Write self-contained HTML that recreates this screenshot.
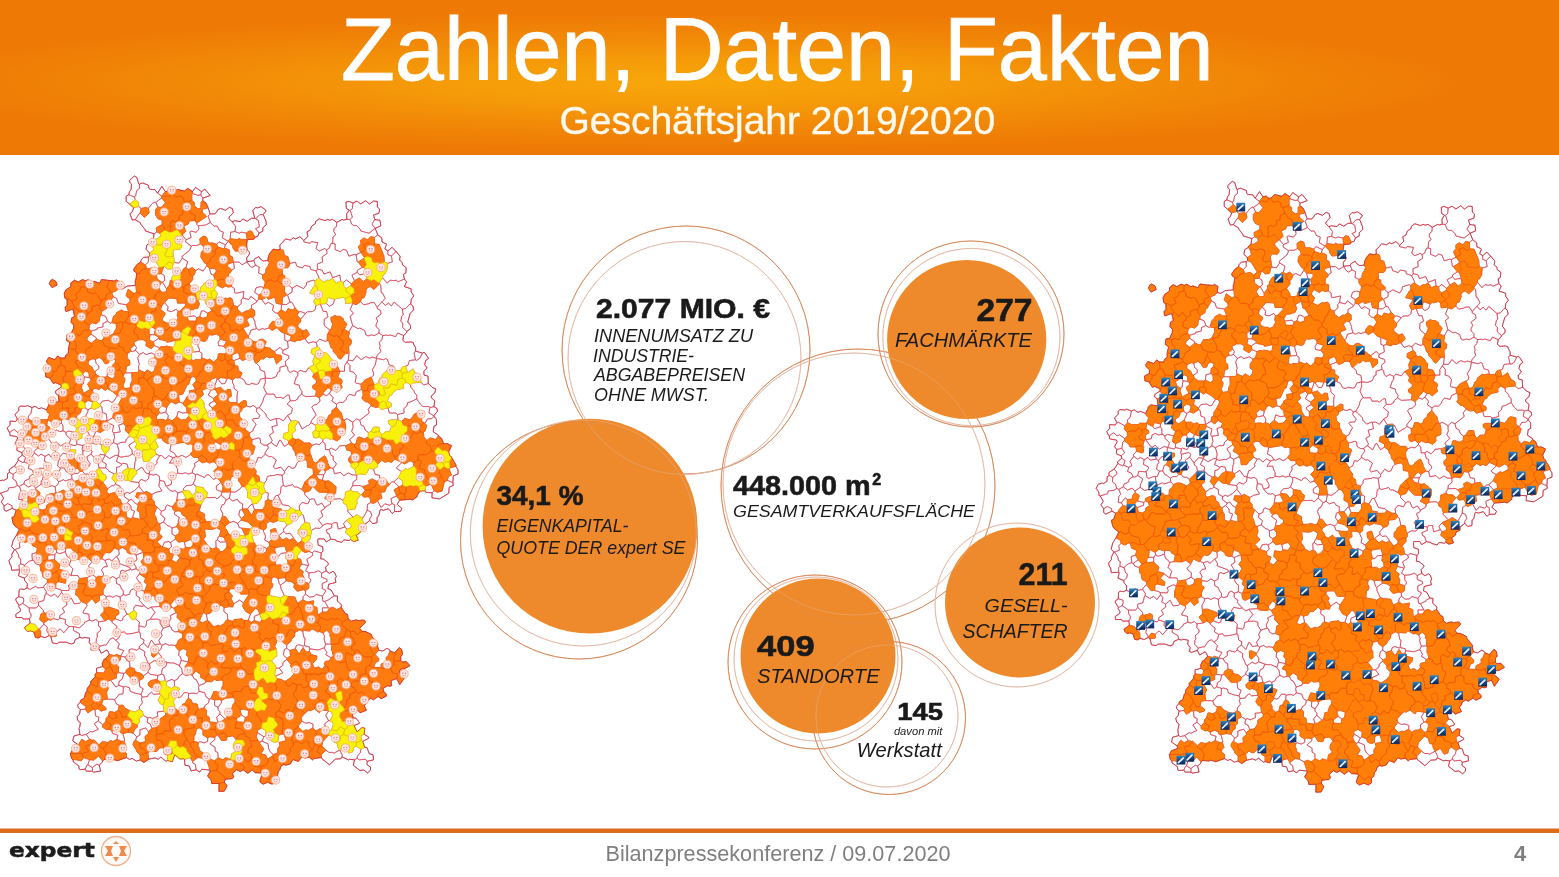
<!DOCTYPE html>
<html lang="de">
<head>
<meta charset="utf-8">
<title>Zahlen, Daten, Fakten – Geschäftsjahr 2019/2020</title>
<style>
html,body{margin:0;padding:0;background:#fff;}
body{width:1559px;height:877px;overflow:hidden;position:relative;font-family:"Liberation Sans",Arial,Helvetica,sans-serif;}
svg{position:absolute;left:0;top:0;display:block;}
text{font-family:"Liberation Sans",Arial,Helvetica,sans-serif;}
.b{font-weight:bold;fill:#1a1a1a;stroke:#1a1a1a;stroke-width:0.6;}
.i{font-style:italic;fill:#1a1a1a;}
.ring{fill:none;stroke:#d88a5c;stroke-width:1;}
.ring2{fill:none;stroke:#e4bba8;stroke-width:1;}
.of{fill:#ee8a2b;}
</style>
</head>
<body>
<svg width="1559" height="877" viewBox="0 0 1559 877">
<defs>
<radialGradient id="hg" gradientUnits="userSpaceOnUse" cx="0" cy="0" r="1" gradientTransform="translate(690 82) scale(770 68)">
<stop offset="0" stop-color="#f8a70a"/>
<stop offset="0.35" stop-color="#f59a09"/>
<stop offset="0.7" stop-color="#f18707"/>
<stop offset="1" stop-color="#ee7a05"/>
</radialGradient>
</defs>
<rect x="0" y="0" width="1559" height="877" fill="#ffffff"/>
<!-- header -->
<g id="header">
<rect x="0" y="0" width="1559" height="155" fill="#ee7a05"/>
<rect x="0" y="0" width="1559" height="155" fill="url(#hg)"/>
<text x="341" y="80" font-size="88.2" fill="#ffffff" stroke="#ffffff" stroke-width="0.9">Zahlen, Daten, Fakten</text>
<text x="559.4" y="133.5" font-size="39" fill="#fff8ec" stroke="#fff8ec" stroke-width="0.4">Geschäftsjahr 2019/2020</text>
</g>
<defs>
<path id="pl" d="M50.8,120.3 49.3,123.7 52.0,127.6 57.2,125.0 56.0,121.5 52.5,119.4ZM71.7,157.9 71.1,162.3 73.8,165.2 73.4,168.7 70.7,174.4 67.2,174.7 66.3,180.2 69.8,182.7 68.3,188.6 68.3,193.5 65.5,195.4 65.1,198.1 60.2,197.9 57.7,195.9 54.8,199.6 48.8,197.5 46.7,200.8 46.8,202.5 50.3,205.7 50.3,209.6 45.3,212.2 45.8,217.0 49.9,218.1 53.4,223.6 55.5,222.6 61.2,225.1 61.1,227.2 55.7,230.9 55.7,233.4 58.2,235.2 59.0,241.0 57.2,242.1 51.8,241.2 48.9,243.7 49.0,244.7 46.5,249.8 41.3,247.8 38.8,248.7 34.9,246.2 32.1,247.5 27.3,245.5 25.6,246.4 20.3,246.0 18.7,247.7 18.8,250.5 15.0,254.5 17.4,259.0 15.8,261.5 10.0,261.1 10.1,265.1 7.2,268.0 8.9,271.8 9.7,272.3 10.1,275.5 17.0,276.7 17.7,278.0 15.1,283.5 17.3,286.2 16.8,290.4 21.8,292.6 22.3,295.1 17.9,298.7 18.4,300.3 14.6,306.0 9.2,309.6 9.5,312.3 7.5,313.7 7.5,318.3 3.6,320.5 2.6,320.0 -1.5,321.2 -3.6,325.4 -1.0,329.0 -0.6,332.6 0.5,333.0 3.6,338.3 1.3,341.9 4.1,345.9 4.0,349.6 6.1,351.3 12.3,348.3 16.1,350.2 14.4,356.3 11.9,357.5 13.0,362.9 14.4,365.5 19.3,369.3 16.6,375.1 13.2,380.4 11.6,386.6 14.4,389.6 11.7,394.8 12.1,396.7 9.0,400.5 10.0,404.7 11.1,405.4 11.7,410.2 19.2,409.9 19.7,410.8 18.5,415.8 24.5,418.2 24.5,420.2 27.4,423.7 27.0,428.0 24.1,429.4 20.8,428.9 19.1,430.1 18.8,436.7 15.9,438.6 15.8,440.1 18.9,445.4 18.7,446.5 20.4,449.2 20.5,451.1 15.7,454.4 16.1,457.5 22.1,457.5 23.1,459.1 29.5,458.9 30.1,463.1 24.6,467.3 25.4,469.5 27.4,471.5 30.6,471.0 33.7,471.9 35.4,477.4 38.5,478.0 40.8,476.5 45.0,477.6 49.2,475.6 50.9,476.9 52.5,483.0 57.3,483.8 58.6,482.3 65.8,482.1 71.3,484.0 74.1,483.0 75.2,479.5 79.9,477.4 82.7,478.2 84.2,477.4 89.6,478.2 89.2,482.6 91.7,485.7 90.8,489.7 93.1,490.5 98.9,488.6 101.3,493.3 106.8,489.9 108.1,491.3 109.3,494.4 105.3,499.0 104.4,499.0 102.2,503.5 102.7,506.6 96.5,508.2 96.7,512.4 95.0,514.7 95.3,516.6 90.5,521.9 90.9,523.7 87.2,528.5 87.0,531.5 85.7,532.5 84.2,538.4 81.0,539.9 80.1,542.2 77.6,545.2 78.2,547.3 80.3,549.6 79.5,554.3 77.0,556.7 78.0,560.9 80.4,562.7 79.9,567.0 79.1,568.5 79.9,574.4 73.9,576.0 72.7,580.9 78.4,584.8 79.1,587.3 72.7,589.6 70.3,593.9 71.6,598.6 73.1,600.1 73.3,601.9 78.8,605.8 79.1,609.0 80.3,609.6 85.2,609.2 86.4,611.2 92.5,611.2 93.4,612.2 100.6,611.1 99.2,605.1 102.4,602.2 102.6,601.0 104.2,599.4 111.0,600.1 111.6,599.0 117.6,600.7 126.4,597.6 129.6,599.4 132.3,598.4 136.3,601.1 140.2,600.0 143.9,602.5 148.8,599.2 155.0,597.9 158.4,599.3 160.7,597.0 166.0,601.3 167.5,600.5 172.3,601.9 174.7,595.1 175.2,595.1 179.7,599.0 183.9,598.8 184.5,599.3 184.9,605.2 189.2,605.9 191.0,610.9 196.2,609.8 199.5,612.0 201.8,609.2 209.8,610.1 210.3,611.1 207.5,615.9 211.2,620.0 211.8,623.6 219.0,623.4 218.9,631.4 224.2,631.2 226.9,626.1 226.8,625.2 224.3,622.2 225.2,619.3 232.3,618.6 233.7,616.9 232.5,613.5 236.7,609.7 240.2,611.6 243.3,609.8 247.8,613.4 252.4,609.8 254.9,612.7 260.8,613.0 262.1,614.5 260.0,620.3 260.1,622.0 263.1,624.2 267.6,622.3 272.1,624.2 275.3,621.9 275.2,617.4 277.6,615.4 278.2,611.6 279.8,610.0 280.9,606.3 283.7,604.5 285.8,605.2 290.3,604.0 292.2,600.6 293.5,599.7 298.4,601.5 302.0,596.6 304.8,598.0 309.4,597.3 312.6,599.9 314.0,598.5 321.4,597.6 322.8,599.7 323.6,599.8 329.5,604.8 335.3,599.1 340.7,598.8 342.1,596.9 348.7,600.0 349.7,599.3 354.5,599.8 353.3,605.3 359.9,610.5 363.8,610.0 367.6,612.9 370.4,610.2 370.6,607.2 367.0,604.6 367.1,601.3 373.5,599.9 373.1,594.8 369.2,593.7 367.0,587.6 364.7,587.2 362.7,581.3 368.7,578.2 368.7,577.0 364.1,574.2 364.9,568.1 361.9,567.5 357.1,571.8 354.0,565.5 359.2,563.5 359.4,562.8 356.0,558.1 353.2,557.9 351.4,550.3 358.2,550.5 360.0,552.8 366.4,550.2 364.3,545.8 366.7,542.8 366.7,541.3 370.8,538.3 373.4,539.8 378.1,536.5 381.1,538.7 386.2,536.2 386.2,534.0 383.8,531.5 382.9,528.6 387.2,525.8 390.1,526.2 391.6,525.7 391.1,520.6 396.7,518.6 399.7,524.7 404.4,518.1 404.2,516.9 399.2,513.1 400.4,509.3 401.0,508.8 404.0,508.9 409.7,505.9 409.5,505.1 406.2,501.5 402.2,502.0 400.8,500.5 400.8,496.4 402.6,494.4 401.6,489.3 399.3,487.5 394.6,492.8 390.1,491.0 389.4,489.7 386.9,488.3 382.8,491.1 378.6,490.0 377.3,485.3 378.0,484.1 371.9,476.5 371.5,474.6 365.1,471.3 363.9,471.7 362.0,471.3 359.7,468.3 365.3,462.8 365.2,461.1 364.2,460.1 362.1,459.9 358.3,460.7 356.4,459.8 351.2,461.2 348.1,458.7 347.5,454.3 345.4,453.6 341.2,447.3 341.4,444.7 337.3,441.1 337.5,436.1 334.4,435.9 331.1,429.9 327.9,428.7 328.7,424.2 336.0,422.4 335.1,418.9 336.3,416.5 334.6,412.5 332.9,411.4 329.3,413.4 326.1,410.9 325.6,407.1 328.3,404.4 328.1,402.7 323.4,399.1 320.7,398.8 321.3,392.9 322.9,391.0 322.7,386.6 318.2,385.2 317.7,380.1 318.1,378.9 324.1,378.9 326.2,382.0 330.8,379.1 335.4,379.7 335.8,380.7 341.7,382.4 343.8,379.8 349.2,380.6 350.4,379.5 353.7,381.6 358.3,380.2 356.4,375.2 360.4,372.4 360.8,369.5 365.0,367.4 364.8,364.4 369.8,360.5 372.7,363.7 377.0,362.7 377.1,357.3 378.8,355.9 380.1,350.0 380.9,349.4 383.3,350.3 388.5,348.8 392.0,353.3 392.9,353.2 394.5,351.5 400.5,351.4 401.9,348.5 397.1,344.3 399.7,340.2 410.0,339.3 412.7,340.0 417.3,336.4 417.1,335.4 420.0,331.2 425.0,330.8 425.9,332.4 432.2,332.8 431.9,337.8 439.6,338.9 448.8,333.2 449.1,327.4 453.3,325.3 452.9,322.7 453.3,315.9 458.1,314.0 458.0,309.7 455.9,306.3 456.2,305.2 451.8,297.9 451.9,297.1 449.8,295.7 448.7,291.9 451.6,285.7 446.8,283.4 445.5,283.8 443.4,283.3 441.5,278.3 438.3,276.1 438.4,275.2 433.2,271.8 434.0,266.1 436.5,265.0 436.4,259.4 433.8,255.7 437.4,251.4 437.1,248.7 433.9,246.7 434.8,240.8 431.4,237.9 431.3,235.9 434.7,233.1 435.8,228.9 432.1,227.3 428.3,223.5 428.0,216.1 424.0,215.1 423.9,211.2 427.2,208.1 424.6,204.5 425.8,200.4 428.6,198.5 425.9,194.0 424.0,192.2 422.4,193.1 415.6,191.1 415.7,187.8 413.5,184.0 413.4,182.7 411.1,181.9 405.3,182.3 402.8,180.3 403.6,175.5 406.5,172.9 406.9,171.4 410.5,168.5 410.5,165.4 407.7,162.0 410.2,153.4 413.7,149.8 412.8,145.8 410.7,144.1 411.3,139.1 413.9,135.9 411.2,131.9 411.1,128.8 404.4,126.6 406.6,121.7 404.4,119.1 403.4,114.3 405.8,113.0 406.2,107.6 402.5,104.9 402.2,102.6 399.6,100.0 400.1,96.1 392.1,87.3 387.9,90.9 384.8,88.8 386.6,84.4 386.2,83.7 382.0,82.0 381.8,78.0 377.8,74.9 375.2,68.4 380.8,65.9 380.0,60.3 374.8,59.5 373.5,55.0 379.0,53.2 379.6,49.0 377.4,47.1 377.3,41.4 373.6,41.0 369.5,44.0 365.7,40.7 360.7,43.9 356.9,41.1 352.9,43.0 348.7,41.3 345.9,42.2 346.4,48.6 349.3,50.1 346.6,54.1 346.9,59.3 343.7,60.1 342.3,59.4 336.8,62.4 332.6,59.4 329.5,60.2 327.5,59.4 325.0,60.6 319.1,58.8 315.5,61.5 315.4,63.6 311.6,66.2 310.0,70.3 306.9,71.9 308.0,76.4 303.8,80.4 299.9,76.7 295.8,78.9 293.3,77.9 290.3,80.1 285.6,78.9 284.2,80.1 284.1,81.2 279.8,85.1 280.2,89.2 277.4,89.9 273.3,89.1 269.9,93.1 268.6,95.9 267.7,100.5 263.2,101.0 260.3,99.0 258.9,96.6 254.7,98.8 253.8,100.7 247.1,101.7 246.6,98.0 249.2,94.6 249.6,92.2 247.2,89.9 246.6,85.1 247.3,79.7 253.9,79.2 254.8,77.3 257.7,76.4 259.1,73.0 262.8,71.2 262.9,67.8 266.4,64.6 266.0,61.2 263.2,54.5 265.9,51.1 265.9,50.1 261.2,46.7 257.6,47.9 255.6,47.5 252.8,50.5 254.8,58.3 251.4,58.3 247.2,61.3 242.8,58.9 240.3,61.7 234.9,60.7 232.1,61.8 228.9,58.6 229.3,56.9 233.3,52.7 232.4,48.6 229.4,47.3 225.6,50.3 220.6,48.4 217.8,49.7 217.3,51.2 214.9,53.9 210.1,53.9 208.1,47.4 206.0,43.0 202.7,40.6 202.9,38.1 210.2,35.5 204.9,29.2 201.6,31.7 195.5,27.4 192.5,31.5 187.6,28.3 184.6,31.1 177.1,29.3 173.4,33.0 171.3,33.1 168.6,30.9 165.3,31.6 161.9,26.4 157.5,33.0 155.0,29.7 150.1,29.3 148.8,28.2 148.5,25.3 142.4,22.9 139.4,24.2 138.7,23.9 136.8,17.3 134.3,16.0 129.7,20.3 129.6,22.3 131.6,24.1 131.0,29.7 129.4,31.8 128.8,34.7 126.2,36.2 126.1,41.3 133.7,47.8 132.1,52.1 129.9,53.8 132.4,60.1 135.3,59.7 140.6,62.9 140.6,64.0 145.1,69.6 145.2,70.9 154.0,73.8 153.3,79.2 150.9,81.2 150.4,82.7 146.9,84.9 146.0,89.3 149.6,93.1 149.7,95.9 148.4,97.0 143.5,97.4 141.1,100.0 140.7,102.0 137.3,104.2 133.7,109.2 134.2,111.3 136.8,113.1 135.8,120.0 135.3,120.4 135.3,125.4 127.2,126.1 122.8,128.8 118.9,128.3 119.8,122.0 116.4,119.9 114.2,121.0 101.6,119.5 99.5,123.3 94.4,121.3 92.3,122.1 88.1,119.7 85.6,120.8 82.5,119.6 78.1,122.1 74.5,120.1 70.7,123.1 70.9,126.5 65.8,129.9 65.3,131.9 64.2,133.0 64.8,138.2 67.0,139.3 67.2,145.4 65.2,146.9 65.5,151.0 66.1,151.6 71.6,149.5 73.2,149.8 74.6,156.5Z"/>
<path id="pw" d="M136.8,17.3 134.3,16.0 129.7,20.3 129.6,22.3 131.6,24.1 131.0,29.7 129.4,31.8 128.8,34.7 134.4,37.1 135.6,35.9 136.7,30.6 139.6,28.3 139.4,24.2 138.7,23.9ZM139.6,28.3 136.7,30.6 135.6,35.9 134.4,37.1 135.2,39.6 138.2,42.1 138.8,46.5 141.1,48.5 145.9,47.4 148.3,48.3 152.5,43.3 155.0,42.0 155.8,42.3 161.7,38.0 161.7,36.1 157.2,33.0 155.0,29.7 150.1,29.3 148.8,28.2 148.5,25.3 142.4,22.9 139.4,24.2ZM165.3,31.6 161.7,36.1 157.5,33.0 161.9,26.4ZM192.6,33.6 197.9,35.3 200.6,35.0 201.6,31.7 195.5,27.4 192.5,31.5ZM204.9,29.2 210.2,35.5 202.9,38.1 200.6,35.0 201.6,31.7ZM135.2,39.6 134.4,37.1 128.8,34.7 126.2,36.2 126.1,41.3 130.0,44.1ZM141.1,48.5 138.8,46.5 133.7,47.8 132.1,52.1 129.9,53.8 132.4,60.1 135.3,59.7 139.0,53.9 140.2,53.2ZM194.4,42.6 194.2,45.5 197.9,48.8 200.8,48.5 201.1,42.0 202.7,40.6 202.9,38.1 200.6,35.0 197.9,35.3 192.6,33.6 191.8,34.7 191.8,40.5ZM206.7,56.4 196.8,63.1 196.9,64.3 198.3,65.8 205.4,65.1 210.4,62.5 208.1,56.2 210.1,53.9 208.0,47.8 202.1,49.3 202.2,52.1ZM149.1,52.9 144.5,57.4 140.2,53.2 139.0,53.9 135.3,59.7 140.6,62.9 140.6,64.0 145.1,69.6 145.2,70.9 154.0,73.8 156.8,71.8 156.3,67.7 162.2,64.6 162.1,59.9 158.1,58.9 155.6,55.0 155.6,49.4 157.9,47.0 155.8,42.3 155.0,42.0 152.5,43.3 148.3,48.3ZM161.0,47.6 157.9,47.0 155.8,42.3 161.7,38.0 165.3,42.4 164.0,44.7ZM352.4,48.6 352.9,43.0 348.7,41.3 345.9,42.2 346.4,48.6 349.3,50.1 346.6,54.1 346.9,59.3 350.0,59.5 352.4,57.1 350.2,50.3ZM352.4,48.6 350.2,50.3 352.4,57.1 350.0,59.5 351.7,64.2 354.1,65.6 356.5,65.4 360.1,69.1 360.7,71.0 369.0,73.2 375.2,68.4 372.3,64.7 372.3,63.6 374.8,59.5 373.5,55.0 379.0,53.2 379.6,49.0 377.4,47.1 377.3,41.4 373.6,41.0 369.5,44.0 365.7,40.7 360.7,43.9 356.9,41.1 352.9,43.0ZM220.6,48.4 217.8,49.7 214.9,53.9 210.1,53.9 208.1,56.2 210.4,62.5 214.0,66.2 217.2,66.0 219.5,70.6 223.4,72.2 222.3,77.8 228.3,81.1 230.2,78.6 230.6,72.2 234.9,71.5 235.8,66.8 232.2,61.8 228.9,58.6 229.3,56.9 233.3,52.7 232.4,48.6 229.4,47.3 225.6,50.3ZM261.2,46.7 257.6,47.9 255.6,47.5 252.8,50.5 254.8,58.3 255.6,58.8 259.7,54.7 263.2,54.5 265.9,51.1 265.9,50.1ZM266.0,61.2 263.2,54.5 259.7,54.7 256.0,58.8 258.3,60.3 259.4,66.9 255.6,68.6 259.1,73.0 262.8,71.2 262.9,67.8 266.4,64.6ZM196.8,63.1 194.8,60.6 189.4,60.9 188.2,64.2 183.7,65.9 185.7,71.4 182.2,75.0 186.1,79.7 191.1,77.6 189.8,71.8 190.8,71.0 196.2,72.3 198.9,69.0 198.3,65.8 196.9,64.3ZM247.2,61.3 242.8,58.9 240.3,61.7 234.9,60.7 232.2,61.8 235.8,66.8 234.9,71.5 239.1,73.3 241.2,72.1 246.2,73.1 249.3,70.9 251.9,71.4 254.8,77.3 257.7,76.4 259.1,73.0 255.6,68.6 259.4,66.9 258.3,60.3 254.8,58.3 251.4,58.3ZM315.5,61.5 315.4,63.6 311.6,66.2 310.0,70.3 306.9,71.9 308.0,76.4 303.8,80.4 303.8,81.9 310.1,83.3 311.4,81.7 317.8,82.6 316.0,88.5 319.1,91.0 324.7,88.6 326.5,89.9 329.1,88.3 331.1,83.3 332.7,83.2 333.0,77.0 335.7,74.8 333.7,71.3 334.0,68.6 336.4,66.7 336.8,62.4 332.6,59.4 329.5,60.2 327.5,59.4 325.0,60.6 319.1,58.8ZM346.9,59.3 343.7,60.1 342.3,59.4 336.8,62.4 336.4,66.7 334.0,68.6 333.7,71.3 335.7,74.8 333.0,77.0 332.7,83.2 335.2,83.9 335.1,89.5 340.2,91.7 343.1,89.4 346.5,90.2 348.9,96.2 354.1,94.5 356.1,94.9 360.6,92.4 358.3,86.9 361.0,83.7 360.5,80.5 364.2,77.9 367.8,80.0 370.8,76.5 374.4,77.5 377.8,74.9 375.2,68.4 369.0,73.2 360.7,71.0 360.1,69.1 356.5,65.4 354.1,65.6 351.7,64.2 350.0,59.5ZM375.2,68.2 380.8,65.9 380.0,60.3 374.8,59.5 372.3,63.6 372.3,64.7ZM198.9,69.0 196.2,72.3 190.8,71.0 189.8,71.8 191.1,77.6 186.1,79.7 185.6,81.9 191.3,86.1 192.1,85.5 196.8,85.5 200.3,83.8 199.8,78.7 203.2,76.2 206.5,77.1 208.3,83.1 212.6,82.9 216.8,84.3 219.0,81.8 225.4,84.8 228.3,81.5 222.3,77.8 223.4,72.2 219.5,70.6 217.2,66.0 214.0,66.2 210.4,62.5 205.4,65.1 198.3,65.8ZM160.7,76.3 160.2,73.5 156.8,71.8 154.0,73.8 153.3,79.2 156.1,79.4ZM189.8,90.1 191.3,86.1 185.6,81.9 186.1,79.7 182.2,75.0 181.5,75.0 177.1,78.7 177.6,81.1 181.7,85.0 181.6,87.2 179.7,89.7 175.4,89.1 172.8,91.3 174.4,102.5 178.9,103.1 182.3,98.2 181.9,96.5ZM230.2,78.6 237.2,79.7 238.9,78.3 241.0,79.4 247.2,79.5 246.2,73.1 241.2,72.1 239.1,73.3 234.9,71.5 230.6,72.2ZM225.4,84.8 224.4,87.9 229.5,90.0 229.6,95.5 232.3,96.7 233.4,102.1 239.0,102.0 242.1,104.8 247.0,101.9 250.2,106.5 252.2,107.5 255.5,105.3 253.8,100.7 247.1,101.7 246.6,98.0 249.2,94.6 249.6,92.2 247.2,89.9 240.8,91.6 240.0,90.8 235.4,91.3 232.6,87.5 232.9,86.2 228.3,81.5ZM303.8,80.4 299.9,76.7 295.8,78.9 293.3,77.9 290.3,80.1 285.6,78.9 279.8,85.1 280.2,89.2 283.5,90.4 284.3,95.6 287.9,96.6 289.7,103.5 295.5,102.1 296.8,106.2 302.4,108.0 304.4,105.4 310.0,106.5 310.6,109.3 316.0,111.0 317.5,109.1 317.3,104.0 322.6,102.0 322.1,96.9 327.1,93.5 326.5,89.9 324.7,88.6 319.1,91.0 316.0,88.5 317.8,82.6 311.4,81.7 310.1,83.3 303.8,81.9ZM381.8,78.0 377.8,74.9 374.4,77.5 374.7,84.1 379.1,84.3 383.9,95.8 384.4,102.0 387.4,103.4 392.4,101.9 391.4,96.0 387.8,94.6 387.9,90.9 384.8,88.8 386.6,84.4 382.0,82.0ZM360.9,92.5 356.1,94.9 357.2,101.7 358.3,101.9 364.2,98.2 364.5,97.4ZM357.4,110.3 357.2,112.3 359.8,114.8 365.8,113.7 366.0,113.2 364.2,107.6 362.2,107.3ZM149.6,93.1 153.8,89.7 152.0,84.3 150.4,82.7 146.9,84.9 146.0,89.3ZM148.4,101.9 145.4,105.0 147.4,109.0 152.4,107.7 155.8,110.5 159.5,107.3 153.4,97.4 149.7,95.9 148.4,97.0ZM203.3,86.2 200.3,83.8 196.8,85.5 192.1,85.5 191.3,86.1 189.8,90.1 181.9,96.5 182.3,98.2 187.7,101.7 185.9,107.7 188.6,109.4 192.4,107.4 195.7,110.6 198.6,108.8 203.1,111.1 206.8,105.7 206.9,103.9 204.5,102.9 200.8,96.9 201.4,92.0 204.1,89.6ZM217.6,86.8 223.3,88.8 224.4,87.9 225.4,84.8 219.0,81.8 216.8,84.3ZM233.4,102.2 227.7,104.2 227.1,105.8 231.7,110.1 234.5,108.3ZM209.5,108.5 211.0,114.1 213.6,115.1 216.1,111.8 216.2,110.1 214.7,108.6ZM331.1,83.3 329.1,88.3 326.5,89.9 327.1,93.5 322.1,96.9 322.6,102.0 317.3,104.0 317.5,109.1 322.2,110.1 323.9,114.1 330.1,111.9 332.8,117.7 339.9,115.0 340.6,121.1 343.2,122.5 346.4,119.9 351.4,123.9 354.4,120.5 351.9,115.2 357.2,112.3 357.4,110.3 362.2,107.3 358.3,101.9 357.2,101.7 356.1,94.9 354.1,94.5 348.9,96.2 346.5,90.2 343.1,89.4 340.2,91.7 335.1,89.5 335.2,83.9ZM396.1,91.3 391.4,96.0 387.8,94.6 387.9,90.9 392.1,87.3ZM145.4,105.0 148.4,101.9 148.4,97.0 143.5,97.4 141.1,100.0 140.7,102.0ZM258.9,96.6 254.7,98.8 253.8,100.7 255.5,105.3 259.3,107.0 258.6,113.0 262.6,114.9 265.7,113.0 266.0,108.5 267.4,107.3 269.4,102.8 267.7,100.5 263.2,101.0 260.3,99.0ZM392.4,101.9 387.4,103.4 386.8,110.2 384.8,114.1 382.9,115.0 382.5,117.7 387.2,123.2 390.2,120.1 393.5,120.7 396.6,120.2 397.9,121.8 404.4,119.1 403.4,114.3 405.8,113.0 406.2,107.6 402.5,104.9 402.2,102.6 399.6,100.0 400.1,96.1 396.1,91.3 391.4,96.0ZM187.7,101.7 182.3,98.2 178.9,103.1 174.4,102.5 173.3,103.2 172.0,108.7 167.7,109.3 164.4,106.4 163.5,106.9 161.3,113.7 164.2,115.4 164.8,120.4 162.6,122.2 166.5,128.8 169.8,124.5 170.1,120.7 171.7,120.0 172.1,116.8 175.6,112.1 180.8,114.1 183.9,108.3 185.9,107.7ZM233.4,102.1 234.5,108.3 231.7,110.1 230.6,112.6 228.6,113.4 228.2,119.4 232.0,120.4 231.5,126.6 234.3,128.3 234.6,132.7 236.4,133.2 243.9,131.5 243.0,138.1 248.8,139.5 250.9,136.3 257.0,141.2 258.7,139.0 258.8,135.1 254.6,132.3 256.1,127.8 260.1,126.6 263.5,127.4 264.2,127.0 265.3,122.0 262.5,118.4 262.6,114.9 258.6,113.0 259.3,107.0 255.5,105.3 252.2,107.5 250.2,106.5 247.0,101.9 242.1,104.8 239.0,102.0ZM288.8,106.7 287.5,107.8 281.9,107.7 282.5,114.7 284.8,115.7 284.6,118.7 289.4,122.9 288.7,125.0 292.1,128.2 296.9,125.4 303.7,128.6 306.4,124.9 306.5,122.4 313.4,120.1 315.0,120.9 318.6,118.2 318.9,117.3 316.0,111.0 310.6,109.3 310.0,106.5 304.4,105.4 302.4,108.0 296.8,106.2 295.5,102.1 289.7,103.5ZM206.8,105.7 203.1,111.1 198.6,108.8 195.7,110.6 194.3,114.7 192.5,116.0 192.8,119.4 189.2,123.9 192.5,129.0 192.9,131.7 195.7,132.4 200.0,131.5 200.9,127.2 203.8,124.4 204.0,123.3 214.9,119.6 213.6,115.1 211.0,114.1 209.5,108.5ZM317.5,109.1 316.0,111.6 318.9,117.3 318.6,118.2 323.9,122.3 327.2,120.2 329.6,120.3 332.5,118.4 336.1,123.3 340.6,121.1 339.9,115.0 332.8,117.7 330.1,111.9 323.9,114.1 322.2,110.1ZM350.9,125.9 351.4,123.9 346.4,119.9 343.2,122.5 343.8,126.4 346.2,128.4ZM326.5,143.6 329.4,146.4 333.1,144.1 334.7,139.5 328.9,137.6 327.3,138.5ZM156.4,114.1 161.3,113.7 164.2,115.4 164.8,120.4 161.8,122.3 157.0,118.9ZM367.0,118.8 365.8,113.7 359.8,114.8 357.2,112.3 351.9,115.2 354.4,120.5 359.3,117.9 363.3,121.5ZM379.3,124.1 373.9,129.4 370.3,126.6 367.7,127.4 365.7,130.3 366.2,131.8 364.2,137.6 361.3,138.5 360.7,141.7 363.5,144.8 369.4,143.6 369.8,142.9 374.1,142.4 377.3,147.2 385.2,138.4 382.6,133.2 381.3,132.9 380.7,124.9ZM292.1,132.1 287.5,134.9 290.0,142.0 292.0,142.3 295.0,147.9 298.8,151.9 300.8,151.6 305.5,153.5 307.2,151.8 312.3,151.6 315.1,149.6 315.9,145.6 313.7,141.3 317.0,136.0 316.7,134.9 309.8,133.2 313.5,126.7 315.1,125.6 315.0,120.9 313.4,120.1 306.5,122.4 306.4,124.9 303.7,128.6 296.9,125.4 292.1,128.2ZM380.7,124.9 381.3,132.9 382.6,133.2 385.2,138.4 382.1,141.8 385.3,145.5 388.4,143.0 391.4,145.9 394.0,142.1 402.3,149.2 405.8,148.5 409.5,144.4 410.7,144.1 411.3,139.1 413.9,135.9 411.2,131.9 411.1,128.8 404.4,126.6 406.6,121.7 404.4,119.1 397.9,121.8 396.6,120.2 393.5,120.7 390.2,120.1 387.2,123.2 382.5,117.7 379.0,123.1ZM136.5,132.2 135.9,126.0 135.3,125.4 127.2,126.1 122.8,128.8 118.9,128.3 116.4,130.7 111.8,132.6 113.2,136.7 116.6,138.3 118.3,143.4 126.2,144.8 130.2,141.6 129.6,138.3 127.6,137.4 126.1,135.3 128.2,129.2 134.0,133.6ZM158.5,127.1 160.4,131.1 162.7,132.4 166.7,131.7 166.5,128.8 162.6,122.2 161.8,122.3ZM176.9,138.8 169.0,138.1 164.6,142.1 168.1,146.9 167.4,150.6 171.4,151.6 176.3,149.2 178.0,151.3 179.9,151.2 185.8,145.1 185.0,143.0 177.6,143.2ZM214.5,129.8 217.6,133.5 215.5,138.4 220.8,141.2 225.0,138.1 227.3,138.5 230.8,137.7 232.2,139.3 233.7,145.3 237.4,146.8 241.3,143.6 241.1,139.9 243.0,138.1 243.9,131.5 236.4,133.2 234.6,132.7 234.3,128.3 231.5,126.6 228.2,127.1 225.8,125.9 222.2,128.0 217.1,125.0 214.9,127.9ZM282.5,137.6 282.0,144.3 286.5,144.5 290.0,142.0 287.5,134.9 292.1,132.1 292.1,128.2 288.7,125.0 284.5,125.8 284.6,131.8 286.9,134.8ZM263.0,132.4 263.5,127.4 260.1,126.6 256.1,127.8 254.6,132.3 258.8,135.1ZM261.9,139.6 265.2,144.3 268.3,142.3 273.6,145.3 272.5,150.4 275.5,152.9 277.5,153.2 281.1,149.8 281.7,144.5 276.3,143.3 274.8,137.1 268.4,139.3 266.7,137.1ZM116.6,138.3 113.2,136.7 109.7,142.1 109.7,143.2 107.2,144.9 106.6,148.5 101.6,151.3 101.5,154.9 105.7,156.4 107.6,161.3 110.5,163.2 111.9,162.7 113.4,156.6 116.4,153.9 116.4,152.7 121.3,149.9 124.6,151.6 128.5,151.3 126.2,144.8 118.3,143.4ZM204.1,136.7 198.0,140.4 199.6,144.0 197.7,148.3 194.7,148.7 193.4,149.7 189.2,149.9 186.5,154.2 187.0,156.8 194.8,155.9 196.7,157.9 199.8,156.5 201.4,151.2 203.6,150.8 207.7,153.1 212.2,150.9 207.8,144.4 205.7,143.6ZM257.0,141.2 250.9,136.3 248.8,139.5 243.0,138.1 241.1,139.9 241.3,143.6 237.4,146.8 237.8,149.8 241.9,153.4 246.2,150.8 248.2,150.9 251.3,148.4 251.6,145.1 256.7,142.1ZM252.9,157.3 250.0,156.9 246.5,159.9 249.2,165.0 249.0,165.7 243.7,167.6 243.4,168.8 247.4,175.4 248.2,175.6 249.6,174.5 250.8,170.2 256.5,168.6 254.8,163.0 255.2,162.4ZM258.7,139.0 256.7,142.1 251.6,145.1 251.3,148.4 254.6,150.5 254.8,155.5 252.9,157.3 255.2,162.4 254.8,163.0 256.5,168.6 258.9,170.0 262.4,168.5 264.5,169.3 269.0,168.0 269.4,165.2 272.8,161.2 277.7,162.8 280.7,157.7 277.5,153.2 275.5,152.9 272.5,150.4 273.6,145.3 268.3,142.3 265.2,144.3 261.9,139.6ZM333.1,144.1 329.4,146.4 326.5,143.6 320.4,144.1 323.3,151.5 326.5,151.4 328.0,156.9 324.3,159.1 324.1,164.1 324.9,166.2 329.7,169.9 331.0,169.4 332.9,163.9 331.4,162.0 330.8,157.7 334.9,155.4 336.8,156.3 340.1,156.4 343.3,158.6 343.4,160.2 346.9,163.9 344.2,169.5 348.9,171.9 352.6,165.4 350.1,156.3 353.1,153.9 353.1,152.8 350.2,149.7 352.7,143.6 351.9,142.8 345.9,143.6 345.1,138.6 343.1,137.1 338.2,138.4 337.1,137.9 334.7,139.5ZM161.5,146.2 160.6,149.7 164.9,152.8 165.0,154.5 162.3,158.4 162.5,160.6 166.2,162.9 170.8,163.3 171.7,164.1 175.2,163.2 178.2,158.0 177.2,155.4 178.0,151.3 176.3,149.2 171.4,151.6 167.4,150.6 168.1,146.9 164.6,142.8ZM295.0,147.9 292.0,142.3 290.0,142.0 286.5,144.5 281.7,144.5 281.1,149.8 285.9,152.5 288.0,148.7 292.6,150.0ZM297.2,155.3 300.6,159.2 305.5,153.5 300.8,151.6 298.8,151.9ZM287.5,181.4 290.1,180.4 291.3,176.0 285.4,173.3 284.7,173.8 284.8,180.3ZM312.3,151.6 307.2,151.8 305.5,153.5 300.6,159.2 300.6,162.0 297.8,164.5 297.8,167.1 303.0,171.0 306.5,169.6 309.5,174.8 305.2,179.0 308.3,183.3 312.9,181.7 316.1,182.5 319.7,179.2 325.3,181.4 327.2,180.5 327.4,174.5 329.7,169.9 324.9,166.2 324.1,164.1 324.3,159.1 328.0,156.9 326.5,151.4 323.3,151.5 320.2,144.0 315.9,145.6 315.1,149.6ZM350.2,149.7 353.1,152.8 353.1,153.9 350.1,156.3 352.6,165.4 358.0,168.7 359.9,168.0 364.6,170.5 366.0,174.9 368.0,176.0 371.5,174.9 374.5,175.6 379.0,173.0 379.1,169.6 376.4,166.9 375.9,165.0 377.8,161.0 376.0,158.0 381.1,154.1 380.6,150.4 377.2,148.6 377.3,147.2 374.1,142.4 369.8,142.9 369.4,143.6 363.5,144.8 360.7,141.7 356.1,144.7 352.7,143.6ZM377.2,148.6 380.6,150.4 381.1,154.1 376.0,158.0 377.8,161.0 375.9,165.0 376.4,166.9 379.1,169.6 379.0,173.0 382.8,175.5 386.7,175.1 387.9,175.7 389.9,174.9 395.6,176.6 397.7,173.0 403.6,175.5 406.5,172.9 406.9,171.4 402.6,167.4 402.8,163.0 400.7,161.2 401.8,156.1 403.2,155.0 402.3,149.2 399.5,146.5 394.0,142.1 391.4,145.9 388.4,143.0 385.3,145.5 381.9,141.8 377.3,147.2ZM412.8,145.8 410.7,144.1 409.5,144.4 405.8,148.5 402.3,149.2 403.2,155.0 401.8,156.1 400.7,161.2 402.8,163.0 402.6,167.4 406.9,171.4 410.5,168.5 410.5,165.4 407.7,162.0 410.2,153.4 413.7,149.8ZM207.7,153.1 203.6,150.8 201.4,151.2 199.8,156.5 202.9,158.3 207.2,157.0ZM101.5,154.9 100.0,156.0 99.2,161.2 95.9,163.9 92.6,162.7 89.5,164.8 88.9,169.2 91.2,171.1 96.9,169.4 97.2,168.1 102.9,166.9 103.1,163.3 107.6,161.3 105.7,156.4ZM194.8,155.9 196.7,157.9 195.7,161.1 188.5,161.1 187.0,156.8ZM113.4,173.8 116.5,167.9 116.1,163.6 111.9,162.7 110.5,163.2 107.6,161.3 103.1,163.3 102.9,166.9 97.2,168.1 96.9,169.4 91.2,171.1 91.1,174.2 96.1,177.6 96.4,179.0 100.0,180.6 102.2,180.6 105.0,175.6 110.6,175.4ZM150.0,174.7 154.2,174.7 155.4,169.1 151.9,166.9 149.0,169.1 149.2,173.4ZM159.0,179.3 158.4,178.6 153.5,181.9 154.2,185.6 159.5,187.7 161.2,186.5 165.2,186.7 166.1,186.0 172.8,187.4 174.7,185.5 175.4,181.4 174.6,180.6 166.9,182.3 166.5,180.9ZM256.5,168.6 250.8,170.2 249.6,174.5 248.2,175.6 248.6,177.9 254.0,181.8 258.0,181.7 258.6,180.0 262.2,179.1 266.2,181.6 264.5,185.8 265.3,187.4 270.4,188.2 270.9,189.5 274.5,191.6 280.1,187.3 282.9,190.4 288.3,187.9 287.5,181.4 284.8,180.3 284.7,173.8 280.9,171.8 277.0,167.6 272.1,170.4 269.0,168.0 264.5,169.3 262.4,168.5 258.9,170.0ZM348.3,177.1 351.5,180.1 351.0,184.4 348.6,186.0 349.1,193.3 348.2,200.2 353.0,200.7 356.7,195.6 361.2,199.7 365.7,196.6 369.5,198.2 372.1,197.1 376.3,198.0 377.1,195.3 381.0,191.5 379.5,187.8 380.2,186.6 379.4,182.4 381.9,179.5 382.8,175.5 379.0,173.0 374.5,175.6 371.5,174.9 368.0,176.0 366.0,174.9 364.6,170.5 359.9,168.0 358.0,168.7 352.6,165.4 348.9,171.9 349.4,173.0ZM96.1,177.6 96.4,179.0 91.3,183.3 86.8,180.0 87.4,177.3 91.1,174.2ZM154.2,174.7 150.0,174.7 149.2,180.2 153.5,181.9 158.4,178.6 158.5,177.0ZM134.6,185.0 136.5,187.6 135.4,190.4 139.6,194.3 143.2,192.6 146.0,194.6 151.7,192.9 155.1,195.1 157.7,193.7 159.5,187.7 154.2,185.6 151.2,188.8 145.9,185.7 146.4,181.7 143.1,179.7 138.6,179.8 133.8,182.1ZM210.0,174.6 208.5,175.5 206.5,180.3 204.4,181.5 199.6,180.3 197.6,182.3 197.9,186.0 199.4,189.2 199.3,191.5 201.9,193.2 201.8,197.9 207.8,200.1 209.6,198.9 213.6,202.1 217.9,198.1 218.3,194.1 218.9,193.6 224.7,193.9 226.8,192.2 227.0,190.1 223.8,186.3 218.8,185.6 218.1,182.5 220.1,179.2 220.0,176.6 216.8,174.2 211.4,175.2ZM387.9,175.7 386.7,175.1 382.8,175.5 381.9,179.5 379.4,182.4 380.2,186.6 379.5,187.8 381.0,191.5 377.1,195.3 376.3,198.0 383.8,199.8 385.5,198.5 387.3,199.2 389.2,204.9 393.9,206.3 394.9,210.8 400.4,210.5 402.2,207.2 408.0,205.2 409.5,200.5 415.5,199.8 414.0,193.0 415.6,191.1 415.7,187.8 413.5,184.0 413.4,182.7 411.1,181.9 405.3,182.3 402.8,180.3 403.6,175.5 397.7,173.0 395.6,176.6 389.9,174.9ZM197.6,182.3 193.4,181.5 190.6,183.2 190.9,185.6 192.5,186.9 193.3,192.0 199.3,191.5 199.4,189.2 197.9,186.0ZM218.1,182.5 218.8,185.6 223.8,186.3 226.8,181.1 220.1,179.2ZM233.8,200.6 240.0,198.2 238.8,193.1 236.5,192.8 232.1,194.9 231.8,199.2ZM287.5,181.4 288.3,187.9 282.9,190.4 282.7,193.4 288.5,195.6 289.0,198.3 285.4,201.2 285.9,205.6 287.6,206.8 288.0,210.5 290.2,212.6 293.9,210.6 297.9,212.6 299.9,210.3 305.6,212.0 308.6,207.7 313.8,204.9 312.9,200.7 314.7,196.9 314.4,195.2 311.2,193.2 311.7,189.4 317.4,186.6 316.1,182.5 312.9,181.7 308.3,183.3 305.2,179.0 304.1,178.6 300.6,180.3 297.0,180.3 295.1,181.8 290.1,180.4ZM317.4,186.6 319.6,188.1 320.6,191.8 322.1,192.7 325.2,192.3 329.4,195.8 329.8,197.5 332.2,199.6 331.8,204.5 332.3,205.2 337.4,206.2 339.9,211.3 344.5,211.2 344.5,205.8 348.2,200.2 349.0,193.3 345.7,193.2 340.3,199.3 337.7,197.3 337.7,196.1 333.1,191.3 333.2,188.8 331.2,187.9 329.0,181.2 327.2,180.5 325.3,181.4 319.7,179.2 316.1,182.5ZM134.6,185.0 130.3,188.7 131.1,191.2 132.6,191.6 135.4,190.4 136.5,187.6ZM261.4,198.8 256.5,203.4 259.7,206.6 260.2,209.9 264.6,211.7 265.4,218.0 271.5,218.6 276.1,216.7 278.1,212.1 279.9,211.3 279.9,207.3 285.9,205.6 285.4,201.2 289.0,198.3 288.5,195.6 282.7,193.4 282.9,190.4 280.1,187.3 274.5,191.6 275.8,194.7 281.0,195.3 281.6,199.2 276.5,203.9 274.2,197.0 269.2,197.7 266.8,196.4 263.6,199.0ZM139.6,194.3 135.4,190.4 132.6,191.6 131.1,191.2 127.3,193.5 127.1,198.1 129.5,200.2 130.0,204.7 126.4,206.5 125.6,212.9 137.8,212.6 138.9,210.1 138.5,205.7 139.4,204.9 137.7,197.8ZM139.6,194.3 137.7,197.8 139.4,204.9 138.5,205.7 138.9,210.1 144.6,212.5 147.2,209.9 151.9,212.7 154.3,210.4 155.4,206.3 152.3,204.2 152.5,199.7 155.0,196.5 155.1,195.1 151.7,192.9 146.0,194.6 143.2,192.6ZM201.8,197.9 201.9,193.2 199.3,191.5 193.3,192.0 191.7,192.8 191.0,199.5 193.7,200.7 195.6,199.5 200.9,199.8ZM415.5,199.8 414.0,193.0 415.6,191.1 422.4,193.1 419.8,198.4 416.6,200.4ZM424.0,192.2 422.4,193.1 419.8,198.4 416.6,200.4 415.5,199.8 409.5,200.5 408.0,205.2 405.7,206.3 407.4,212.1 408.1,212.5 413.1,208.9 416.0,214.9 420.6,218.1 420.9,222.3 423.9,224.9 428.3,223.5 428.0,216.1 424.0,215.1 423.9,211.2 427.2,208.1 424.6,204.5 425.8,200.4 428.6,198.5ZM95.2,199.4 92.8,198.7 88.5,200.5 88.0,204.5 92.1,207.2 93.5,210.7 95.0,211.4 98.9,208.5 98.8,206.0 96.2,203.4ZM84.4,216.9 89.5,217.7 88.8,212.4 85.5,210.9 82.5,214.0ZM108.5,203.0 105.6,203.8 104.0,202.6 103.2,200.3 99.5,197.4 95.2,199.4 96.2,203.4 98.8,206.0 98.9,208.5 95.0,211.4 95.7,214.3 100.1,217.1 105.4,217.2 107.1,216.2 107.6,210.9 112.6,209.7 112.8,204.8 115.1,202.8 115.8,199.7 112.3,198.2 109.6,199.5ZM234.8,205.6 237.9,206.2 238.2,210.2 242.1,212.9 240.0,217.6 243.9,219.7 246.0,223.9 247.7,224.6 249.4,224.6 251.4,223.4 256.4,224.4 258.4,223.7 260.4,219.2 265.4,218.0 264.6,211.7 260.2,209.9 259.7,206.6 256.5,203.4 255.4,203.1 253.4,197.7 248.0,197.4 246.8,198.8 242.1,200.6 240.0,198.2 233.8,200.6ZM356.7,195.6 353.0,200.7 348.2,200.2 347.0,202.0 350.0,205.5 349.9,211.3 353.5,212.2 356.3,215.7 355.2,222.3 355.9,223.1 361.0,224.2 363.9,221.6 364.1,220.6 370.2,217.4 371.2,217.4 373.4,215.5 373.7,213.3 372.3,209.7 375.1,205.2 376.6,198.6 372.1,197.1 369.5,198.2 365.7,196.6 361.2,199.7ZM388.5,210.8 394.4,210.2 393.9,206.3 389.2,204.9 387.3,199.2 385.5,198.5 383.8,199.8 376.6,198.6 375.1,205.2 372.3,209.7 373.7,213.3 373.4,215.5 371.2,217.4 374.1,224.6 377.8,223.7 380.2,217.9 382.3,216.8 382.2,214.6 387.3,210.3ZM279.9,207.3 279.9,211.3 278.1,212.1 276.1,216.7 271.5,218.6 265.2,218.1 265.4,222.6 263.6,227.3 266.7,233.7 268.0,234.2 274.2,234.1 275.8,237.5 281.4,237.4 283.0,238.5 287.9,234.8 289.2,235.1 290.2,240.8 295.0,240.7 298.0,238.7 298.1,237.1 301.6,234.1 302.2,231.8 299.9,228.3 299.4,225.3 294.2,223.7 296.4,216.9 297.7,216.1 297.9,212.6 293.9,210.6 290.2,212.6 288.0,210.5 287.6,206.8 285.9,205.6ZM337.8,217.2 341.5,219.5 342.3,221.4 340.9,224.5 342.3,227.4 336.7,232.2 333.8,229.8 331.5,229.9 329.4,233.5 333.2,237.6 331.9,241.1 336.5,244.2 339.2,242.3 342.9,242.6 346.4,239.4 346.4,237.8 349.2,234.4 354.9,235.7 356.5,231.7 361.3,229.6 361.0,224.2 355.9,223.1 355.2,222.3 356.3,215.7 353.5,212.2 349.9,211.3 350.0,205.5 347.0,202.0 344.5,205.8 344.5,211.2 339.9,211.3ZM107.1,216.2 107.6,210.9 112.6,209.7 114.7,211.2 115.0,216.1 112.4,219.0ZM131.6,213.0 125.6,212.9 123.5,214.8 123.2,216.6 124.9,218.6 124.6,221.6 123.0,225.4 124.5,228.6 130.3,227.9 130.5,224.4 132.2,220.4ZM297.9,212.6 297.7,216.1 296.4,216.9 294.2,223.7 299.4,225.3 299.9,228.3 302.2,231.8 301.6,234.1 305.5,236.7 315.6,236.1 316.4,230.6 312.8,228.3 312.6,225.8 316.5,223.0 316.7,220.7 312.6,217.1 314.0,213.6 309.0,207.7 305.6,212.0 299.9,210.3ZM323.0,232.9 323.1,234.3 326.6,235.6 329.4,233.5 331.5,229.9 328.1,227.5ZM82.0,224.4 83.3,223.8 84.4,216.9 82.4,214.3 76.7,217.8 78.1,222.1ZM91.0,220.5 90.9,219.2 89.5,217.7 84.4,216.9 83.3,223.8 82.0,224.4 81.5,227.6 83.5,233.3 90.3,229.5 87.6,223.9ZM188.8,224.2 187.1,224.8 182.9,234.0 178.4,235.0 179.5,242.1 182.9,243.3 186.2,238.7 186.2,237.5 189.9,235.2 189.3,230.9 195.6,229.7 192.8,224.7 196.2,220.8 195.7,217.6 193.1,216.4 190.7,217.5ZM220.9,217.5 218.0,219.1 221.9,223.9 225.0,223.5 227.0,218.4ZM211.0,219.4 209.8,222.1 214.8,225.6 217.2,218.9 215.6,217.6ZM227.7,218.0 225.0,223.5 221.9,223.9 218.0,219.1 217.2,218.9 214.8,225.6 215.1,228.9 220.4,227.2 225.0,231.6 227.5,229.4 230.6,229.6 231.5,236.1 228.4,238.3 227.9,240.6 230.3,242.5 237.0,242.7 237.0,235.5 237.8,231.5 234.0,228.3 234.1,225.8 232.5,222.6 232.6,219.8ZM208.3,235.1 213.5,238.4 218.2,234.6 215.0,229.1 210.8,230.2ZM214.0,241.0 209.7,243.4 209.0,245.1 212.3,248.0 217.3,243.9ZM238.3,218.0 235.7,217.5 232.6,219.8 232.5,222.6 234.1,225.8 234.0,228.3 237.8,231.5 237.0,235.5 237.0,242.7 238.6,244.1 243.6,240.5 246.2,240.9 246.5,246.0 250.1,247.0 253.6,245.5 256.9,248.3 259.4,247.7 262.8,241.6 263.8,237.4 266.7,233.7 263.6,227.3 265.4,222.6 265.2,218.1 260.4,219.2 258.4,223.7 256.4,224.4 251.4,223.4 249.4,224.6 246.0,223.9 243.9,219.7 240.0,217.6ZM396.4,229.8 392.5,233.3 392.0,234.7 389.8,235.4 387.2,241.0 391.4,243.5 391.3,246.4 388.0,248.2 389.4,253.0 395.9,253.0 397.4,254.5 404.1,253.0 403.8,248.7 406.8,246.1 407.7,242.5 410.4,242.0 416.7,238.9 417.0,236.5 416.7,235.1 414.6,232.8 414.0,230.7 410.9,227.5 410.6,224.7 406.1,222.2 403.1,225.1 403.3,228.3ZM414.1,230.9 414.6,232.8 416.7,235.1 416.7,238.9 420.2,244.0 423.0,246.6 428.8,246.5 430.0,247.5 433.9,246.7 434.8,240.8 431.4,237.9 431.3,235.9 434.7,233.1 435.8,228.9 432.1,227.3 428.9,223.6 423.9,224.9 420.9,222.3 412.3,223.0 410.6,224.7 410.9,227.5ZM61.1,227.2 55.7,230.9 55.7,233.4 58.2,235.2 63.0,233.3 63.5,230.8ZM98.9,229.5 95.0,228.1 92.4,230.3 93.5,234.0 96.0,236.5 95.0,240.7 100.0,244.6 102.5,241.0 108.4,240.3 111.6,242.3 113.5,241.8 117.2,235.7 113.3,232.1 107.5,228.7 105.2,230.3 101.4,227.7ZM208.3,227.6 201.8,230.4 203.5,234.6 200.1,237.7 203.8,242.2 204.1,246.7 206.8,252.2 210.5,253.7 212.5,253.0 212.3,248.0 209.0,245.1 209.7,243.4 214.0,241.0 213.5,238.4 208.3,235.1 210.8,230.2ZM349.2,234.4 346.4,237.8 346.4,239.4 342.9,242.6 339.2,242.3 336.5,244.2 336.4,247.1 340.0,251.9 341.1,252.5 343.1,259.6 344.4,260.0 347.0,258.7 352.8,262.2 356.4,258.8 359.8,260.3 369.2,253.0 368.2,249.3 371.0,245.7 370.5,244.3 367.1,241.7 365.4,241.8 362.2,238.8 361.8,237.9 363.0,235.8 362.9,230.8 361.3,229.6 356.5,231.7 354.9,235.7ZM117.2,235.7 113.5,241.8 111.6,242.3 108.4,240.3 102.5,241.0 100.0,244.6 100.4,246.0 101.8,247.0 102.5,252.5 106.2,253.9 107.3,260.9 112.7,257.8 113.5,253.3 115.6,252.5 115.5,249.2 118.5,244.8 121.7,238.3 119.6,235.6ZM274.2,234.1 268.0,234.2 266.7,233.7 263.8,237.4 262.8,241.6 259.4,247.7 266.1,254.2 266.4,256.6 270.3,260.6 275.4,258.6 279.5,258.6 283.4,260.8 287.7,255.1 291.5,253.1 292.4,248.3 287.2,244.1 290.2,240.8 289.2,235.1 287.9,234.8 283.0,238.5 281.4,237.4 275.8,237.5ZM298.1,237.1 298.0,238.7 295.0,240.7 290.2,240.8 287.2,244.1 292.4,248.3 291.5,253.1 287.6,255.5 291.2,261.2 296.3,260.5 298.5,261.9 302.2,269.0 307.4,265.5 308.3,265.5 311.2,262.9 311.1,261.1 315.8,255.4 315.8,254.2 311.8,247.2 313.6,245.1 316.5,244.5 320.1,241.2 319.4,237.8 315.6,236.1 305.5,236.7 301.6,234.1ZM323.1,234.3 319.4,237.8 320.1,241.2 316.5,244.5 313.6,245.1 311.8,247.2 315.8,254.2 315.8,255.4 311.1,261.1 311.2,262.9 315.5,265.1 317.5,264.1 319.0,258.9 322.8,259.3 324.9,260.5 327.6,258.9 328.5,255.7 331.6,253.7 332.1,250.4 336.4,247.1 336.5,244.2 331.9,241.1 333.2,237.6 329.4,233.5 326.6,235.6ZM91.2,248.1 88.0,249.7 85.1,247.9 84.8,242.9 88.2,240.3 92.7,242.0ZM170.1,242.1 166.7,247.7 165.8,252.0 168.3,255.6 167.8,258.9 172.1,260.9 176.8,256.6 178.3,251.3 182.9,253.1 187.1,252.5 186.3,247.0 183.8,245.3 182.9,243.3 179.5,242.1 175.2,243.9 172.0,241.9ZM416.7,238.9 410.4,242.0 407.7,242.5 406.8,246.1 403.8,248.7 404.1,253.0 397.4,254.5 398.0,259.8 401.5,261.4 404.8,258.3 409.9,259.9 413.2,256.3 413.4,255.0 416.0,253.1 421.5,254.3 421.6,260.9 425.0,263.3 427.5,258.9 431.3,258.8 433.9,256.5 433.8,255.7 428.9,252.8 430.0,247.5 428.8,246.5 423.0,246.6 420.2,244.0ZM30.8,253.9 32.1,247.5 27.3,245.5 25.6,246.4 20.3,246.0 18.7,247.7 18.8,250.5 15.0,254.5 17.4,259.0 19.1,258.8 25.5,262.4 28.2,259.2 28.3,256.0ZM32.1,247.5 30.8,253.9 28.3,256.0 28.2,259.2 32.4,261.2 39.0,261.1 40.5,259.7 47.6,259.8 49.7,254.1 47.4,252.3 46.5,249.8 41.3,247.8 38.8,248.7 34.9,246.2ZM88.0,251.1 88.0,249.7 85.1,247.9 81.7,248.6 80.4,253.0 76.7,255.6 76.6,258.5 79.9,260.4 85.5,256.6ZM91.2,248.1 88.0,249.7 88.0,251.1 85.6,256.3 87.9,258.9 92.6,258.5 94.9,260.4 98.7,259.3 100.9,261.0 107.1,260.7 106.2,253.9 102.5,252.5 101.8,247.0 100.4,246.0 94.9,249.5ZM166.7,247.7 162.2,245.7 158.3,249.8 159.6,252.8 161.0,253.3 165.8,252.0ZM239.3,253.1 239.8,257.2 243.0,260.1 242.9,264.8 244.0,265.6 245.5,269.8 249.6,272.9 253.2,270.7 253.3,269.2 256.1,264.2 252.5,260.1 253.3,258.7 258.4,258.4 259.9,255.5 256.2,251.1 256.9,248.3 253.6,245.5 250.1,247.0 246.5,246.0 241.9,248.6 241.9,250.3ZM259.4,247.7 256.9,248.3 256.2,251.1 259.9,255.5 258.4,258.4 253.3,258.7 252.5,260.1 256.1,264.2 253.3,269.2 253.2,270.7 249.6,272.9 249.3,275.8 252.0,279.8 258.6,277.9 260.2,278.6 260.6,283.1 264.0,285.2 267.5,285.2 268.2,284.0 271.3,282.5 272.2,280.5 269.4,275.0 273.5,272.5 271.8,266.8 277.3,265.3 276.1,258.9 275.4,258.6 270.3,260.6 266.4,256.6 266.1,254.2ZM369.2,253.0 359.8,260.3 361.0,264.9 363.9,266.3 365.2,270.1 368.5,272.7 371.1,271.3 373.6,267.0 378.8,267.2 379.6,271.5 381.9,275.0 385.3,271.8 389.8,271.6 391.5,266.5 388.6,263.5 388.3,260.9 391.0,259.8 398.0,259.8 397.4,254.5 395.9,253.0 389.4,253.0 388.0,248.2 387.4,248.0 381.3,249.6 378.8,246.8 375.8,247.5 371.0,245.7 368.2,249.3ZM433.8,255.7 437.4,251.4 437.1,248.7 433.9,246.7 430.0,247.5 428.9,252.8ZM165.4,260.5 167.8,258.9 168.3,255.6 165.8,252.0 161.0,253.3 159.6,252.8 156.7,256.1 156.2,259.1 157.1,259.9 163.1,259.3ZM178.3,251.3 176.8,256.6 180.9,260.0 185.6,259.6 189.0,256.2 189.1,254.5 187.1,252.5 182.9,253.1ZM17.4,259.0 15.8,261.5 10.0,261.1 10.1,265.1 7.2,268.0 8.9,271.8 9.7,272.3 14.1,269.3 17.6,272.5 20.0,271.4 25.6,275.3 28.2,272.2 27.9,269.0 24.9,265.5 25.5,262.4 19.1,258.8ZM47.6,259.9 46.8,265.3 49.6,267.1 49.8,269.4 46.2,271.7 46.5,276.3 52.2,275.3 53.1,271.4 56.5,270.0 59.6,271.6 63.1,270.9 62.9,265.1 61.4,263.3 55.8,265.1 53.6,263.0ZM61.6,260.5 61.4,263.3 55.8,265.1 53.7,263.4 55.4,259.0ZM61.6,260.5 61.4,263.3 62.9,265.1 63.1,270.9 66.0,272.4 68.6,271.0 74.7,272.4 75.4,272.1 76.9,268.2 72.6,264.5 73.7,259.7 71.3,258.8 67.6,259.6 63.5,257.6ZM123.1,263.6 124.4,259.7 119.8,256.6 116.6,260.5 112.7,257.8 107.3,260.9 108.1,262.7 113.7,265.6 112.3,271.7 113.8,272.8 120.3,271.9 118.7,265.1ZM287.6,255.5 283.4,260.8 279.5,258.6 276.1,258.9 277.3,265.3 271.8,266.8 273.5,272.5 269.4,275.0 272.2,280.5 271.3,282.5 276.5,286.5 279.7,280.1 280.4,280.0 284.4,286.4 288.4,283.8 288.5,280.7 283.0,278.0 284.1,273.4 288.5,272.3 288.4,265.0 291.2,261.2ZM344.4,260.0 345.6,265.1 345.5,271.0 340.3,273.3 340.5,277.9 337.1,281.0 332.6,278.8 330.4,279.3 326.0,277.5 323.0,279.7 322.8,281.4 325.1,283.8 325.6,289.7 329.1,289.5 331.3,288.1 335.7,290.5 339.1,287.0 339.3,286.1 345.0,285.3 345.7,285.8 351.5,282.9 349.6,279.5 354.5,275.2 351.6,271.2 353.3,266.9 352.8,266.0 352.8,262.2 347.0,258.7ZM352.8,262.2 352.8,266.0 353.3,266.9 351.6,271.2 354.5,275.2 349.6,279.5 351.5,282.9 354.5,284.6 356.1,283.2 357.6,277.6 359.5,277.0 364.4,278.9 368.1,277.1 368.5,272.7 365.2,270.1 363.9,266.3 361.0,264.9 359.8,260.3 356.4,258.8ZM436.5,265.0 436.4,259.4 433.9,256.5 431.3,258.8 427.5,258.9 425.0,263.3 426.8,265.3 425.2,270.9 423.4,272.2 423.9,277.2 426.8,280.4 430.4,277.8 435.6,279.5 438.3,276.1 438.4,275.2 433.2,271.8 434.0,266.1ZM113.7,265.6 108.1,262.7 105.1,269.3 100.3,272.5 96.0,271.2 93.4,277.0 97.6,279.9 98.0,283.1 101.8,284.7 106.0,283.6 109.0,285.5 113.6,282.6 113.8,279.7 114.7,278.2 113.8,272.8 112.3,271.7ZM123.1,263.6 118.7,265.1 120.3,271.9 113.8,272.8 114.7,278.2 113.8,279.7 113.6,282.6 117.2,284.4 121.0,282.3 125.5,282.3 126.4,279.0 129.5,276.2 129.1,273.7 125.3,270.7 125.9,266.2ZM295.5,270.8 291.7,273.8 292.5,277.7 295.7,279.7 298.4,279.0 303.0,281.8 303.7,283.1 309.9,282.9 312.1,285.4 316.1,283.9 319.2,284.6 322.8,281.4 323.0,279.7 319.2,276.9 316.2,278.1 313.6,277.4 312.8,271.9 315.7,270.4 315.5,265.1 311.2,262.9 308.3,265.5 307.4,265.5 302.2,269.0 298.5,261.9 297.8,261.8 294.7,267.1ZM10.1,275.5 17.0,276.7 17.7,278.0 15.1,283.5 17.3,286.2 22.5,284.9 23.4,278.6 24.9,277.5 25.6,275.3 20.0,271.4 17.6,272.5 14.1,269.3 9.7,272.3ZM53.1,271.4 52.2,275.3 47.1,276.5 51.5,283.0 53.3,283.7 56.1,281.9 60.4,285.8 65.5,283.1 69.0,284.1 70.8,279.3 66.2,275.0 66.0,272.4 63.1,270.9 59.6,271.6 56.5,270.0ZM74.7,272.4 68.6,271.0 66.0,272.4 66.2,275.0 70.8,279.3 69.0,284.1 75.5,285.7 76.7,284.2 76.8,280.3 73.9,278.3ZM84.3,271.8 81.8,275.3 82.0,277.9 76.8,280.3 76.7,284.2 82.9,285.6 83.9,284.8 88.6,286.3 90.6,282.6 96.5,284.3 98.0,283.1 97.6,279.9 93.4,277.0 90.7,277.5 87.7,271.6ZM90.7,277.5 87.7,271.6 91.1,267.9 96.0,271.2 93.4,277.0ZM22.5,284.9 25.2,289.5 21.8,292.6 22.3,295.1 25.6,297.4 24.1,302.0 29.5,304.1 32.7,302.3 30.7,298.1 34.5,293.1 34.0,291.6 37.4,287.9 36.6,283.6 30.7,283.6 29.7,280.8 24.9,277.5 23.4,278.6ZM46.5,276.3 45.0,277.3 43.7,282.6 44.5,283.8 44.4,288.8 42.6,289.6 37.4,287.9 34.0,291.6 34.5,293.1 38.5,296.0 41.1,294.2 45.1,296.4 48.9,294.2 50.9,297.0 57.4,295.9 55.4,291.1 52.1,289.0 53.3,283.7 51.5,283.0ZM134.0,277.8 129.5,276.2 126.4,279.0 125.5,282.3 121.0,282.3 117.2,284.4 119.0,290.9 118.4,295.9 120.8,297.2 126.9,296.1 127.9,296.5 132.3,293.9 131.9,289.4 130.2,288.2 128.9,285.2 134.7,281.4ZM157.7,277.9 154.9,280.4 158.3,286.9 154.7,289.7 156.0,294.0 159.6,295.8 161.8,295.5 165.2,298.9 168.8,295.6 173.0,297.8 176.6,296.5 173.9,292.7 169.9,290.8 171.1,284.3 169.9,283.5 166.7,283.2 163.3,281.0 161.8,278.1ZM255.1,286.5 252.7,294.3 251.2,294.8 249.3,296.7 248.9,299.1 252.8,304.6 256.4,302.4 258.0,297.3 261.3,298.0 265.3,294.2 264.9,293.0 268.4,287.9 267.5,285.2 264.0,285.2 260.6,283.1 260.2,278.6 258.6,277.9 252.0,279.8 251.8,284.2ZM22.5,284.9 17.3,286.2 16.8,290.4 21.8,292.6 25.2,289.5ZM24.1,302.0 25.6,297.4 22.3,295.1 17.9,298.7 18.4,300.3 23.1,302.7ZM53.3,283.7 52.1,289.0 55.4,291.1 57.4,295.9 59.5,297.3 63.1,293.1 68.8,294.6 69.7,289.8 68.2,287.3 68.7,284.3 65.5,283.1 60.4,285.8 56.1,281.9ZM82.9,285.6 76.7,284.2 75.5,285.7 68.7,284.3 68.2,287.3 69.7,289.8 75.6,289.8 75.7,293.1 72.3,295.8 77.0,302.2 78.8,302.0 81.6,296.7 82.8,296.0 82.8,291.0 82.1,289.5ZM88.6,286.3 83.9,284.8 82.9,285.6 82.1,289.5 82.8,291.0 90.2,289.2 92.3,291.1 91.2,294.0 95.6,299.7 100.0,294.4 105.0,295.0 105.3,294.1 101.4,288.2 101.8,284.7 98.0,283.1 96.5,284.3 90.6,282.6ZM109.0,285.5 109.1,289.5 105.3,294.1 105.2,295.5 109.6,298.6 115.2,295.4 118.0,295.3 119.0,290.9 117.2,284.4 113.6,282.6ZM136.9,283.9 134.7,281.4 128.9,285.2 130.2,288.2 131.9,289.4 132.3,293.9 135.7,296.0 140.9,293.6 141.5,291.7 135.2,287.8ZM184.4,282.2 171.1,284.3 169.9,290.8 173.9,292.7 176.6,296.5 178.1,297.1 181.9,295.3 186.0,297.5 190.5,294.5 191.2,292.6 192.8,291.8 192.9,284.6 190.3,283.7 187.6,284.5ZM221.1,288.9 221.4,285.1 215.8,281.8 212.2,285.2 212.8,289.4 218.5,290.0ZM280.4,280.0 279.7,280.1 276.5,286.5 271.3,282.5 268.2,284.0 267.5,285.2 268.4,287.9 264.9,293.0 265.3,294.2 269.4,296.9 271.3,296.4 276.3,299.9 273.4,307.0 275.3,308.7 280.9,307.2 284.5,311.5 288.6,306.0 292.6,308.5 295.2,307.4 296.8,303.4 299.1,301.0 297.8,297.5 295.7,295.6 294.8,291.0 293.3,290.0 292.6,286.9 288.4,283.8 284.4,286.4ZM322.8,281.4 319.2,284.6 316.1,283.9 312.1,285.4 309.7,289.4 310.2,294.9 311.1,295.2 312.7,300.8 315.3,303.1 318.9,301.0 319.1,299.6 324.5,295.8 325.3,296.4 327.7,301.8 327.3,302.5 330.4,308.0 333.1,308.4 336.0,305.0 336.2,303.1 333.2,300.3 333.2,296.4 330.9,295.2 329.1,289.5 325.6,289.7 325.1,283.8ZM325.3,312.4 325.1,311.2 322.8,309.1 321.4,309.4 317.6,314.7 323.7,314.7ZM345.0,285.3 339.3,286.1 339.1,287.0 335.7,290.5 331.3,288.1 329.1,289.5 330.9,295.2 333.2,296.4 333.2,300.3 336.2,303.1 336.0,305.0 333.1,308.4 334.3,313.6 340.5,312.4 343.9,315.8 348.4,312.9 352.1,314.9 356.6,315.1 354.8,309.3 350.9,306.6 351.2,303.6 348.8,301.4 348.6,298.3 351.8,294.7 350.9,290.9 346.7,290.0 345.7,285.8ZM91.2,294.0 92.3,291.1 90.2,289.2 82.8,291.0 82.8,296.0 81.6,296.7 78.8,302.0 82.4,304.4 84.2,306.8 89.1,306.3 90.2,303.7 87.8,300.3 86.8,296.8ZM38.5,296.0 34.5,293.1 30.7,298.1 32.7,302.3 29.5,304.1 28.2,308.3 32.2,310.1 33.8,313.7 35.7,314.0 38.5,312.4 39.5,308.2 47.1,308.7 49.4,305.2 49.2,303.6 44.2,301.1 45.1,296.4 41.1,294.2ZM45.1,296.4 44.2,301.1 49.2,303.6 49.4,305.2 47.1,308.7 47.7,314.2 49.7,315.4 55.1,313.2 58.3,313.4 60.5,308.0 57.6,306.0 58.4,301.0 60.0,299.2 59.5,297.3 57.4,295.9 50.9,297.0 48.9,294.2ZM68.8,294.6 63.1,293.1 59.5,297.3 60.0,299.2 58.4,301.0 57.6,306.0 60.5,308.0 63.8,307.8 65.4,302.1 67.4,301.6 69.7,295.9ZM86.8,296.8 87.8,300.3 90.2,303.7 89.1,306.3 84.2,306.8 82.5,311.3 84.9,314.1 87.8,314.1 90.9,316.2 99.0,307.9 98.2,303.5 96.0,302.0 95.6,299.7 91.2,294.0ZM102.0,301.3 105.0,295.0 100.0,294.4 95.6,299.7 96.0,302.0 98.2,303.5 99.0,307.9 105.6,307.9 106.3,304.0ZM102.0,301.3 106.3,304.0 105.6,307.9 108.5,310.2 108.6,311.0 114.1,313.9 116.6,313.2 116.5,307.5 120.0,306.5 121.7,304.0 116.4,301.5 118.4,295.9 118.0,295.3 115.2,295.4 109.6,298.6 105.2,295.5ZM132.3,293.9 127.9,296.5 126.9,296.1 120.8,297.2 118.4,295.9 116.4,301.5 121.7,304.0 122.9,303.2 127.0,304.0 128.1,308.0 129.2,308.7 134.3,309.0 135.0,301.6 135.8,300.9 135.7,296.0ZM156.0,294.0 151.0,298.4 149.0,301.4 143.4,301.5 142.7,296.0 140.9,293.6 135.7,296.0 135.8,300.9 135.0,301.6 134.3,309.0 136.5,310.7 141.9,307.2 146.1,313.2 149.1,313.7 151.1,307.3 152.6,307.2 157.4,303.0 156.6,301.3 159.6,295.8ZM156.6,301.3 157.4,303.0 152.6,307.2 151.1,307.3 149.1,313.7 153.1,315.1 156.4,314.2 159.2,316.3 159.8,320.3 164.2,321.3 165.9,326.1 171.3,324.4 171.5,321.5 168.8,316.5 172.2,314.7 176.0,314.6 177.6,313.0 177.6,308.8 176.7,308.0 175.2,302.9 169.4,303.1 173.0,297.8 168.8,295.6 165.2,298.9 161.8,295.5 159.6,295.8ZM199.1,300.4 198.5,297.3 193.7,297.5 190.5,294.5 186.0,297.5 181.9,295.3 178.1,297.1 176.6,296.5 173.0,297.8 169.4,303.1 175.2,302.9 176.7,308.0 177.6,308.8 177.6,313.0 181.9,313.8 185.6,312.7 187.8,314.1 192.4,312.9 192.4,310.5 195.1,306.0 194.2,303.6ZM256.4,302.4 252.8,304.6 252.5,306.2 256.3,311.0 255.6,314.2 259.1,316.4 259.6,321.5 264.3,323.1 266.7,320.1 266.7,318.1 268.1,316.1 275.8,315.2 276.5,314.4 282.0,315.2 284.6,313.5 284.5,311.5 280.9,307.2 275.3,308.7 273.4,307.0 276.3,299.9 271.3,296.4 269.4,296.9 265.3,294.2 261.3,298.0 258.0,297.3ZM14.6,306.0 17.2,308.8 17.3,311.0 13.2,314.3 12.9,318.9 15.9,320.9 17.3,325.4 19.3,326.3 23.9,323.8 24.7,320.9 29.2,318.9 29.7,316.2 33.8,313.7 32.2,310.1 28.2,308.3 29.5,304.1 24.1,302.0 23.1,302.7 18.4,300.3ZM71.4,304.2 67.4,301.6 65.4,302.1 63.8,307.8 66.5,312.0 67.7,312.0 71.6,315.1 74.4,313.4 77.8,313.5 80.0,311.4 77.5,308.2 74.4,309.3 71.2,307.6ZM127.0,304.0 122.9,303.2 120.0,306.5 116.5,307.5 116.6,313.2 119.6,314.9 122.5,312.6 123.4,310.7 128.1,308.0ZM195.1,306.0 192.4,310.5 192.4,312.9 195.5,314.7 196.9,314.1 204.5,317.5 206.5,314.9 208.9,314.8 213.3,319.4 217.0,318.0 217.6,315.8 213.7,311.2 217.7,307.1 217.0,304.4 213.4,301.7 209.3,303.1 206.7,301.6 202.4,302.8 199.1,300.4 194.2,303.6ZM284.6,313.5 282.0,315.2 283.4,325.4 285.6,326.6 292.6,324.5 294.6,327.1 296.9,326.9 301.9,329.4 304.4,323.3 304.2,322.6 313.6,314.2 312.9,308.2 307.5,307.3 307.3,302.1 305.8,299.6 299.1,301.0 296.8,303.4 295.2,307.4 292.6,308.5 288.6,306.0 284.5,311.5ZM388.0,301.2 385.4,302.4 381.8,300.3 377.5,304.3 377.8,306.5 373.5,309.1 375.2,314.5 379.5,315.3 380.1,320.1 385.5,319.3 389.1,324.5 391.9,321.9 393.9,321.8 398.4,317.7 401.6,311.4 397.3,309.0 396.5,307.7 401.9,302.5 394.6,299.0 391.7,302.5ZM410.1,300.7 404.7,303.9 401.9,302.5 396.5,307.7 397.3,309.0 401.6,311.4 405.7,308.5 407.7,309.6 413.9,306.2 413.4,302.6ZM398.4,317.7 393.9,321.8 399.0,326.8 402.9,325.0 402.5,320.7ZM17.2,308.8 17.3,311.0 13.2,314.3 9.5,312.3 9.2,309.6 14.2,305.9ZM43.6,315.8 42.2,320.0 41.2,320.9 41.1,324.3 45.4,327.5 52.3,325.7 55.1,326.7 57.8,324.6 58.8,321.8 57.2,320.0 56.3,313.7 55.1,313.2 49.7,315.4 47.7,314.2 47.1,308.7 39.5,308.2 38.5,312.4ZM63.8,307.8 60.5,308.0 58.3,313.4 56.3,313.7 57.2,320.0 58.8,321.8 63.4,319.7 65.1,320.9 72.0,318.8 71.6,315.1 67.7,312.0 66.5,312.0ZM102.9,313.7 105.8,315.1 106.2,318.9 102.8,322.2 107.5,328.8 111.8,325.7 113.7,325.6 115.6,324.1 115.6,322.8 111.9,318.5 114.1,313.9 108.6,311.0 108.5,310.2 105.6,307.9 99.2,308.0ZM146.1,313.2 141.9,307.2 136.5,310.7 136.9,313.6 134.2,315.9 130.7,321.4 138.7,322.5 141.1,319.3 145.4,321.1 148.5,318.7 149.4,314.1ZM330.4,308.0 325.1,311.2 325.3,312.4 323.7,314.7 322.3,320.3 325.3,321.3 328.7,320.7 336.1,326.7 335.6,333.1 333.6,334.8 333.5,339.3 340.3,338.7 343.1,340.4 345.3,336.8 345.4,332.2 350.8,330.1 350.8,328.7 352.7,325.7 353.0,322.3 356.9,319.1 356.7,315.2 352.1,314.9 348.4,312.9 343.9,315.8 340.5,312.4 334.7,313.9 333.1,308.4ZM369.0,308.3 367.3,312.2 365.2,314.7 359.9,313.8 356.7,315.2 356.9,319.1 353.0,322.3 352.7,325.7 360.2,325.5 362.6,326.7 369.4,324.4 368.6,320.7 372.2,318.9 377.0,321.4 380.1,320.1 379.5,315.3 375.2,314.5 373.5,309.1ZM458.0,309.7 455.9,306.3 448.9,308.6 451.5,315.1 448.5,316.3 447.3,320.4 452.9,322.7 453.3,315.9 458.1,314.0ZM9.5,312.3 7.5,313.7 7.5,318.3 3.6,320.5 2.6,320.0 -1.5,321.2 -3.6,325.4 -1.0,329.0 -0.6,332.6 0.5,333.0 8.0,330.7 8.6,327.9 14.7,327.2 17.3,325.4 15.9,320.9 12.9,318.9 13.2,314.3ZM43.6,315.8 38.5,312.4 35.7,314.0 33.8,313.7 29.7,316.2 29.2,318.9 24.7,320.9 23.9,323.8 28.1,327.1 32.8,325.1 35.7,328.0 41.1,324.3 41.2,320.9 42.2,320.0ZM82.5,311.3 80.0,311.4 77.8,313.5 74.4,313.4 71.6,315.1 72.0,318.8 74.6,321.4 78.9,319.9 82.0,320.0 88.6,323.0 91.8,319.8 90.9,316.2 87.8,314.1 84.9,314.1ZM159.2,316.3 156.4,314.2 153.1,315.1 149.4,314.1 148.5,318.7 145.4,321.1 141.1,319.3 138.7,322.5 139.3,324.9 138.9,326.2 144.1,332.9 146.1,331.3 152.0,334.5 155.9,332.3 161.5,331.1 161.7,330.2 158.9,326.1 159.8,320.3ZM195.4,318.2 195.5,314.7 192.4,312.9 187.8,314.1 185.6,312.7 181.9,313.8 177.6,313.0 176.0,314.6 172.2,314.7 168.8,316.5 171.5,321.5 171.3,324.4 166.5,326.2 169.9,330.5 172.8,331.3 175.0,330.5 177.9,332.8 182.7,331.6 183.6,328.3 186.4,325.7 191.2,325.2 193.2,324.0ZM195.4,318.2 193.2,324.0 196.2,326.3 203.4,327.7 204.2,329.8 207.4,332.5 206.3,337.7 215.1,337.4 217.0,339.0 221.3,335.1 221.9,331.8 216.4,329.6 216.3,326.0 221.0,322.4 217.0,318.0 213.3,319.4 208.9,314.8 206.5,314.9 204.5,317.5 196.9,314.1 195.5,314.7ZM229.3,321.6 230.8,331.8 235.1,332.2 239.6,329.2 242.0,326.5 240.1,322.3 238.7,321.3 238.4,316.5 234.8,314.6 230.8,317.8 230.5,319.8ZM216.4,329.6 221.9,331.8 223.0,326.5 221.3,322.4 216.3,326.0ZM222.0,332.1 221.3,335.1 226.3,339.7 229.3,338.3 230.5,332.0ZM276.5,314.4 275.8,315.2 268.1,316.1 266.7,318.1 266.7,320.1 264.3,323.1 263.6,326.9 265.6,332.0 268.3,333.1 267.8,339.6 272.7,341.1 275.9,335.6 278.0,335.5 280.4,333.5 281.1,326.8 283.4,325.4 282.0,315.2ZM318.3,319.1 322.3,320.3 323.7,314.7 317.6,314.7 316.4,315.5ZM312.8,326.0 310.0,330.6 304.7,332.4 304.7,334.6 309.9,339.7 312.2,338.7 314.2,339.1 316.5,344.5 317.6,345.1 321.8,343.1 324.7,347.4 330.4,344.1 330.6,341.5 324.7,338.4 328.5,332.3 319.5,332.3 318.0,331.6ZM74.1,324.1 74.6,321.4 72.0,318.8 65.1,320.9 63.4,319.7 58.8,321.8 57.8,324.6 55.1,326.7 55.8,332.4 57.3,333.0 63.6,329.9 66.2,332.7 70.2,332.2 70.7,326.4ZM115.6,322.8 115.6,324.1 120.5,326.8 120.3,331.2 124.6,333.6 127.3,332.3 129.8,333.3 134.8,330.4 138.9,326.2 139.3,324.9 138.7,322.5 130.3,321.6 128.1,320.3 124.8,320.2 120.0,316.7ZM159.4,320.6 158.9,326.1 161.7,330.2 161.5,331.1 155.9,332.3 152.0,334.5 151.8,338.9 154.4,341.6 154.5,344.9 161.4,351.2 165.1,349.8 166.0,346.1 167.4,345.0 172.2,346.8 176.3,341.7 177.9,332.8 175.0,330.5 172.8,331.3 169.9,330.5 165.9,326.1 164.2,321.3ZM399.0,326.8 393.9,321.8 391.9,321.9 389.1,324.5 388.7,325.8 386.7,326.5 384.8,331.8 380.6,332.3 381.8,338.2 378.2,339.7 377.7,341.1 381.2,347.5 384.7,343.8 389.7,345.2 392.0,343.6 390.9,338.5 396.7,335.8 394.1,329.8ZM452.9,322.7 447.3,320.4 444.3,321.9 442.1,331.2 437.3,332.2 434.1,330.7 432.2,332.8 431.9,337.8 439.6,338.9 448.8,333.2 449.1,327.4 453.3,325.3ZM19.3,326.3 17.3,325.4 14.7,327.2 8.6,327.9 8.0,330.7 0.5,333.0 3.6,338.3 1.3,341.9 4.1,345.9 7.6,343.6 12.0,345.7 12.3,348.3 16.1,350.2 19.0,349.1 19.1,347.5 23.6,342.4 21.9,339.9 18.7,339.4 19.4,333.3 21.3,331.5ZM19.3,326.3 21.3,331.5 19.4,333.3 18.7,339.4 21.9,339.9 25.9,334.9 28.0,336.5 32.6,336.4 33.7,332.0 35.9,329.4 35.7,328.0 32.8,325.1 28.1,327.1 23.9,323.8ZM41.1,324.3 35.7,328.0 35.9,329.4 40.1,332.6 38.3,338.1 44.7,339.5 46.2,337.8 46.4,335.5 50.6,333.6 53.6,333.9 55.8,332.4 55.1,326.7 52.3,325.7 45.4,327.5ZM120.1,326.2 115.6,324.1 113.7,325.6 111.8,325.7 107.5,328.8 106.7,332.2 109.1,334.3 114.1,332.5 116.9,333.7 117.6,337.8 120.5,339.8 121.3,343.2 123.8,344.8 127.6,342.7 129.2,340.2 124.1,336.6 124.6,333.6 120.3,331.2ZM144.1,332.9 138.9,326.2 134.8,330.4 129.8,333.3 127.3,332.3 124.6,333.6 124.1,336.6 129.2,340.2 131.9,339.2 134.9,343.0 137.6,344.5 140.5,339.7 135.7,336.9 136.9,332.7ZM186.4,325.7 183.6,328.3 183.5,330.5 189.4,331.2 192.6,335.5 196.0,331.6 196.2,326.3 193.2,324.0 191.2,325.2ZM177.9,332.8 176.9,339.9 181.7,340.1 186.3,338.7 182.7,331.6ZM245.1,326.8 242.0,326.5 239.6,329.2 235.1,332.2 230.8,331.8 229.3,338.3 232.6,341.0 237.4,339.3 239.3,342.2 242.7,343.9 242.5,349.0 247.5,348.9 251.0,344.6 252.6,343.9 251.7,339.7 247.3,337.3 247.8,331.8ZM292.6,324.5 285.6,326.6 283.4,325.4 281.1,326.8 280.4,333.5 278.0,335.5 282.4,344.7 288.9,345.8 290.6,347.6 296.1,350.4 299.7,350.6 299.2,345.9 302.2,342.4 307.8,343.9 309.9,339.7 304.7,334.6 304.7,332.4 301.9,329.4 296.9,326.9 294.6,327.1ZM350.8,330.1 352.9,331.8 357.7,331.9 360.6,334.7 356.6,340.0 357.2,344.1 356.1,344.9 355.1,348.9 348.0,349.9 347.6,351.2 353.1,357.2 357.1,354.7 362.1,358.0 363.3,357.5 367.2,350.3 367.5,344.4 370.8,342.6 370.5,339.3 368.5,336.5 364.0,337.2 361.5,334.9 365.3,330.3 362.6,326.7 360.2,325.5 352.7,325.7 350.8,328.7ZM434.1,330.7 432.2,332.8 425.9,332.4 425.0,330.8 425.7,326.2 430.9,323.9ZM267.8,339.6 268.3,333.1 265.6,332.0 261.8,334.5 261.0,338.9 257.3,343.3 252.6,343.9 254.4,349.6 262.8,349.6 265.1,346.0 265.3,341.2ZM27.0,343.6 27.8,343.3 28.0,336.5 25.9,334.9 21.9,339.9 23.6,342.4ZM38.3,338.1 35.7,340.1 35.5,341.9 38.0,344.7 44.4,342.4 44.7,339.5ZM44.4,342.4 38.0,344.7 39.1,349.4 43.3,350.1 46.5,348.1 46.5,345.4 50.4,342.8 49.4,339.7 46.2,337.8 44.7,339.5ZM130.9,346.1 131.2,349.8 134.6,351.1 132.5,357.5 139.2,359.3 140.1,358.4 139.9,352.7 137.0,350.3 138.1,346.1 137.6,344.5 134.9,343.0 131.4,339.1 129.2,340.2 127.6,342.7ZM215.1,337.4 206.3,337.7 204.2,338.7 201.1,344.6 198.9,351.0 204.5,354.0 204.3,357.3 206.0,361.7 211.7,361.4 212.8,360.5 218.3,362.0 220.4,361.2 222.6,356.2 222.7,353.4 220.4,348.9 222.3,344.8 224.1,344.4 226.3,339.7 221.3,335.1 217.0,339.0ZM224.1,344.4 222.3,344.8 220.4,348.9 222.7,353.4 222.6,356.2 225.4,356.6 229.8,362.6 233.6,361.4 237.8,363.4 241.1,360.0 241.3,358.5 238.8,355.0 239.7,350.4 242.5,349.0 242.7,343.9 239.3,342.2 237.4,339.3 232.6,341.0 229.3,338.3 226.3,339.7ZM272.7,341.1 274.8,343.5 275.6,348.2 281.1,348.9 281.9,350.6 289.0,350.3 290.6,347.6 288.9,345.8 282.4,344.7 278.0,335.5 275.9,335.6ZM302.2,342.4 299.2,345.9 299.7,350.6 301.2,351.9 301.6,354.1 303.4,355.2 305.1,362.8 309.3,363.0 310.5,369.3 311.5,370.4 315.6,368.1 320.1,368.4 322.7,365.6 318.3,359.8 322.9,356.2 320.8,350.9 324.5,348.8 324.7,347.4 321.8,343.1 317.6,345.1 316.5,344.5 314.2,339.1 312.2,338.7 309.9,339.7 307.8,343.9ZM333.5,339.3 330.6,341.5 330.4,344.1 324.7,347.4 324.5,348.8 320.8,350.9 322.9,356.2 318.3,359.8 322.7,365.6 326.7,363.5 331.7,364.2 333.7,362.8 337.0,362.7 338.3,369.1 345.0,367.0 343.5,363.5 347.4,359.4 353.1,357.2 347.6,351.2 348.0,349.9 346.5,344.7 343.6,343.3 343.1,340.4 340.3,338.7ZM399.7,340.2 396.6,335.9 390.9,338.5 392.0,343.6 394.6,344.8 394.5,351.5 400.5,351.4 401.9,348.5 397.1,344.3ZM12.3,348.3 6.1,351.3 4.0,349.6 4.1,345.9 7.6,343.6 12.0,345.7ZM130.9,346.1 127.6,342.7 123.8,344.8 124.8,349.6 126.1,350.8 126.3,357.0 130.4,359.0 132.5,357.5 134.6,351.1 131.2,349.8ZM167.4,345.0 166.0,346.1 165.1,349.8 161.4,351.2 160.7,354.5 165.0,358.1 163.5,362.1 168.1,366.0 169.5,366.1 172.0,368.0 176.6,366.6 178.4,362.6 178.0,362.0 179.3,357.5 174.2,354.0 175.0,351.5 172.9,349.0 172.2,346.8ZM252.1,354.8 254.4,349.6 252.6,344.0 251.0,344.6 247.5,348.9 251.3,354.9ZM241.3,358.5 245.2,355.0 242.0,349.7 239.7,350.4 238.8,355.0ZM239.2,367.6 250.5,369.0 252.7,366.1 247.9,362.1 241.1,360.0 237.8,363.4ZM380.9,349.4 383.3,350.3 388.5,348.8 392.0,353.3 392.9,353.2 394.5,351.5 394.6,344.8 392.0,343.6 389.7,345.2 384.7,343.8 381.2,347.5 377.7,341.1 373.4,343.5 370.8,342.6 367.5,344.4 367.0,350.1 370.5,351.6 371.8,355.6 369.6,358.9 369.8,360.5 372.7,363.7 377.0,362.7 377.1,357.3 378.8,355.9 380.1,350.0ZM157.0,346.9 154.2,354.2 154.5,355.3 155.6,356.1 157.5,362.9 159.6,363.6 163.5,362.1 165.0,358.1 160.7,354.5 161.4,351.2ZM180.9,351.6 178.6,350.7 175.0,351.5 174.2,354.0 179.3,357.5 178.0,362.0 178.4,362.6 181.8,362.9 186.3,359.7 186.0,356.9 182.4,355.0ZM371.8,355.6 370.5,351.6 367.2,350.3 363.3,357.5 362.1,358.0 362.0,360.1 364.8,364.4 369.8,360.5 369.6,358.9ZM346.7,369.0 351.2,367.8 351.2,365.0 347.0,360.4 343.5,363.5 345.0,367.0ZM292.3,361.6 291.6,363.1 287.2,365.1 283.6,369.0 283.8,371.5 286.1,373.8 290.0,373.2 297.8,383.5 302.0,380.7 302.1,378.3 298.1,373.8 298.3,369.6 300.5,368.1 301.2,365.6 305.1,362.8 303.4,355.2 301.6,354.1 298.9,356.7 292.6,357.3ZM160.3,369.2 159.0,372.3 159.5,374.3 161.9,376.1 161.9,377.5 157.1,381.8 161.6,386.7 162.3,387.0 164.4,382.3 168.6,381.5 170.5,382.5 175.5,379.0 175.2,375.9 172.0,374.0 172.0,368.0 169.5,366.1 168.1,366.0 163.5,362.1 159.6,363.6ZM237.8,363.4 233.6,361.4 229.8,362.6 225.2,365.9 225.0,368.2 226.9,370.2 228.4,373.9 231.4,375.5 235.7,372.4 238.3,375.2 245.3,376.0 242.0,368.5 239.2,367.6ZM223.8,376.9 219.3,376.2 218.4,376.7 217.3,379.8 220.4,382.2 225.9,381.8ZM287.2,365.1 285.0,361.7 279.0,360.9 278.3,360.3 273.4,362.5 269.8,361.1 266.4,363.6 266.2,368.2 263.6,370.2 263.4,371.2 265.6,376.1 264.7,380.1 268.9,382.3 273.4,377.6 271.3,375.2 270.6,370.0 274.7,368.4 275.6,368.7 277.5,375.6 278.6,375.7 283.8,371.5 283.6,369.0ZM326.7,363.5 322.7,365.6 320.1,368.4 315.6,368.1 311.5,370.4 311.5,374.1 310.2,375.4 310.2,378.8 306.1,383.6 307.6,385.4 309.0,391.4 312.3,392.9 314.3,390.9 321.3,392.9 322.9,391.0 322.7,386.6 318.2,385.2 317.7,380.1 318.1,378.9 324.1,378.9 326.2,382.0 330.8,379.1 328.9,373.5 327.3,373.3 326.2,370.0 331.8,367.7 331.7,364.2ZM333.7,362.8 331.7,364.2 331.8,367.7 326.2,370.0 327.3,373.3 328.9,373.5 330.8,379.1 335.4,379.7 335.8,380.7 341.7,382.4 343.8,379.8 349.2,380.6 350.4,379.5 350.9,377.2 345.4,372.6 346.7,369.0 345.0,367.0 338.3,369.1 337.0,362.7ZM172.0,374.0 175.2,375.9 179.1,373.6 179.3,370.1 176.6,366.6 172.0,368.0ZM184.3,382.0 185.5,387.2 190.8,387.8 193.2,384.3 193.1,382.6 190.5,379.6ZM219.3,376.2 221.1,370.3 216.6,367.8 212.3,369.5 205.4,369.0 204.6,369.6 205.4,376.5 203.5,379.4 207.2,384.6 207.1,386.1 212.5,389.1 216.1,387.6 215.8,380.9 217.3,379.8 218.4,376.7ZM265.6,376.1 263.4,371.2 263.6,370.2 260.2,368.6 255.1,368.6 255.5,374.2 252.0,376.1 253.6,382.3 254.7,383.0 255.5,385.6 259.2,387.0 261.7,386.0 266.7,388.6 269.9,385.6 268.9,382.3 264.7,380.1ZM21.6,380.7 21.2,377.6 16.2,375.3 13.2,380.4 11.6,386.6 14.4,389.6 20.0,387.6 19.3,383.2ZM278.6,375.7 281.8,379.4 283.1,379.9 286.1,378.0 289.9,380.2 293.5,377.6 290.0,373.2 286.1,373.8 283.8,371.5ZM284.0,386.1 275.3,387.6 274.7,390.1 276.5,396.1 278.7,396.2 281.0,393.4 286.8,392.5 285.0,386.6ZM29.7,380.0 25.6,382.5 21.6,380.7 19.3,383.2 20.0,387.6 15.2,389.6 18.4,394.5 18.9,397.9 20.8,399.0 20.5,403.8 24.5,405.2 29.0,401.3 32.4,400.3 31.9,393.9 36.3,392.7 37.5,387.8 32.5,385.7 30.9,380.8ZM168.9,389.0 162.3,387.0 164.4,382.3 168.6,381.5 170.5,382.5 171.7,386.6ZM171.7,386.6 168.9,389.0 169.4,393.0 173.5,394.4 171.5,400.1 176.3,402.6 179.9,397.8 176.3,393.7 177.2,388.2 183.6,389.2 185.5,387.2 184.3,382.0 182.8,381.2 178.6,382.3 175.5,379.0 170.5,382.5ZM226.8,382.5 225.9,381.8 220.4,382.2 217.3,379.8 215.8,380.9 216.1,387.6 218.5,388.8 220.2,391.8 223.2,391.3 226.9,386.9ZM54.8,394.7 56.7,392.2 56.4,389.9 51.2,387.2 50.2,387.5 49.5,395.0ZM39.1,396.9 36.3,392.7 31.9,393.9 32.4,400.3 34.2,400.8ZM59.2,393.8 65.3,391.7 65.9,388.5 59.8,386.6 56.4,389.9 56.7,392.2ZM71.3,388.0 66.8,387.9 65.9,388.5 65.3,391.7 67.2,396.6 68.4,397.0 71.1,399.9 75.2,399.1 76.6,392.6 72.6,390.3ZM116.1,396.7 119.2,394.7 118.7,389.5 113.9,388.0 111.4,392.0 108.7,392.9 106.0,392.3 103.2,395.2 101.7,398.8 104.9,400.3 109.2,398.9 111.8,400.9ZM119.2,394.7 116.8,396.7 119.4,401.3 118.9,403.4 129.7,407.4 131.3,410.1 136.0,408.8 136.0,406.9 133.1,402.4 137.0,399.8 136.1,395.0 133.8,393.7 130.9,394.0 127.3,392.6 126.8,390.2 122.4,387.5 118.7,389.5ZM142.5,392.5 136.1,395.0 133.8,393.7 135.7,387.0 141.8,389.8ZM266.7,388.6 266.4,391.5 262.1,394.4 260.3,392.8 259.2,387.0 261.7,386.0ZM14.4,389.6 11.7,394.8 12.1,396.7 9.0,400.5 10.0,404.7 11.1,405.4 11.7,410.2 19.2,409.9 19.0,405.3 20.5,403.8 20.8,399.0 18.9,397.9 18.4,394.5 15.2,389.6ZM48.9,400.3 54.6,399.5 54.8,394.7 49.5,395.0 47.7,396.1 47.6,399.3ZM39.1,397.4 34.2,400.8 35.4,403.7 40.1,405.1 42.7,401.4ZM59.2,393.8 56.7,392.2 54.8,394.7 54.6,399.5 56.4,402.1 60.0,404.6 58.7,409.2 64.9,410.8 70.8,415.6 72.9,408.8 69.2,405.0 71.1,399.9 68.4,397.0 67.2,396.6 65.3,391.7ZM143.7,398.0 143.3,393.1 142.5,392.5 136.1,395.0 137.0,399.8 133.1,402.4 136.0,406.9 136.0,408.8 140.0,411.3 142.2,409.8 144.0,406.1 141.0,401.8ZM281.0,393.4 278.7,396.2 276.5,396.1 274.6,397.6 275.5,404.5 276.9,405.2 280.3,404.7 283.1,406.8 288.0,404.1 287.7,400.1 285.7,398.4 286.5,392.8ZM280.5,425.1 286.2,420.9 285.2,417.6 277.9,418.4 279.3,423.8ZM301.4,390.3 297.4,395.6 297.4,398.3 300.8,399.4 301.6,403.9 308.1,405.6 308.8,405.0 306.7,399.5 312.6,395.5 312.3,392.9 309.0,391.4 305.0,392.6ZM321.3,392.9 314.3,390.9 312.3,392.9 312.6,395.5 306.7,399.5 308.8,405.0 305.6,410.8 308.9,412.9 314.3,412.4 318.8,410.7 321.6,413.2 326.1,410.9 325.6,407.1 328.3,404.4 328.1,402.7 323.4,399.1 320.7,398.8ZM32.4,400.3 29.0,401.3 24.5,405.2 26.5,410.7 28.1,411.7 27.4,415.3 24.5,418.2 24.5,420.2 27.4,423.7 27.0,428.0 30.1,429.4 35.8,426.2 37.8,428.0 43.6,427.3 44.0,425.9 47.3,422.3 47.6,419.6 43.0,417.2 41.9,411.4 40.7,410.8 40.1,405.1 35.4,403.7 34.2,400.8ZM92.0,401.4 87.1,397.7 83.3,399.4 75.2,399.1 71.1,399.9 69.2,405.0 72.9,408.8 71.0,415.3 78.0,415.6 79.4,418.7 87.0,417.7 92.6,414.8 92.9,410.3 89.8,408.2 88.5,405.8 91.9,402.3ZM94.9,396.3 91.9,402.3 88.5,405.8 89.8,408.2 92.9,410.3 92.6,414.8 96.2,417.4 98.7,416.2 102.6,416.6 103.7,414.0 101.4,409.8 103.9,406.9 107.5,406.6 104.9,400.3 101.7,398.8 100.7,399.3ZM116.8,396.7 116.1,396.7 111.8,400.9 109.2,398.9 104.9,400.3 107.5,406.6 103.9,406.9 101.4,409.8 103.7,414.0 102.6,416.6 103.6,418.3 109.0,419.0 112.7,416.5 116.2,418.7 119.8,416.9 120.8,410.8 122.8,410.2 125.0,411.4 130.4,409.4 129.7,407.4 118.9,403.4 119.4,401.3ZM24.5,405.2 20.5,403.8 19.0,405.3 19.7,410.8 18.5,415.8 24.5,418.2 27.4,415.3 28.1,411.7 26.5,410.7ZM308.1,405.6 301.6,403.9 299.1,408.4 303.3,411.6 302.4,414.3 303.9,417.5 303.4,421.5 308.7,423.6 310.1,422.1 310.8,419.9 309.0,417.6 308.9,412.9 305.6,410.8ZM61.1,416.1 66.1,419.8 65.4,423.3 58.1,421.6 55.9,423.4 55.7,428.2 60.5,429.6 61.1,430.4 68.6,430.6 69.4,428.1 68.2,425.4 74.5,422.4 77.4,423.8 79.4,418.7 78.0,415.6 70.8,415.6 65.1,411.6ZM130.4,409.4 125.0,411.4 122.8,410.2 120.8,410.8 119.8,416.9 116.2,418.7 116.5,423.4 120.0,425.1 121.7,429.4 123.2,430.5 123.3,434.5 125.3,435.4 129.4,434.3 130.7,430.2 133.3,428.9 136.3,430.8 140.4,429.6 140.6,422.7 138.9,421.8 136.4,417.7 139.6,413.9 140.0,411.3 136.0,408.8 131.3,410.1ZM318.8,410.7 314.3,412.4 308.9,412.9 309.0,417.6 310.8,419.9 310.1,422.1 308.7,423.6 308.8,428.2 305.6,430.6 305.5,434.0 309.4,437.0 314.0,436.6 316.0,434.3 322.3,436.2 325.5,431.7 325.7,430.3 322.2,428.7 322.2,423.5 327.1,421.4 326.8,419.1 321.6,417.3 321.6,413.2ZM321.6,413.2 321.6,417.3 326.8,419.1 327.1,421.4 322.2,423.5 322.2,428.7 325.7,430.3 325.5,431.7 322.3,436.2 322.9,441.1 324.8,441.5 330.1,439.1 330.5,438.1 334.4,435.9 331.1,429.9 327.9,428.7 328.7,424.2 336.0,422.4 335.1,418.9 336.3,416.5 334.6,412.5 332.9,411.4 329.3,413.4 326.1,410.9ZM90.9,423.8 95.6,421.3 96.2,417.4 92.6,414.8 87.0,417.7 87.9,422.5ZM102.6,422.1 105.9,425.1 103.0,430.1 103.2,434.4 106.4,436.6 109.5,435.9 112.6,437.3 116.2,435.6 120.1,437.0 123.3,434.5 123.2,430.5 121.7,429.4 120.0,425.1 116.5,423.4 116.2,418.7 112.7,416.5 109.0,419.0 103.6,418.3ZM145.6,418.1 139.6,413.9 136.4,417.7 138.9,421.8 140.6,422.7 140.4,429.6 144.1,431.1 145.1,430.4 147.0,424.5 144.3,421.8ZM277.7,418.2 274.2,416.7 271.9,418.1 271.2,421.7 272.9,424.6 272.1,427.7 270.3,428.6 269.4,435.4 280.4,438.0 284.3,435.5 280.9,428.5 280.5,425.1 279.3,423.8ZM52.0,428.4 47.3,422.3 44.0,425.9 43.6,427.3 46.3,431.6 46.1,433.4 51.0,436.3 54.6,434.1 57.9,437.4 61.6,432.5 61.1,430.4 60.5,429.6 55.7,428.2ZM77.4,423.8 74.5,422.4 68.2,425.4 69.4,428.1 68.6,430.6 61.1,430.4 61.6,432.5 64.0,435.3 62.8,439.7 66.7,441.9 71.3,438.0 74.3,443.8 79.5,443.2 81.3,441.5 77.5,435.6 75.7,434.9 76.1,428.3 77.1,427.0ZM280.5,425.1 280.9,428.5 284.3,435.5 287.5,436.4 294.9,437.0 296.4,441.2 298.1,442.9 302.9,439.8 303.2,436.7 305.5,434.0 305.6,430.6 303.1,429.7 297.1,431.3 293.8,427.3 294.5,423.9 291.2,421.6 286.2,420.9ZM27.0,428.0 24.1,429.4 20.8,428.9 19.1,430.1 18.8,436.7 23.5,437.9 23.8,440.8 22.8,443.4 29.1,447.9 36.2,448.0 38.6,445.3 38.4,442.0 43.7,440.6 46.3,431.6 43.6,427.3 37.8,428.0 35.8,426.2 30.1,429.4ZM133.3,428.9 130.7,430.2 129.4,434.3 125.3,435.4 123.3,434.5 120.1,437.0 120.5,442.5 122.4,447.7 124.0,448.1 126.9,454.1 128.6,454.2 133.9,450.6 133.6,448.3 135.7,445.2 141.9,446.4 144.2,445.7 139.3,440.3 140.0,438.0 136.2,435.4 136.3,430.8ZM144.1,431.1 140.4,429.6 136.3,430.8 136.2,435.4 140.0,438.0 139.3,440.3 144.2,445.7 148.0,448.8 151.6,446.8 159.9,446.5 159.7,442.8 155.2,440.0 154.8,436.3 152.6,435.6 148.0,438.0 146.1,437.8 144.6,436.5ZM232.5,435.9 231.1,438.6 233.7,443.9 239.5,440.1 243.4,442.9 244.0,442.6 248.8,434.8 248.5,434.1 240.7,434.1 237.6,428.6 229.9,428.8 229.0,431.8ZM22.8,443.4 18.9,445.4 15.8,440.1 15.9,438.6 18.8,436.7 23.5,437.9 23.8,440.8ZM54.6,434.1 51.0,436.3 46.1,433.4 45.0,434.5 43.7,440.6 38.3,442.2 38.6,445.3 43.4,450.3 43.5,452.5 45.3,453.2 51.5,451.5 53.6,453.1 53.1,458.4 58.1,460.0 59.8,458.1 59.8,455.6 64.6,452.3 62.5,448.1 66.9,444.9 66.7,441.9 62.8,439.7 64.0,435.3 61.6,432.5 57.9,437.4ZM95.5,443.3 92.0,438.5 86.5,443.8 87.1,445.6 83.5,451.2 83.1,453.0 88.9,454.2 89.3,460.1 92.5,461.1 96.0,459.4 98.5,461.8 105.0,460.9 100.6,454.9 104.2,451.6 103.6,443.3 105.8,439.2 106.4,436.6 103.2,434.4 99.2,435.9 99.7,440.3ZM112.6,437.3 109.5,435.9 106.4,436.6 105.8,439.2 103.6,443.3 103.7,447.0 109.1,447.0 118.7,450.4 118.9,453.9 115.9,455.7 115.2,458.8 120.7,460.9 122.7,459.9 122.9,457.7 126.9,454.1 124.0,448.1 122.4,447.7 120.5,442.5 120.1,437.0 116.2,435.6ZM302.9,439.8 307.0,442.1 313.7,440.8 312.9,445.9 317.0,447.5 317.3,453.7 318.6,454.4 322.5,452.0 322.4,447.8 328.4,447.8 324.8,441.5 322.9,441.1 322.3,436.2 316.0,434.3 314.0,436.6 309.4,437.0 305.5,434.0 303.2,436.7ZM337.5,436.1 334.4,435.9 330.5,438.1 330.1,439.1 324.8,441.5 328.4,447.8 322.4,447.8 322.5,452.0 326.2,452.1 328.1,451.0 329.1,448.4 332.8,447.2 336.6,449.6 341.2,447.3 341.4,444.7 337.3,441.1ZM22.8,443.4 18.9,445.4 18.7,446.5 20.4,449.2 20.5,451.1 15.7,454.4 16.1,457.5 22.1,457.5 23.1,459.1 29.5,458.9 31.0,456.3 31.0,453.9 29.4,452.0 29.1,447.9ZM66.7,441.9 66.9,444.9 62.5,448.1 64.6,452.3 59.8,455.6 59.8,458.1 65.6,459.6 65.1,463.6 69.0,466.5 74.0,466.5 79.3,467.9 84.4,463.6 84.4,462.4 89.3,460.1 88.9,454.2 83.1,453.0 83.5,451.2 87.1,445.6 86.5,443.8 81.3,441.5 79.5,443.2 74.3,443.8 71.3,438.0ZM173.7,448.1 171.6,447.2 170.6,444.3 174.8,439.2 176.6,439.1 178.6,441.8 177.6,446.0ZM239.5,440.1 233.7,443.9 232.9,447.0 229.0,446.6 224.0,447.8 223.9,451.7 227.4,454.2 227.7,459.8 232.3,461.3 234.4,459.5 240.0,459.1 241.4,458.4 244.2,460.6 248.3,460.3 250.5,454.0 245.8,451.6 242.6,446.3 243.4,442.9ZM43.5,452.5 43.4,450.3 38.6,445.3 36.2,448.0 29.1,447.9 29.4,452.0 31.0,453.9 31.0,456.3 29.5,458.9 30.1,463.1 35.1,464.5 38.3,468.9 39.4,469.2 43.8,464.3 43.7,462.9 39.7,459.5 40.8,454.3ZM133.9,450.6 136.9,453.0 135.6,458.8 139.5,462.1 139.0,465.8 144.7,467.2 146.0,466.0 146.8,460.6 150.7,459.2 150.6,458.3 155.1,452.4 151.1,447.2 148.0,448.8 144.2,445.7 141.9,446.4 135.7,445.2 133.6,448.3ZM151.1,447.2 155.1,452.4 150.6,458.3 150.7,459.2 157.1,459.1 160.3,460.3 160.1,463.2 163.2,468.2 169.6,466.1 168.5,463.1 171.0,458.2 170.1,455.7 176.1,452.8 173.7,448.1 171.6,447.2 170.3,448.5 161.1,447.8 159.9,446.5ZM221.2,444.9 216.5,449.3 213.0,449.1 210.9,452.8 206.3,454.2 207.5,460.4 209.8,461.9 213.8,467.0 218.2,465.2 220.3,466.0 224.5,463.3 225.9,460.6 227.7,459.8 227.4,454.2 223.9,451.7 224.0,447.8ZM259.5,454.0 258.1,449.7 255.2,448.1 250.5,454.0 248.3,460.3 251.6,462.4 254.2,460.5 254.4,456.3ZM122.7,459.9 120.7,460.9 115.2,458.8 111.8,461.0 112.4,462.7 117.0,466.3 116.1,469.8 120.6,472.5 124.5,471.8 126.4,474.1 133.1,473.3 138.9,471.8 138.8,465.3 139.5,462.1 135.6,458.8 133.3,459.4 131.2,458.8 128.6,454.2 126.9,454.1 122.9,457.7ZM171.0,458.2 168.5,463.1 169.6,466.1 171.0,467.0 171.9,470.0 174.8,471.8 178.2,471.7 179.4,463.9 181.9,462.4 177.0,457.3 177.6,453.7 176.1,452.8 170.1,455.7ZM207.5,460.4 206.3,454.2 203.8,452.6 202.7,453.2 199.3,461.3 202.6,462.8ZM259.5,454.0 261.8,459.8 260.0,462.5 254.2,460.5 254.4,456.3ZM65.6,459.6 59.8,458.1 58.1,460.0 53.1,458.4 50.7,460.2 48.5,459.6 43.7,462.9 43.8,464.3 47.4,467.2 46.7,470.5 49.3,474.7 52.6,471.1 56.2,472.3 60.1,468.8 63.8,472.8 69.0,466.5 65.1,463.6ZM89.3,460.1 84.4,462.4 84.4,463.6 79.3,467.9 73.5,466.7 73.5,470.5 79.3,473.6 79.9,477.4 82.7,478.2 84.2,477.4 89.6,478.2 89.2,482.6 91.7,485.7 90.8,489.7 93.1,490.5 98.9,488.6 99.9,486.2 96.1,482.3 96.4,478.1 97.3,477.4 97.1,473.3 100.7,470.3 100.5,467.5 98.4,466.0 98.5,461.8 96.0,459.4 92.5,461.1ZM108.4,459.0 105.0,460.9 98.5,461.8 98.4,466.0 100.5,467.5 100.7,470.3 97.1,473.3 97.3,477.4 96.4,478.1 96.1,482.3 99.9,486.2 104.8,484.9 105.9,485.3 110.1,479.2 112.9,477.8 115.9,480.0 119.3,477.4 120.6,472.5 116.1,469.8 117.0,466.3 112.4,462.7 111.8,461.0ZM146.8,460.6 146.0,466.0 144.7,467.2 139.0,465.8 138.9,471.8 140.0,472.6 140.7,478.1 144.1,479.9 143.5,483.1 148.0,487.6 151.0,480.4 151.9,480.5 154.6,484.6 160.2,483.9 158.8,480.3 162.1,475.7 161.0,472.5 163.2,468.2 160.1,463.2 160.3,460.3 157.1,459.1 150.7,459.2ZM47.4,467.2 43.8,464.3 39.4,469.2 40.6,471.2 40.8,476.5 45.0,477.6 49.2,475.6 46.7,470.5ZM73.5,466.7 69.0,466.5 63.8,472.8 60.1,468.8 56.2,472.3 56.4,476.1 50.9,476.9 52.5,483.0 57.3,483.8 58.6,482.3 65.8,482.1 71.3,484.0 74.1,483.0 75.2,479.5 79.9,477.4 79.3,473.6 73.5,470.5ZM182.6,477.7 182.4,473.4 178.2,471.7 174.8,471.8 171.9,470.0 171.0,467.0 169.6,466.1 163.2,468.2 161.0,472.5 162.1,475.7 158.8,480.3 160.2,483.9 162.0,485.2 165.9,483.6 169.3,485.4 170.9,484.9 175.5,485.5 177.4,483.2 178.2,480.4ZM115.9,480.1 119.3,483.8 117.7,488.4 123.8,490.6 120.6,496.0 124.9,497.0 129.4,493.5 129.0,490.0 131.5,488.8 136.8,490.2 139.3,488.2 139.4,486.3 143.5,483.1 144.1,479.9 140.7,478.1 140.0,472.6 138.9,471.8 133.1,473.3 126.4,474.1 124.5,471.8 120.6,472.5 119.3,477.4ZM294.9,472.4 294.5,476.4 291.3,479.4 291.0,481.3 286.8,484.8 286.6,488.3 289.9,490.5 295.5,488.8 296.0,486.1 298.8,484.6 303.4,486.2 304.3,485.7 305.1,478.4 304.0,477.8 302.7,471.3 299.5,469.9ZM312.0,468.7 309.9,471.1 304.4,470.5 302.7,471.3 304.0,477.8 305.1,478.4 304.3,485.7 309.3,486.8 309.8,488.8 318.3,490.0 324.2,487.8 325.9,484.0 325.1,483.2 323.9,478.1 324.7,476.7 323.1,473.0 319.4,471.4 318.0,472.1ZM330.3,473.8 326.8,470.1 323.1,473.0 324.7,476.7 323.9,478.1 325.1,483.2 325.9,484.0 331.1,484.0 330.9,477.6 329.8,475.8ZM112.9,477.8 110.1,479.2 105.9,485.3 104.8,484.9 99.9,486.2 98.9,488.6 101.3,493.3 106.8,489.9 109.3,494.4 114.4,495.6 116.3,494.4 120.6,496.0 123.8,490.6 117.7,488.4 119.3,483.8ZM276.6,480.3 276.3,483.0 274.6,486.2 276.5,489.3 276.8,496.2 275.5,496.6 271.6,500.8 275.5,505.7 275.8,508.1 279.2,508.1 282.7,505.5 283.1,502.4 286.8,499.4 287.0,498.4 283.3,494.9 284.3,489.8 286.6,488.3 286.8,484.8 283.0,482.4 281.6,479.1ZM151.0,480.4 148.0,487.6 143.5,483.1 139.4,486.3 139.3,488.2 144.8,491.6 144.6,496.0 145.4,496.5 148.0,503.0 149.5,503.9 154.5,500.4 157.6,502.0 161.1,500.1 161.2,496.2 158.4,492.8 153.8,497.4 151.8,496.0 151.6,489.4 153.3,488.9 158.5,491.2 160.9,489.1 162.0,485.2 160.2,483.9 154.6,484.6 151.9,480.5ZM160.9,489.1 158.5,491.2 158.4,492.8 161.2,496.2 161.1,500.1 167.3,502.5 171.6,503.1 172.9,502.7 179.4,505.5 181.2,500.4 180.6,496.9 178.6,495.4 179.2,490.8 176.4,487.8 175.5,485.5 170.9,484.9 169.3,485.4 165.9,483.6 162.0,485.2ZM306.3,492.2 309.3,491.3 309.8,488.8 309.3,486.8 304.3,485.7 303.4,486.2 298.8,484.6 296.0,486.1 295.5,488.8 299.1,494.0 303.1,487.6ZM287.0,498.4 290.5,495.8 289.9,490.5 286.6,488.3 284.3,489.8 283.3,494.9ZM331.8,484.4 325.9,484.0 324.2,487.8 326.9,492.5 325.8,494.7 330.8,497.6 333.4,496.5 332.3,491.5 331.4,490.6ZM129.4,493.5 124.9,497.0 127.4,501.0 129.5,501.6 130.0,507.5 134.4,508.6 135.2,511.8 140.8,513.3 143.6,515.8 147.9,512.5 148.0,511.2 150.2,508.0 149.5,503.9 148.0,503.0 145.4,496.5 144.6,496.0 144.8,491.6 139.3,488.2 136.8,490.2 131.5,488.8 129.0,490.0ZM178.6,495.4 180.6,496.9 181.2,500.4 188.3,502.0 188.6,497.2 186.4,495.2 187.3,490.5 183.3,488.5 179.2,490.8ZM324.2,487.8 318.3,490.0 309.8,488.8 309.3,491.3 311.4,494.7 316.9,496.0 316.4,499.7 312.3,503.7 314.4,508.2 318.2,506.9 322.0,509.3 325.0,505.6 324.3,503.7 325.2,501.5 329.7,500.7 330.8,497.6 325.8,494.7 326.9,492.5ZM387.9,496.2 390.1,491.0 389.4,489.7 386.9,488.3 382.8,491.1 378.6,490.0 375.0,494.6 378.7,498.2 378.7,500.9 375.4,502.5 373.9,507.4 380.8,507.7 381.2,504.0 386.5,501.4 386.1,497.4ZM120.8,496.2 120.5,499.9 116.8,502.5 116.8,505.6 118.7,506.8 118.3,512.7 123.8,513.4 125.7,512.4 126.5,509.7 130.0,507.5 129.5,501.6 127.4,501.0 124.9,497.0ZM167.0,502.1 161.1,500.1 157.6,502.0 154.5,500.4 149.5,503.9 150.2,508.0 148.0,511.2 147.9,512.5 150.2,514.2 157.7,515.5 161.5,514.1 162.3,508.4 165.7,506.6ZM165.7,506.6 162.3,508.4 161.5,514.1 163.9,515.1 165.4,520.6 166.6,521.5 172.0,519.4 174.3,520.7 177.6,519.1 178.9,516.3 182.5,513.7 181.5,508.2 179.9,506.9 179.4,505.5 172.9,502.7 171.6,503.1 167.3,502.5ZM182.5,513.7 186.0,515.6 189.9,514.6 188.8,508.8 184.8,507.1 188.3,502.0 181.2,500.4 179.4,505.5 179.9,506.9 181.5,508.2ZM195.7,511.1 192.2,515.1 194.2,518.9 196.2,519.5 199.1,525.5 204.9,523.4 205.6,521.7 204.9,519.6 200.7,517.5 200.7,514.3ZM291.0,504.4 286.8,499.4 283.1,502.4 282.7,505.5 279.2,508.1 282.8,512.8 275.7,516.1 276.8,518.7 282.0,519.5 282.7,520.5 285.0,521.4 291.4,517.3 291.5,516.4 293.7,514.5 294.4,510.2 290.6,506.4ZM104.3,513.0 105.5,509.0 102.7,506.6 96.5,508.2 96.7,512.4ZM123.8,513.4 118.3,512.7 116.2,514.0 116.6,517.9 110.8,520.2 115.9,527.1 118.6,525.2 119.2,521.1 122.1,519.4ZM282.8,512.8 275.7,516.1 274.6,514.8 275.6,508.3 279.2,508.1ZM125.7,512.4 123.8,513.4 122.1,519.4 119.2,521.1 118.6,525.2 123.4,526.9 125.5,526.5 129.5,527.7 130.2,531.3 135.2,533.2 141.1,534.4 143.2,528.7 139.9,527.0 139.1,520.6 132.9,520.7ZM157.7,515.5 150.2,514.2 147.9,512.5 143.6,515.8 143.0,518.5 139.1,520.6 139.9,527.0 143.2,528.7 141.1,534.4 142.2,537.1 147.5,536.5 148.3,534.7 151.4,532.2 153.8,534.3 160.2,533.9 159.1,529.0 154.6,527.0 151.4,527.8 148.5,525.7 148.1,523.2 150.7,520.5 157.1,519.3ZM163.9,515.1 161.5,514.1 157.7,515.5 157.4,520.3 160.0,521.8 165.4,520.6ZM171.4,528.5 174.5,526.2 174.3,520.7 172.0,519.4 166.6,521.5 166.4,525.6ZM199.1,525.5 196.2,519.5 194.2,518.9 192.2,515.1 189.9,514.6 186.0,515.6 182.5,513.7 178.9,516.3 177.6,519.1 174.3,520.7 174.5,526.2 179.6,528.4 176.2,535.9 176.6,536.9 179.5,537.7 180.9,536.9 184.0,532.7 187.7,532.7 188.6,533.6 193.9,533.1 196.6,533.9 199.1,531.4 198.5,526.9ZM110.3,520.0 105.5,522.6 105.4,523.4 108.4,528.3 106.5,532.3 107.4,539.1 114.6,539.4 116.9,537.4 119.1,534.3 123.0,533.9 123.4,526.9 118.6,525.2 115.9,527.1ZM205.6,521.7 204.9,523.4 199.1,525.5 198.5,526.9 199.1,531.4 204.5,532.5 206.3,537.2 209.3,539.0 210.9,538.5 213.9,531.3 218.6,532.2 221.9,529.8 221.8,527.7 223.1,525.1 223.1,521.5 221.6,520.0 216.9,520.5 214.3,519.3 211.9,521.7ZM219.7,539.4 214.7,539.9 214.5,545.4 218.1,547.3 221.5,542.6 221.3,540.6ZM142.2,537.1 141.1,534.4 135.2,533.2 130.2,531.3 129.5,527.7 125.5,526.5 123.4,526.9 123.0,533.9 119.1,534.3 116.9,537.4 114.6,539.4 116.0,543.6 119.2,545.4 122.9,545.1 125.0,548.2 130.0,550.8 135.0,552.0 139.4,549.4 139.4,546.6 142.5,542.8 141.4,539.0ZM147.5,536.5 142.2,537.1 141.4,539.0 142.5,542.8 139.4,546.6 139.4,549.4 142.2,551.0 143.5,555.5 148.0,558.1 149.3,557.3 152.6,558.4 157.8,556.3 157.3,551.9 163.9,551.2 163.1,544.6 160.7,544.1 158.1,540.1 160.9,534.6 160.2,533.9 153.8,534.3 151.4,532.2 148.3,534.7ZM188.6,533.6 187.7,532.7 184.0,532.7 180.9,536.9 179.5,537.7 176.6,536.9 172.9,541.7 174.7,545.2 174.5,547.5 178.1,550.8 181.5,549.7 182.7,544.1 185.0,543.7 187.3,539.2 188.4,538.4ZM204.5,532.5 199.1,531.4 196.6,533.9 193.9,533.1 188.6,533.6 188.4,538.4 191.3,540.0 192.6,543.6 197.2,544.0 198.4,549.5 204.3,547.8 205.0,545.5 208.5,543.0 209.3,539.0 206.3,537.2ZM114.6,539.4 107.4,539.1 102.7,539.9 101.6,544.5 105.8,547.6 106.2,549.5 101.3,551.1 97.6,548.7 95.0,549.8 95.5,555.8 98.8,557.2 98.4,560.9 102.8,564.9 105.9,561.2 106.1,558.2 108.4,556.1 109.4,551.9 110.6,551.4 114.5,552.5 118.3,550.2 119.2,545.4 116.0,543.6ZM210.9,538.5 209.3,539.0 208.5,543.0 205.0,545.5 204.3,547.8 206.6,550.6 206.2,555.4 209.2,557.2 209.3,561.8 216.9,562.8 217.9,561.9 216.6,557.5 219.8,553.8 220.1,551.9 218.1,549.8 218.1,547.3 214.5,545.4 214.7,539.9ZM225.8,538.2 221.3,540.6 221.5,542.6 218.1,547.3 218.1,549.8 220.1,551.9 219.8,553.8 225.1,558.9 226.8,557.9 228.0,551.5 231.0,551.0 233.1,544.2 234.7,542.9 235.2,539.5 233.0,537.4ZM80.3,549.6 78.2,547.3 77.6,545.2 80.1,542.2 86.1,546.8 85.3,549.2ZM79.5,554.3 77.0,556.7 78.0,560.9 80.4,562.7 79.1,568.5 79.9,574.4 81.6,575.4 86.2,574.4 90.7,571.3 92.3,572.0 98.3,569.3 94.3,563.6 98.4,560.9 98.8,557.2 95.5,555.8 95.0,549.8 93.3,549.3 87.9,552.9 85.3,549.2 80.3,549.6ZM157.3,551.9 157.8,556.3 152.6,558.4 149.3,557.3 148.0,558.1 147.0,562.3 150.1,563.9 152.1,568.3 157.0,567.5 160.0,562.5 160.2,558.8 165.4,555.3 165.8,552.9 163.9,551.2ZM240.2,549.7 239.9,550.5 241.4,555.0 245.4,557.6 248.0,556.4 248.8,550.8 243.8,549.1ZM321.1,549.8 319.3,552.7 314.3,548.7 310.6,550.7 308.2,550.4 304.8,553.3 301.1,557.7 301.8,561.1 305.6,563.2 309.0,562.6 313.1,564.2 312.9,567.9 316.0,571.1 319.3,568.9 322.4,568.9 325.1,567.1 324.8,563.6 328.6,560.7 325.7,555.3 328.7,550.8ZM325.7,555.3 328.6,560.7 330.0,560.7 332.6,555.9 331.9,551.9 328.8,550.8ZM139.3,558.2 139.4,562.6 137.1,564.5 137.4,567.2 134.7,569.2 133.0,573.1 136.8,576.8 139.9,575.0 139.9,569.8 145.7,567.9 148.4,571.6 152.1,568.3 150.1,563.9 147.0,562.3 148.0,558.1 143.5,555.5ZM225.1,558.9 220.2,562.2 217.9,561.9 216.6,557.5 219.8,553.8ZM245.4,557.6 241.4,555.0 236.5,558.7 237.0,561.8 244.3,562.4ZM259.9,582.2 261.8,581.1 264.0,576.8 257.5,572.7 256.2,576.5 257.8,580.5ZM350.0,561.8 354.0,565.5 359.2,563.5 359.4,562.8 356.0,558.1 353.2,557.9ZM361.4,580.6 362.7,581.3 368.7,578.2 368.7,577.0 364.1,574.2 360.7,575.5ZM98.3,569.3 92.3,572.0 90.7,571.3 86.2,574.4 89.7,579.3 93.0,580.3 94.1,579.9 98.9,584.8 102.5,581.4 107.6,582.5 110.6,580.6 113.0,581.6 116.9,579.3 117.9,575.2 112.5,573.4 111.9,570.9 109.1,569.2 106.8,569.7 102.6,567.3 102.8,564.9 98.4,560.9 94.3,563.6ZM301.8,561.1 298.5,565.7 298.3,567.1 302.8,571.4 306.0,569.9 308.2,570.4 312.9,567.9 313.1,564.2 309.0,562.6 305.6,563.2ZM325.1,567.1 329.4,571.3 331.6,569.9 333.5,563.1 330.0,560.7 328.6,560.7 324.8,563.6ZM321.8,585.8 325.9,590.1 329.2,592.5 331.6,592.3 334.1,593.1 339.7,590.1 337.7,586.7 337.2,583.0 334.1,582.2 332.7,576.8 328.7,575.0 322.7,581.7ZM119.8,570.5 116.5,569.0 111.9,570.9 112.5,573.4 117.9,575.2 116.9,579.3 121.3,581.3 124.1,581.2 124.7,580.2 122.8,573.6 120.4,572.5ZM148.6,573.5 148.4,571.6 145.7,567.9 139.9,569.8 139.9,575.0 136.8,576.8 135.5,580.2 140.0,583.0 145.6,581.6 145.0,576.5ZM203.1,570.7 199.9,567.8 196.6,568.5 195.1,575.1 194.0,575.6 193.8,581.3 198.6,582.6 199.9,581.5 204.0,583.0 207.5,581.3 207.8,578.0 202.8,574.8ZM261.6,568.1 257.3,570.1 257.5,572.7 264.0,576.8 265.4,575.8 265.9,570.7ZM85.6,581.7 89.7,579.3 86.2,574.4 81.6,575.4 79.9,574.4 73.9,576.0 72.8,581.0 78.4,584.8 82.0,579.1ZM122.8,573.6 124.7,580.2 124.1,581.2 125.9,586.2 123.3,589.1 123.5,590.8 126.5,593.5 126.4,597.6 129.6,599.4 132.3,598.4 136.3,601.1 140.2,600.0 140.2,595.2 136.5,591.5 136.7,590.5 132.9,584.7 134.0,581.3 135.5,580.2 136.8,576.8 133.0,573.1 128.5,572.2ZM214.9,577.3 209.3,576.9 207.8,578.0 207.5,581.3 204.0,583.0 199.9,581.5 198.6,582.6 197.9,585.5 198.9,587.2 199.4,590.5 202.8,592.6 202.2,598.2 207.0,600.8 210.3,599.2 214.6,600.8 218.1,597.7 217.9,592.6 215.1,591.1 215.1,587.2 210.4,584.3 210.1,583.6 214.8,579.6ZM233.5,583.7 236.4,580.0 232.8,575.9 227.4,576.7 226.1,580.5 221.3,580.3 217.5,574.7 214.9,577.3 214.8,579.6 210.1,583.6 210.4,584.3 215.1,587.2 215.1,591.1 217.9,592.6 218.1,597.7 223.0,599.9 225.5,597.7 228.9,599.2 230.9,599.0 231.7,593.7 235.0,592.1 235.3,590.4 233.3,587.6ZM278.1,581.5 274.5,582.3 271.2,580.8 270.4,577.7 265.4,575.8 264.0,576.8 261.8,581.1 268.0,583.7 268.6,588.5 269.9,591.4 273.2,594.6 278.0,592.8 277.5,589.2 279.9,585.4 279.1,582.4 286.0,580.8 284.4,574.9 282.0,573.9 278.7,575.2ZM268.0,583.7 261.8,581.1 259.9,582.2 259.7,583.4 263.8,588.9 260.9,594.0 265.6,594.9 267.6,599.1 272.7,596.0 273.2,594.6 269.9,591.4 268.6,588.5ZM156.5,591.5 154.3,591.6 151.1,590.1 147.8,593.0 148.8,599.2 155.0,597.9 158.4,599.3 160.7,597.0 166.0,601.3 167.5,600.5 167.5,595.2 164.1,593.6 164.2,587.8 160.0,587.9ZM353.5,588.0 352.6,591.9 348.8,593.1 345.1,587.2 339.7,590.1 342.3,595.3 342.1,596.9 348.7,600.0 349.7,599.3 354.5,599.8 357.2,598.3 357.3,596.3 360.3,592.7 361.0,589.2 356.1,586.0ZM361.0,589.2 360.3,592.7 357.3,596.3 357.2,598.3 359.2,599.9 365.6,599.2 367.1,601.3 373.5,599.9 373.1,594.8 369.2,593.7 367.0,587.6 364.7,587.2ZM340.7,598.8 342.3,595.3 339.7,590.1 334.1,593.1 331.6,592.3 329.2,592.5 325.9,590.1 321.2,594.7 321.4,597.6 322.8,599.7 329.5,604.8 335.3,599.1ZM87.9,604.8 89.5,599.6 83.5,597.6 81.4,600.7 74.6,599.6 73.1,600.1 73.3,601.9 78.8,605.8 79.1,609.0 80.3,609.6 85.2,609.2 86.6,605.8ZM98.5,595.9 93.9,600.2 89.5,599.6 87.9,604.8 92.4,607.6 96.7,604.2 99.2,605.1 102.4,602.2 102.6,601.0ZM192.6,601.3 190.2,597.6 184.5,599.3 184.9,605.2 189.2,605.9 191.0,610.9 196.2,609.8 195.4,604.4 192.8,603.0ZM198.2,597.4 192.6,601.3 192.8,603.0 195.4,604.4 196.2,609.8 199.5,612.0 201.8,609.2 209.8,610.1 209.8,608.2 207.0,600.8 202.2,598.2ZM367.1,601.3 365.6,599.2 359.2,599.9 357.2,598.3 354.5,599.8 353.3,605.3 359.9,610.5 363.8,610.0 367.6,612.9 370.4,610.2 370.6,607.2 367.0,604.6ZM86.6,605.8 87.9,604.8 92.4,607.6 92.5,611.2 86.4,611.2 85.2,609.2ZM99.2,605.1 100.6,611.1 93.4,612.2 92.5,611.2 92.4,607.6 96.7,604.2Z"/>
<path id="po" d="M162.1,35.8 169.4,36.6 171.3,33.1 168.6,30.9 165.3,31.6ZM192.5,31.5 187.6,28.3 184.6,31.1 177.1,29.3 173.4,33.0 175.7,37.2 180.4,35.9 183.6,38.0 183.8,41.4 185.5,42.5 191.8,40.5 191.8,34.7 192.6,33.6ZM165.3,42.4 164.0,44.7 161.0,47.6 157.9,47.0 155.6,49.4 155.6,55.0 158.1,58.9 162.1,59.9 162.2,64.6 163.8,66.3 164.9,70.3 169.1,72.2 170.4,71.8 171.0,66.1 170.2,64.2 170.8,61.6 172.6,60.5 175.5,61.8 179.5,59.1 178.8,56.1 182.9,54.4 182.7,50.3 187.4,48.4 185.5,42.5 183.8,41.4 183.6,38.0 180.4,35.9 175.7,37.2 173.4,33.0 171.3,33.1 169.4,36.6 161.7,36.1 161.7,38.0ZM208.0,47.8 206.0,43.0 202.7,40.6 201.1,42.0 200.8,48.5 197.9,48.8 194.2,45.5 194.4,42.6 191.8,40.5 185.5,42.5 187.4,48.4 189.2,49.5 190.3,52.7 195.1,55.0 194.8,60.6 196.8,63.1 206.7,56.4 202.2,52.1 202.1,49.3ZM141.1,48.5 140.2,53.2 144.5,57.4 149.1,52.9 148.6,48.7 145.9,47.4ZM164.9,70.3 163.8,66.3 162.2,64.6 156.3,67.7 156.8,71.8 160.2,73.5ZM182.7,50.3 182.9,54.4 178.8,56.1 179.5,59.1 175.5,61.8 172.6,60.5 170.8,61.6 170.2,64.2 171.0,66.1 170.4,71.8 171.9,72.2 177.2,69.6 181.5,75.0 182.2,75.0 185.7,71.4 183.7,65.9 188.2,64.2 189.4,60.9 194.8,60.6 195.1,55.0 190.3,52.7 189.2,49.5 187.4,48.4ZM249.3,70.9 246.2,73.1 247.2,79.5 241.0,79.4 238.9,78.3 237.2,79.7 230.2,78.6 228.3,81.1 232.9,86.2 232.6,87.5 235.4,91.3 240.0,90.8 240.8,91.6 247.2,89.9 246.6,85.1 247.3,79.7 253.9,79.2 254.8,77.3 251.9,71.4ZM206.5,77.1 203.2,76.2 199.8,78.7 200.3,83.8 203.3,86.2 204.1,89.6 206.1,90.8 210.7,89.9 214.7,91.8 217.6,86.8 216.8,84.3 212.6,82.9 208.3,83.1ZM360.5,80.5 361.0,83.7 358.3,86.9 360.9,92.5 365.6,89.5 363.8,84.3 368.2,82.9 372.2,85.9 374.7,84.1 374.4,77.5 370.8,76.5 367.8,80.0 364.2,77.9ZM365.6,89.5 360.9,92.5 364.5,97.4 367.8,96.5 371.5,98.1 372.4,101.8 374.2,102.9 378.0,102.5 380.1,103.8 384.4,102.0 383.9,95.8 379.1,84.3 374.7,84.1 372.2,85.9 368.2,82.9 363.8,84.3ZM358.3,101.9 362.2,107.3 364.2,107.6 366.6,105.0 364.2,98.2ZM201.4,92.0 200.8,96.9 204.5,102.9 206.9,103.9 209.6,101.7 210.0,98.8 215.4,94.5 214.7,91.8 210.7,89.9 206.1,90.8 204.1,89.6ZM188.6,109.4 190.1,114.6 192.5,116.0 194.3,114.7 195.7,110.6 192.4,107.4ZM217.6,86.8 214.7,91.8 215.4,94.5 210.0,98.8 209.6,101.7 206.9,103.9 206.8,105.7 209.5,108.5 214.7,108.6 216.2,110.1 216.1,111.8 213.6,115.1 214.9,119.6 216.7,120.9 221.9,119.0 225.4,120.6 228.2,119.4 228.6,113.4 230.6,112.6 231.7,110.1 227.1,105.8 227.7,104.2 233.4,102.1 232.3,96.7 229.6,95.5 229.5,90.0 224.4,87.9 223.3,88.8ZM273.3,89.1 269.9,93.1 268.6,95.9 267.7,100.5 269.4,102.8 267.4,107.3 266.0,108.5 265.7,113.0 262.6,114.9 262.5,118.4 265.3,122.0 271.1,119.7 273.7,121.7 277.3,120.7 279.1,115.8 282.5,114.7 281.9,107.7 287.5,107.8 288.8,106.7 289.7,103.5 287.9,96.6 284.3,95.6 283.5,90.4 280.2,89.2 277.4,89.9ZM140.7,102.0 137.3,104.2 133.7,109.2 134.2,111.3 136.8,113.1 139.6,113.5 141.9,109.8 146.6,108.3 145.4,105.0ZM141.9,109.8 139.6,113.5 136.8,113.1 135.8,120.0 135.3,120.4 135.3,125.4 135.9,126.0 136.5,132.2 140.4,133.3 141.5,137.5 142.9,139.1 148.5,138.9 151.1,140.8 155.1,138.1 155.1,134.4 160.4,131.1 158.5,127.1 161.8,122.3 157.0,118.9 155.8,110.5 152.4,107.7 147.4,109.0 146.6,108.3ZM156.4,114.1 161.3,113.7 163.5,106.9 159.5,107.3 155.8,110.5ZM185.9,107.7 183.9,108.3 180.8,114.1 180.3,119.0 179.6,120.2 176.5,122.3 171.7,120.0 170.1,120.7 169.8,124.5 173.3,129.5 176.1,127.5 176.9,125.5 183.8,127.4 185.3,125.4 189.2,123.9 192.8,119.4 192.5,116.0 190.1,114.6 188.6,109.4ZM277.3,120.7 284.5,125.8 288.7,125.0 289.4,122.9 284.6,118.7 284.8,115.7 282.5,114.7 279.1,115.8ZM85.2,126.7 85.6,120.8 82.5,119.6 78.1,122.1 74.5,120.1 70.7,123.1 70.9,126.5 65.8,129.9 64.2,133.0 64.8,138.2 67.0,139.3 68.7,139.3 72.2,141.3 77.4,138.9 75.4,133.9 79.8,131.2 80.5,127.4ZM57.2,125.0 56.0,121.5 52.5,119.4 50.8,120.3 49.3,123.7 52.0,127.6ZM109.3,120.5 101.6,119.5 99.5,123.3 94.4,121.3 92.3,122.1 88.1,119.7 85.6,120.8 85.2,126.7 87.3,128.4 87.3,131.5 92.5,133.9 95.5,133.0 98.3,135.5 98.4,136.7 100.8,140.5 105.7,138.5 106.3,134.6 111.1,132.2 106.6,126.6ZM118.9,128.3 119.8,122.0 116.4,119.9 114.2,121.0 109.8,120.2 106.6,126.6 111.1,132.2 106.3,134.6 105.7,138.5 109.7,142.1 113.2,136.7 111.8,132.6 116.4,130.7ZM126.1,135.3 127.6,137.4 129.6,138.3 133.3,135.0 134.0,133.6 128.2,129.2ZM232.0,120.4 228.2,119.4 225.4,120.6 221.9,119.0 216.7,120.9 217.1,125.0 222.2,128.0 225.8,125.9 228.2,127.1 231.5,126.6ZM232.2,139.3 230.8,137.7 227.3,138.5 225.0,138.1 220.8,141.2 215.5,138.4 213.5,138.9 212.5,141.4 207.8,144.4 212.2,150.9 214.0,151.1 214.7,153.0 217.6,156.0 221.4,155.8 225.2,159.5 226.9,158.0 228.6,152.2 229.7,152.0 232.6,145.9 233.7,145.3ZM264.2,127.0 263.5,127.4 263.0,132.4 258.8,135.1 258.7,139.0 261.9,139.6 266.7,137.1 268.4,139.3 274.8,137.1 276.3,143.3 282.0,144.3 282.5,137.6 286.9,134.8 284.6,131.8 284.5,125.8 277.3,120.7 273.7,121.7 271.1,119.7 265.3,122.0ZM354.3,121.0 351.4,123.9 350.9,125.9 353.8,128.6 354.3,132.6 350.3,135.0 350.2,136.1 352.0,139.6 351.9,142.8 356.1,144.7 360.7,141.7 361.3,138.5 364.2,137.6 366.2,131.8 365.7,130.3 367.7,127.4 370.3,126.6 373.9,129.4 379.3,124.1 379.0,123.1 373.9,119.4 371.2,120.6 367.0,118.8 363.3,121.5 359.3,117.9ZM85.2,126.7 80.5,127.4 79.8,131.2 75.4,133.9 77.4,138.9 72.2,141.3 72.2,143.1 75.2,147.8 80.4,152.2 83.8,147.8 87.8,153.2 92.2,150.4 91.9,146.9 96.7,145.0 99.3,145.1 100.8,143.2 100.8,140.5 98.4,136.7 98.3,135.5 95.5,133.0 92.5,133.9 87.3,131.5 87.3,128.4ZM166.5,128.8 166.7,131.7 162.7,132.4 160.4,131.1 155.1,134.4 155.1,138.1 151.1,140.8 151.1,143.1 154.1,145.5 157.9,144.2 161.5,146.2 164.6,142.1 169.0,138.1 176.6,138.4 177.6,143.2 185.0,143.0 189.3,138.2 189.5,134.5 183.7,132.2 183.8,127.4 176.9,125.5 176.1,127.5 173.3,129.5 169.8,124.5ZM192.9,131.7 189.5,134.5 183.7,132.2 183.8,127.4 185.3,125.4 189.2,123.9 192.5,129.0ZM133.3,135.0 129.6,138.3 130.2,141.6 126.2,144.8 128.5,151.3 129.1,155.9 124.8,162.2 129.7,164.2 131.8,163.2 136.7,165.5 139.2,160.6 144.4,162.2 147.3,160.1 147.8,158.7 151.0,157.3 151.1,152.4 156.2,150.2 154.1,145.5 151.1,143.1 151.1,140.8 148.5,138.9 142.9,139.1 141.5,137.5 140.4,133.3 136.5,132.2 134.0,133.6ZM192.9,131.7 189.5,134.5 189.3,138.2 185.3,142.4 185.8,145.1 179.9,151.2 186.5,154.2 189.2,149.9 193.4,149.7 194.7,148.7 197.7,148.3 199.6,144.0 197.9,140.3 195.7,132.4ZM72.2,141.3 68.7,139.3 67.0,139.3 67.2,145.4 65.2,146.9 65.5,151.0 66.1,151.6 71.6,149.5 73.2,149.8 75.2,147.8 72.2,143.1ZM109.7,142.1 105.7,138.5 100.8,140.5 100.8,143.2 99.3,145.1 100.0,149.0 101.6,151.3 106.6,148.5 107.2,144.9 109.7,143.2ZM121.3,149.9 116.4,152.7 116.4,153.9 113.4,156.6 111.9,162.7 116.1,163.6 120.8,161.8 122.5,162.8 124.8,162.2 129.1,155.9 128.3,151.7 124.6,151.6ZM101.5,154.9 101.6,151.3 100.0,149.0 99.3,145.1 96.7,145.0 91.9,146.9 92.2,150.4 87.8,153.2 86.9,156.3 84.1,157.7 84.5,162.7 89.5,164.8 92.6,162.7 95.9,163.9 99.2,161.2 100.0,156.0ZM157.9,144.2 154.1,145.5 156.2,150.2 151.1,152.4 151.0,157.3 153.6,158.5 155.0,162.7 151.9,166.9 155.4,169.1 160.4,169.6 161.9,171.1 167.1,170.0 171.4,166.0 171.7,164.1 170.8,163.3 166.2,162.9 162.5,160.6 162.3,158.4 165.0,154.5 164.9,152.8 160.6,149.7 161.5,146.2ZM232.6,145.9 229.7,152.0 228.6,152.2 226.9,158.0 225.2,159.5 224.8,162.1 230.3,165.1 230.1,169.6 232.2,171.1 237.0,169.1 239.1,171.4 243.4,168.8 243.7,167.6 249.0,165.7 249.2,165.0 246.5,159.9 250.0,156.9 252.9,157.3 254.8,155.5 254.6,150.5 251.3,148.4 248.2,150.9 246.2,150.8 241.9,153.4 237.8,149.8 237.4,146.8 233.7,145.3ZM87.8,153.2 83.8,147.8 80.4,152.2 75.2,147.8 73.2,149.8 74.6,156.5 71.7,157.9 71.1,162.3 73.8,165.2 73.4,168.7 70.7,174.4 72.4,175.6 76.6,174.3 79.6,175.9 83.4,170.8 88.9,169.2 89.5,164.8 84.5,162.7 84.1,157.7 86.9,156.3ZM177.2,155.4 178.2,158.0 175.2,163.2 171.7,164.1 171.4,166.0 173.7,170.5 173.6,174.1 180.7,173.9 182.3,170.6 187.8,166.5 191.0,168.4 187.9,175.1 188.4,175.9 192.1,176.4 196.2,173.2 196.1,171.6 193.0,168.6 196.0,161.8 195.7,161.1 188.5,161.1 186.5,154.2 179.9,151.2 178.0,151.3ZM196.7,157.9 196.0,161.8 193.0,168.6 196.1,171.6 196.2,173.2 199.2,176.4 199.6,180.3 204.4,181.5 206.5,180.3 208.5,175.5 210.0,174.6 211.4,175.2 216.8,174.2 220.0,176.6 225.0,172.9 225.1,172.1 221.0,166.2 221.1,165.1 224.8,162.1 225.2,159.5 221.4,155.8 217.6,156.0 214.7,153.0 214.0,151.1 212.2,150.9 207.7,153.1 207.2,157.0 202.9,158.3 199.8,156.5ZM288.0,148.7 285.9,152.5 281.1,149.8 277.5,153.2 280.7,157.7 277.7,162.8 277.0,167.6 280.9,171.8 291.3,176.0 290.1,180.4 295.1,181.8 297.0,180.3 300.6,180.3 304.1,178.6 302.5,174.5 303.0,171.0 297.8,167.1 297.8,164.5 300.6,162.0 300.6,159.2 297.2,155.3 298.8,151.9 295.3,147.9 292.6,150.0ZM331.4,162.0 332.9,163.9 331.0,169.4 329.7,169.9 328.3,173.4 334.2,176.5 336.5,175.2 339.1,177.0 342.3,173.5 342.8,169.8 344.2,169.5 346.9,163.9 343.4,160.2 343.3,158.6 340.1,156.4 336.8,156.3 334.9,155.4 330.8,157.7ZM116.5,167.9 113.4,173.8 110.6,175.4 105.0,175.6 102.2,180.6 104.5,185.8 109.6,187.8 116.3,188.5 119.0,186.0 118.4,181.3 113.9,174.1 120.0,173.1 121.2,169.3 123.0,167.5 122.5,162.8 120.8,161.8 116.1,163.6ZM136.7,165.5 131.8,163.2 129.7,164.2 124.8,162.2 122.5,162.8 123.0,167.5 121.2,169.3 120.0,173.1 113.9,174.1 118.4,181.3 119.0,186.0 123.3,187.8 123.7,190.5 127.3,193.5 131.1,191.2 130.3,188.7 134.6,185.0 133.8,182.1 138.6,179.8 137.3,174.9 134.2,173.5 133.7,170.6 136.9,166.3ZM225.1,172.1 225.0,172.9 220.0,176.6 220.1,179.2 226.8,181.1 223.8,186.3 227.0,190.1 226.8,192.2 224.7,193.9 225.3,199.2 227.7,201.3 231.8,199.2 232.1,194.9 236.5,192.8 238.8,193.1 240.0,198.2 242.1,200.6 246.8,198.8 248.0,197.4 246.8,192.8 248.8,190.6 256.0,191.4 256.0,189.4 251.2,185.1 254.0,181.8 248.6,177.9 248.2,175.6 247.4,175.4 243.4,168.8 239.1,171.4 237.0,169.1 232.2,171.1 230.1,169.6 230.3,165.1 224.8,162.1 221.1,165.1 221.0,166.2ZM272.8,161.2 269.4,165.2 269.0,168.0 272.1,170.4 277.0,167.6 277.9,163.3ZM258.0,181.7 254.0,181.8 251.2,185.1 256.0,189.4 256.0,191.4 257.4,192.6 262.5,191.5 265.3,187.4 264.5,185.8 266.2,181.6 262.2,179.1 258.6,180.0ZM91.2,171.1 88.9,169.2 83.4,170.8 79.6,175.9 76.6,174.3 72.4,175.6 74.2,181.5 76.0,182.4 76.3,188.0 75.3,189.4 75.8,192.1 78.1,193.7 83.6,194.8 85.3,192.8 86.4,188.9 91.7,186.2 91.3,183.3 86.8,180.0 87.4,177.3 91.1,174.2ZM133.7,170.6 134.2,173.5 137.3,174.9 138.6,179.8 143.1,179.7 146.4,181.7 145.9,185.7 151.2,188.8 154.2,185.6 153.5,181.9 149.2,180.2 150.0,174.7 149.2,173.4 149.0,169.1 144.5,167.7 141.6,169.0 136.9,166.3ZM171.4,166.0 167.1,170.0 161.9,171.1 160.4,169.6 155.4,169.1 154.2,174.7 158.5,177.0 159.0,179.3 166.5,180.9 166.9,182.3 174.6,180.6 172.6,175.4 173.6,174.1 173.7,170.5ZM165.2,186.7 161.2,186.5 159.5,187.7 157.7,193.7 162.0,195.1 166.4,194.0 171.8,198.7 177.4,193.9 173.1,190.3 172.8,187.4 166.1,186.0ZM305.2,179.0 309.5,174.8 306.5,169.6 303.0,171.0 302.5,174.5 304.1,178.6ZM344.2,169.5 342.8,169.8 342.3,173.5 339.1,177.0 339.8,178.9 343.0,180.7 343.6,184.6 340.2,188.1 340.9,190.2 345.7,193.2 349.0,193.3 348.6,186.0 351.0,184.4 351.5,180.1 348.3,177.1 349.4,173.0 348.9,171.9ZM72.4,175.6 70.7,174.4 67.2,174.7 66.3,180.2 69.8,182.7 68.5,188.9 75.3,189.4 76.3,188.0 76.0,182.4 74.2,181.5ZM172.6,175.4 175.4,181.4 181.0,180.3 180.7,173.9 173.6,174.1ZM192.1,176.4 193.4,181.5 197.6,182.3 199.6,180.3 199.2,176.4 196.2,173.2ZM336.5,175.2 334.2,176.5 328.3,173.4 327.4,174.5 327.2,180.5 329.0,181.2 331.2,187.9 333.2,188.8 333.1,191.3 337.7,196.1 337.7,197.3 340.8,199.2 345.7,193.2 340.9,190.2 340.2,188.1 343.6,184.6 343.0,180.7 339.8,178.9 339.1,177.0ZM331.3,210.7 324.6,211.4 325.5,217.4 328.9,219.3 332.1,216.3 332.1,212.0 339.7,211.1 337.4,206.2 332.3,205.2ZM108.8,192.3 109.4,187.4 104.5,185.8 102.2,180.6 100.0,180.6 96.4,179.0 91.3,183.3 91.7,186.2 86.4,188.9 85.3,192.8 83.6,194.8 84.2,197.7 88.5,200.5 92.8,198.7 95.2,199.4 99.5,197.4 103.2,200.3 106.8,197.3 107.4,193.2ZM65.5,195.4 65.1,198.1 60.2,197.9 61.3,205.1 64.0,205.5 66.1,211.1 73.2,211.7 77.4,208.8 78.4,206.8 75.8,203.0 75.5,200.9 81.8,199.5 84.2,197.7 83.6,194.8 78.1,193.7 75.8,192.1 75.3,189.4 68.5,188.9 68.3,193.5ZM127.3,193.5 123.7,190.5 123.3,187.8 119.0,186.0 116.3,188.5 109.6,187.8 108.8,192.3 110.6,193.7 112.3,198.2 115.8,199.7 115.1,202.8 120.5,206.8 119.2,209.7 123.5,214.8 125.6,212.9 126.4,206.5 130.0,204.7 129.5,200.2 127.1,198.1ZM265.3,187.4 262.5,191.5 256.6,192.4 253.4,197.7 255.4,203.1 256.5,203.4 261.4,198.8 263.6,199.0 266.8,196.4 269.2,197.7 274.2,197.0 276.5,203.9 281.6,199.2 281.0,195.3 275.8,194.7 274.5,191.6 270.9,189.5 270.4,188.2ZM106.8,197.3 103.2,200.3 104.0,202.6 105.6,203.8 108.5,203.0 109.6,199.5 112.3,198.2 110.6,193.7 108.8,192.3 107.4,193.2ZM112.8,204.8 112.6,209.7 114.7,211.2 119.2,209.7 120.5,206.8 115.1,202.8ZM166.4,194.0 162.0,195.1 157.7,193.7 155.1,195.1 155.0,196.5 152.5,199.7 152.3,204.2 155.4,206.3 154.3,210.4 151.9,212.7 147.2,209.9 144.6,212.5 143.3,217.6 147.3,220.3 152.2,215.7 155.3,217.3 160.1,216.0 162.1,216.8 165.6,211.1 168.2,210.6 167.2,204.3 164.9,200.5 168.1,195.6ZM164.9,200.5 167.2,204.3 168.2,210.6 165.6,211.1 162.1,216.8 169.0,219.5 169.1,223.1 170.2,223.9 177.4,224.0 183.6,221.1 183.6,220.1 187.0,216.5 186.0,213.4 188.8,210.0 188.2,208.2 186.2,206.2 183.9,206.2 180.0,203.7 179.8,201.5 182.0,196.8 178.8,193.9 177.4,193.9 171.8,198.7 168.1,195.6ZM217.9,198.1 218.3,194.1 218.9,193.6 224.7,193.9 225.3,199.2 221.4,201.1ZM248.8,190.6 246.8,192.8 248.0,197.4 253.4,197.7 256.6,192.4 256.0,191.4ZM233.8,200.6 231.8,199.2 227.7,201.3 227.7,203.1 234.4,205.8 230.7,210.5 227.3,210.9 227.7,218.0 232.6,219.8 235.7,217.5 238.3,218.0 240.0,217.6 242.1,212.9 238.2,210.2 237.9,206.2 234.8,205.6ZM54.8,199.6 48.8,197.5 46.7,200.8 46.8,202.5 50.3,205.7 50.3,209.6 53.8,211.5 56.1,211.4 59.2,205.5 61.3,205.1 60.2,197.9 57.7,195.9ZM88.5,200.5 84.2,197.7 81.8,199.5 75.5,200.9 75.8,203.0 78.4,206.8 77.4,208.8 82.5,214.0 85.5,210.9 88.8,212.4 89.5,217.7 90.9,219.2 95.7,214.3 95.0,211.4 93.5,210.7 92.1,207.2 88.0,204.5ZM207.8,200.1 201.8,197.9 200.9,199.8 195.6,199.5 193.7,200.7 191.0,199.5 188.6,200.1 183.1,196.7 182.0,196.8 179.8,201.5 180.0,203.7 183.9,206.2 186.2,206.2 188.2,208.2 188.8,210.0 186.0,213.4 187.0,216.5 190.7,217.5 193.1,216.4 195.7,217.6 198.4,215.8 200.3,211.4 202.0,211.1 204.0,204.2 205.0,204.0ZM209.6,198.9 207.8,200.1 205.0,204.0 204.0,204.2 202.0,211.1 200.3,211.4 198.4,215.8 195.7,217.6 196.2,220.8 201.4,224.1 203.7,223.0 206.9,224.3 208.3,227.6 210.8,230.2 215.1,228.9 214.8,225.6 209.8,222.1 211.0,219.4 215.6,217.6 218.0,219.1 220.9,217.5 227.0,218.4 227.7,218.0 227.3,210.9 230.7,210.5 234.4,205.8 227.7,203.1 227.7,201.3 225.3,199.2 221.4,201.1 217.9,198.1 213.6,202.1ZM64.0,205.5 59.2,205.5 56.1,211.4 53.8,211.5 52.3,216.0 49.9,218.1 53.4,223.6 55.5,222.6 61.2,225.1 64.2,222.9 62.7,217.6 65.1,215.7 66.1,211.1ZM53.8,211.5 50.3,209.6 45.3,212.2 45.8,217.0 49.9,218.1 52.3,216.0ZM73.2,211.7 66.1,211.1 65.1,215.7 62.7,217.6 64.2,222.9 67.8,223.8 69.5,228.3 73.3,228.4 76.0,223.7 78.1,222.1 76.7,217.8 74.2,216.3ZM115.0,216.1 112.4,219.0 107.1,216.2 105.4,217.2 105.6,223.2 108.1,224.9 107.5,228.7 113.3,232.1 117.2,235.7 119.6,235.6 121.9,231.1 124.5,228.6 123.0,225.4 124.6,221.6 124.9,218.6 123.2,216.6 123.5,214.8 119.2,209.7 114.7,211.2ZM144.6,212.5 138.9,210.1 137.8,212.6 131.9,212.5 132.2,220.4 130.5,224.4 130.3,227.9 133.4,230.1 137.1,229.0 137.1,226.0 138.9,221.8 138.8,218.2 143.3,217.6ZM314.0,213.6 312.6,217.1 316.7,220.7 316.5,223.0 312.6,225.8 312.8,228.3 316.4,230.6 315.6,236.1 319.4,237.8 323.1,234.3 323.0,232.9 328.1,227.5 327.2,225.5 329.1,220.4 328.9,219.3 325.5,217.4 321.9,218.8 320.1,218.7 318.2,211.6ZM339.7,211.1 332.1,212.0 332.1,216.3 328.9,219.3 329.1,220.4 327.2,225.5 328.1,227.5 331.5,229.9 333.8,229.8 336.7,232.2 342.3,227.4 340.9,224.5 342.3,221.4 341.5,219.5 337.8,217.2ZM90.9,219.2 91.0,220.5 87.6,223.9 90.3,229.5 92.4,230.3 95.0,228.1 98.9,229.5 101.4,227.7 100.9,223.8 105.6,223.2 105.4,217.2 100.1,217.1 95.7,214.3ZM143.3,217.6 138.8,218.2 138.9,221.8 137.1,226.0 137.1,229.0 133.4,230.1 132.6,232.8 135.2,238.3 134.5,240.6 142.2,242.1 142.1,247.6 143.7,248.6 146.9,248.2 148.7,243.2 152.8,241.5 152.6,237.3 153.9,236.4 153.9,229.4 147.6,222.4 147.3,220.3ZM169.0,219.5 160.1,216.0 155.3,217.3 152.2,215.7 147.3,220.3 147.6,222.4 153.9,229.4 153.9,236.4 156.6,236.2 161.4,240.8 165.4,237.9 168.2,233.3 169.6,232.9 171.6,229.6 170.2,223.9 169.1,223.1ZM187.0,216.5 183.6,220.1 183.6,221.1 177.4,224.0 170.2,223.9 171.6,229.6 169.6,232.9 174.0,236.0 182.9,234.0 187.1,224.8 188.8,224.2 190.7,217.5ZM192.8,224.7 195.7,229.6 199.8,228.4 201.4,224.1 196.2,220.8ZM195.6,229.7 189.3,230.9 189.9,235.2 192.8,235.9 195.4,234.5ZM192.5,242.5 186.2,238.7 182.9,243.3 183.8,245.3 186.3,247.0ZM363.9,221.6 361.0,224.2 361.3,229.6 362.9,230.8 367.0,230.4 368.4,225.4 374.1,224.6 371.2,217.4 370.2,217.4 364.1,220.6ZM82.0,224.4 78.1,222.1 76.0,223.7 73.3,228.4 75.3,230.3 76.1,234.3 81.8,235.1 83.4,233.9 87.4,236.9 93.5,234.0 92.4,230.3 90.3,229.5 83.5,233.3 81.5,227.6ZM100.9,223.8 101.4,227.7 105.2,230.3 107.5,228.7 108.1,224.9 105.6,223.2ZM206.9,224.3 203.7,223.0 201.4,224.1 199.8,228.4 195.7,229.6 195.4,234.5 192.8,235.9 189.9,235.2 186.2,237.5 186.2,238.7 195.6,243.8 199.8,237.8 203.5,234.6 201.8,230.4 208.3,227.6ZM194.6,249.1 186.3,247.0 187.1,252.5 189.1,254.5 194.2,252.0ZM374.4,224.8 368.4,225.4 367.0,230.4 371.6,233.8 375.4,238.0 380.1,234.7 379.2,231.2 374.4,230.0ZM69.5,228.3 63.5,230.8 63.0,233.3 58.2,235.2 59.0,241.0 62.5,242.3 67.8,240.7 67.7,237.2 69.5,234.8 75.9,234.0 75.3,230.3 73.3,228.4ZM130.3,227.9 124.5,228.6 121.9,231.1 119.6,235.6 121.7,238.3 118.5,244.8 122.8,247.3 122.8,250.6 127.1,253.0 133.4,247.1 135.6,248.7 142.1,247.6 142.2,242.1 134.5,240.6 135.2,238.3 132.6,232.8 133.4,230.1ZM215.0,229.1 218.2,234.6 213.5,238.4 214.0,241.0 217.3,243.9 212.3,248.0 212.5,253.0 215.6,253.9 220.7,250.5 225.2,256.0 229.3,251.9 228.8,249.5 230.5,247.7 234.0,248.6 238.2,243.9 237.0,242.7 230.3,242.5 227.9,240.6 228.4,238.3 231.5,236.1 230.6,229.6 227.5,229.4 225.0,231.6 220.4,227.2ZM367.0,230.4 362.9,230.8 363.0,235.8 361.8,237.9 362.2,238.8 365.4,241.8 367.1,241.7 370.5,244.3 371.0,245.7 375.8,247.5 378.8,246.8 379.7,242.9 371.6,233.8ZM81.0,240.4 81.8,235.1 75.9,234.0 69.5,234.8 67.7,237.2 67.8,240.7 62.5,242.3 62.3,248.4 69.3,247.9 67.9,252.6 69.6,253.8 74.9,252.3 74.8,248.3 77.9,247.0 78.4,241.9ZM93.5,234.0 87.4,236.9 83.4,233.9 81.8,235.1 81.0,240.4 84.8,242.9 88.2,240.3 92.7,242.0 95.0,240.7 96.0,236.5ZM153.9,236.4 152.6,237.3 152.8,241.5 148.7,243.2 146.9,248.2 151.7,249.8 151.6,251.9 156.7,256.1 159.6,252.8 158.3,249.8 162.2,245.7 166.7,247.7 170.1,242.1 165.4,237.9 161.4,240.8 156.6,236.2ZM169.6,232.9 168.2,233.3 165.4,237.9 170.1,242.1 172.0,241.9 175.2,243.9 179.5,242.1 178.4,235.0 174.0,236.0ZM46.5,249.8 47.4,252.3 49.7,254.1 47.6,259.8 53.6,263.0 55.4,259.0 61.6,260.5 63.5,257.6 63.0,254.5 67.9,252.6 69.3,247.9 62.3,248.4 62.5,242.3 59.0,241.0 57.2,242.1 51.8,241.2 48.9,243.7 49.0,244.7ZM246.5,246.0 246.2,240.9 243.6,240.5 238.6,244.1 241.9,248.6ZM80.4,253.0 81.7,248.6 77.9,247.0 74.8,248.3 74.9,252.3 69.6,253.8 71.3,258.8 73.7,259.7 76.6,258.5 76.7,255.6ZM118.5,244.8 122.8,247.3 122.8,250.6 119.2,253.5 115.6,252.5 115.5,249.2ZM143.7,249.3 142.1,247.6 135.6,248.7 133.4,247.1 127.1,253.0 122.8,250.6 119.2,253.5 119.8,256.6 124.4,259.7 123.1,263.6 125.9,266.2 130.4,265.2 132.4,268.4 137.8,263.4 137.5,260.3 142.1,259.2 142.7,258.4 142.4,254.9ZM151.7,249.8 146.9,248.2 143.7,248.6 142.4,254.9 142.7,258.4 149.3,256.8 151.8,259.9 149.9,264.7 155.3,266.5 157.8,263.7 157.1,259.9 156.2,259.1 156.7,256.1 151.6,251.9ZM238.2,243.9 234.0,248.6 230.5,247.7 228.8,249.5 229.3,251.9 225.2,256.0 225.6,259.5 226.4,260.2 232.0,259.7 233.5,260.6 235.6,265.0 238.4,265.9 242.9,264.8 243.0,260.1 239.8,257.2 239.3,253.1 241.9,250.3 241.9,248.6ZM336.4,247.1 332.1,250.4 331.6,253.7 328.5,255.7 327.6,258.9 324.9,260.5 324.7,262.5 329.8,268.7 333.2,266.0 336.6,266.4 340.3,260.4 343.1,259.6 341.1,252.5 340.0,251.9ZM63.5,257.6 67.6,259.6 71.3,258.8 69.6,253.8 67.9,252.6 63.0,254.5ZM116.6,260.5 112.7,257.8 113.5,253.3 115.6,252.5 119.2,253.5 119.8,256.6ZM216.5,257.1 220.2,260.5 217.9,265.0 218.5,266.5 223.4,268.7 226.4,266.0 226.4,260.2 225.6,259.5 225.2,256.0 220.7,250.5 215.6,253.9ZM201.7,266.5 201.9,268.7 206.2,273.0 210.8,271.9 210.2,267.0 206.9,263.8 207.3,260.9 202.3,257.7 198.0,260.2 199.9,265.4ZM221.4,285.1 223.8,282.4 223.7,277.9 221.4,276.3 215.6,279.4 215.8,281.8ZM421.5,254.3 416.0,253.1 413.4,255.0 413.2,256.3 409.9,259.9 404.8,258.3 401.5,261.4 402.7,265.0 407.2,266.7 410.0,265.1 413.5,266.1 414.1,273.0 417.2,273.6 420.3,271.7 418.6,267.6 423.8,262.9 421.6,260.9ZM42.8,266.7 46.8,265.3 47.6,259.8 40.5,259.7 39.0,261.1 32.4,261.2 28.2,259.2 25.5,262.4 24.9,265.5 27.9,269.0 32.0,267.2 36.4,267.7 39.3,264.1ZM100.4,265.3 100.9,261.0 98.7,259.3 94.9,260.4 93.6,263.7 91.0,266.5 91.1,267.9 96.0,271.2 96.9,271.1 98.6,266.5ZM107.3,260.9 100.9,261.0 100.4,265.3 98.6,266.5 96.9,271.1 100.3,272.5 105.1,269.3 108.1,262.7ZM157.1,259.9 157.8,263.7 155.3,266.5 156.8,270.4 155.9,271.6 157.7,277.9 161.8,278.1 164.7,273.9 170.0,278.0 172.8,275.6 174.0,272.7 177.1,271.3 175.8,266.0 173.8,264.7 172.1,260.9 167.8,258.9 165.4,260.5 163.1,259.3ZM191.2,265.4 193.3,260.7 189.0,256.2 185.6,259.6 180.9,260.0 176.8,256.6 172.1,260.9 173.8,264.7 175.8,266.0 177.1,271.3 177.8,271.6 183.5,270.8 186.1,272.0 190.4,265.6ZM193.3,260.7 191.2,265.4 190.4,265.6 186.1,272.0 186.4,275.8 184.9,278.2 184.4,282.2 187.6,284.5 190.3,283.7 192.9,284.6 198.4,284.1 199.5,285.0 204.2,281.9 203.9,276.3 206.2,273.0 201.9,268.7 201.7,266.5 199.9,265.4 198.0,260.2ZM226.4,260.2 226.4,266.0 231.3,268.8 231.5,272.5 228.4,274.4 227.4,276.0 223.7,277.9 223.8,282.4 221.4,285.1 221.1,288.9 224.2,291.4 228.8,288.8 228.6,283.8 231.9,282.2 234.5,284.8 234.4,289.5 238.8,290.4 242.5,287.2 242.4,284.8 243.5,283.5 243.4,278.4 249.3,275.8 249.6,272.9 245.5,269.8 244.0,265.6 242.9,264.8 238.4,265.9 235.6,265.0 233.5,260.6 232.0,259.7ZM344.4,260.0 343.1,259.6 340.3,260.4 336.6,266.4 333.2,266.0 329.8,268.7 329.1,270.1 332.6,273.7 332.6,278.8 337.1,281.0 340.5,277.9 340.3,273.3 345.5,271.0 345.6,265.1ZM42.8,266.7 39.3,264.1 36.4,267.7 32.0,267.2 27.9,269.0 28.2,272.2 25.6,275.3 24.9,277.5 29.7,280.8 30.7,283.6 36.6,283.6 37.5,282.4 43.7,282.6 45.0,277.3 40.6,275.9 39.5,272.9 43.5,269.8ZM49.8,269.4 49.6,267.1 46.8,265.3 42.8,266.7 43.5,269.8 39.5,272.9 40.6,275.9 45.0,277.3 46.5,276.3 46.2,271.7ZM129.1,273.7 132.6,269.2 130.4,265.2 125.9,266.2 125.3,270.7ZM410.0,265.1 407.2,266.7 407.2,270.9 403.6,274.5 403.9,275.6 407.1,278.5 411.0,277.9 412.2,274.0 414.1,273.0 413.5,266.1ZM393.5,279.8 387.4,279.7 390.1,284.6 389.4,288.1 392.8,290.4 392.5,293.5 394.8,296.7 399.5,294.9 399.8,289.4 402.5,288.8 403.4,283.4 400.2,281.6 396.4,284.2 395.1,283.1ZM423.4,272.2 425.2,270.9 426.8,265.3 423.8,262.9 418.6,267.6 420.3,271.7ZM438.3,276.1 435.6,279.5 430.4,277.8 426.8,280.4 426.4,283.5 429.9,285.6 431.9,291.0 434.5,291.5 437.9,287.0 438.0,284.7 443.4,283.3 441.5,278.3ZM183.5,270.8 177.1,271.3 174.0,272.7 172.8,275.6 170.0,278.0 169.9,283.5 171.1,284.3 184.4,282.2 184.9,278.2 186.4,275.8 186.5,272.5ZM198.4,284.1 192.9,284.6 192.8,291.8 191.2,292.6 190.5,294.5 193.7,297.5 198.5,297.3 201.8,295.2 206.3,298.3 206.7,301.6 209.3,303.1 213.4,301.7 214.5,298.2 217.3,296.8 218.5,290.0 212.8,289.4 212.2,285.2 215.8,281.8 215.6,279.4 212.6,276.7 212.1,272.7 210.8,271.9 206.2,273.0 203.9,276.3 204.2,281.9 199.5,285.0ZM414.1,273.0 412.2,274.0 411.0,277.9 407.1,278.5 405.9,282.6 403.4,283.4 402.5,288.8 399.8,289.4 399.5,294.9 402.5,296.6 401.9,302.5 404.7,303.9 410.1,300.7 413.4,302.6 418.2,299.8 418.2,295.8 418.8,294.8 426.0,294.7 431.9,291.0 429.9,285.6 426.4,283.5 426.8,280.4 423.9,277.2 423.4,272.2 420.3,271.7 417.2,273.6ZM169.9,283.5 170.0,278.0 164.7,273.9 161.8,278.1 163.3,281.0 166.7,283.2ZM249.3,275.8 243.4,278.4 243.5,283.5 242.4,284.8 242.5,287.2 238.8,290.4 240.3,295.4 239.4,296.9 244.4,301.6 248.9,299.1 249.3,296.7 251.2,294.8 252.7,294.3 255.1,286.5 251.8,284.2 252.0,279.8ZM288.5,280.7 292.5,277.7 295.7,279.7 295.4,282.5 292.6,286.9 288.4,283.8ZM298.4,279.0 295.7,279.7 295.4,282.5 292.6,286.9 293.3,290.0 294.8,291.0 295.7,295.6 297.8,297.5 303.8,293.5 307.3,296.0 310.2,294.9 309.7,289.4 312.1,285.4 309.9,282.9 303.7,283.1 303.0,281.8ZM359.5,277.0 357.6,277.6 356.1,283.2 354.5,284.6 354.6,287.0 363.1,292.8 367.2,290.9 367.2,286.2 371.9,283.7 375.0,285.8 379.2,282.1 380.9,277.6 377.3,276.8 370.4,279.3 368.1,277.1 364.4,278.9ZM375.0,285.8 371.9,283.7 367.2,286.2 367.2,290.9 363.8,292.8 367.5,297.1 366.4,300.0 370.2,302.5 374.0,300.0 377.5,304.3 381.8,300.3 385.4,302.4 388.0,301.2 391.7,302.5 394.6,299.0 394.8,296.7 392.5,293.5 392.8,290.4 389.4,288.1 390.1,284.6 387.4,279.7 381.5,277.1 379.2,282.1ZM37.4,287.9 36.6,283.6 37.5,282.4 43.7,282.6 44.5,283.8 44.4,288.8 42.6,289.6ZM351.5,282.9 345.7,285.8 346.7,290.0 350.9,290.9 351.8,294.7 348.6,298.3 348.8,301.4 351.2,303.6 356.1,302.2 358.7,303.3 362.4,301.2 361.6,297.2 363.1,292.8 354.6,287.0 354.5,284.6ZM443.4,283.3 438.0,284.7 437.9,287.0 442.5,291.1 444.0,290.2 448.7,291.9 451.6,285.7 446.8,283.4 445.5,283.8ZM221.1,288.9 218.5,290.0 217.3,296.8 214.5,298.2 213.4,301.7 217.0,304.4 217.7,307.1 213.7,311.2 217.6,315.8 220.8,313.7 221.9,309.7 224.5,308.7 227.8,310.3 233.3,308.6 231.9,303.9 236.7,298.5 239.4,296.9 240.3,295.4 238.8,290.4 234.4,289.5 233.6,290.1 228.8,288.8 224.2,291.4ZM434.5,291.5 431.9,291.0 426.0,294.7 418.8,294.8 418.2,295.8 418.2,299.8 421.5,301.8 419.1,308.1 424.5,310.0 424.4,312.7 426.4,314.7 427.2,318.4 431.6,321.7 435.9,321.3 441.4,316.5 441.6,315.4 439.3,312.9 439.9,309.8 435.5,304.8 438.4,301.0 438.1,296.7ZM67.4,301.6 71.4,304.2 71.2,307.6 74.4,309.3 77.5,308.2 77.9,302.3 77.0,302.2 72.3,295.8 69.7,295.9ZM199.1,300.4 198.5,297.3 201.8,295.2 206.3,298.3 206.7,301.6 202.4,302.8ZM239.4,296.9 231.9,303.9 234.8,314.6 238.4,316.5 238.7,321.3 240.1,322.3 242.0,326.5 245.1,326.8 248.3,324.0 248.4,322.8 252.8,316.6 255.6,314.2 256.3,311.0 252.5,306.2 252.8,304.6 248.9,299.1 244.4,301.6ZM299.1,301.0 305.8,299.6 307.3,302.1 307.5,307.3 312.9,308.2 313.6,314.2 316.4,315.5 321.4,309.4 322.8,309.1 325.1,311.2 330.4,308.0 327.3,302.5 327.7,301.8 325.3,296.4 324.5,295.8 319.1,299.6 318.9,301.0 315.3,303.1 312.7,300.8 311.1,295.2 310.2,294.9 307.3,296.0 303.8,293.5 297.8,297.5ZM366.4,300.0 367.5,297.1 363.8,292.8 363.1,292.8 361.6,297.2 362.4,301.2ZM377.0,321.4 372.2,318.9 368.6,320.7 369.4,324.4 362.6,326.7 365.3,330.3 370.9,329.6 371.5,328.0 374.8,327.1ZM401.9,302.5 394.6,299.0 394.8,296.7 399.5,294.9 402.5,296.6ZM82.5,311.3 84.2,306.8 82.4,304.4 78.8,302.0 77.9,302.3 77.5,308.2 80.0,311.4ZM418.2,299.8 413.4,302.6 413.9,306.2 416.4,309.0 415.8,313.2 418.9,316.0 419.4,318.6 421.9,320.0 423.3,325.0 425.7,326.2 430.9,323.9 431.6,321.7 427.2,318.4 426.4,314.7 424.4,312.7 424.5,310.0 419.1,308.1 421.5,301.8ZM406.2,331.6 405.9,326.8 402.9,325.0 398.8,327.1 400.3,333.4 404.5,334.0ZM455.9,306.3 456.2,305.2 451.8,297.9 449.2,301.4 449.8,307.8ZM439.9,309.8 439.3,312.9 441.6,315.4 441.4,316.5 444.3,321.9 447.3,320.4 448.5,316.3 451.5,315.1 448.9,308.6 447.7,308.6 444.0,306.4ZM234.8,314.6 233.3,308.6 227.8,310.3 224.5,308.7 221.9,309.7 220.8,313.7 217.6,315.8 217.0,318.0 221.3,322.4 223.0,326.5 222.0,332.1 230.8,331.8 229.3,321.6 230.5,319.8 230.8,317.8ZM253.0,316.6 255.9,323.0 259.6,321.5 259.1,316.4 255.6,314.2ZM312.8,326.0 318.0,331.6 319.5,332.3 328.5,332.3 324.7,338.4 330.6,341.5 333.5,339.3 333.6,334.8 328.5,332.2 328.3,329.3 325.3,327.9 325.3,321.3 318.3,319.1 316.4,315.5 313.6,314.2 310.1,316.9 313.3,323.7ZM304.7,332.4 310.0,330.6 312.5,326.2 304.4,323.3 301.9,329.4ZM88.1,323.0 82.0,320.0 78.9,319.9 74.6,321.4 74.1,324.1 70.7,326.4 70.2,332.2 73.3,334.4 73.5,336.0 77.9,338.3 80.9,336.5 79.9,332.7 86.3,332.0 84.7,328.3ZM97.7,326.5 91.8,319.8 88.1,323.0 84.7,328.3 87.6,333.4 87.0,335.1 92.0,341.0 95.8,334.9 100.1,332.1 98.7,326.7ZM92.3,320.0 97.7,326.5 98.7,326.7 103.0,321.8 98.6,318.4ZM304.4,323.3 312.5,326.2 313.3,323.7 310.1,316.9 304.2,322.6ZM333.1,323.8 328.7,320.7 325.3,321.3 325.3,327.9 328.3,329.3 328.5,332.2 333.6,334.8 335.6,333.1 336.1,326.7 333.3,324.7ZM389.1,324.5 385.5,319.3 380.1,320.1 377.0,321.4 374.8,327.1 371.5,328.0 370.9,329.6 371.3,331.9 368.5,336.5 370.5,339.3 370.8,342.6 373.4,343.5 377.7,341.1 378.2,339.7 381.8,338.2 380.6,332.3 384.8,331.8 386.7,326.5 388.7,325.8ZM398.8,327.1 394.1,329.8 396.7,335.8 400.3,333.4ZM444.3,321.9 441.4,316.5 435.9,321.3 431.6,321.7 430.9,323.9 434.1,330.7 437.3,332.2 442.1,331.2ZM100.1,332.1 96.1,334.9 98.6,340.5 102.6,338.5 104.2,340.0 109.2,335.6 109.1,334.3 106.7,332.2 107.5,328.8 102.8,322.2 98.7,326.7ZM420.0,331.2 418.6,326.6 415.7,325.3 413.6,326.3 410.2,325.3 405.9,326.8 406.2,331.6 404.5,334.0 405.0,339.8 410.0,339.3 412.7,340.0 417.3,336.4 417.1,335.4ZM38.3,338.1 40.1,332.6 35.9,329.4 33.7,332.0 32.6,336.4 28.0,336.5 27.8,343.3 31.0,344.1 35.5,341.9 35.7,340.1ZM46.2,337.8 46.4,335.5 50.6,333.6 53.6,333.9 53.5,337.8 49.4,339.7ZM53.6,333.9 53.5,337.8 49.4,339.7 50.4,342.8 46.5,345.4 46.5,348.1 43.3,350.1 44.9,356.7 47.1,357.3 50.4,354.3 51.6,350.3 54.0,349.4 56.6,350.9 65.7,351.3 67.4,349.6 63.7,344.6 56.0,342.8 56.0,341.7 60.1,336.8 57.3,333.0 55.8,332.4ZM63.6,329.9 57.3,333.0 60.1,336.8 63.9,337.8 66.2,332.7ZM70.2,332.2 66.2,332.7 63.9,337.8 60.1,336.8 56.0,341.7 56.0,342.8 63.7,344.6 67.3,349.3 72.2,341.9 76.3,345.1 79.6,344.5 77.9,338.3 73.5,336.0 73.3,334.4ZM87.6,333.4 86.3,332.0 79.9,332.7 80.9,336.5 77.9,338.3 79.6,344.5 81.5,345.2 84.4,343.6 88.4,344.4 92.1,343.7 92.0,341.0 87.0,335.1ZM116.9,333.7 114.1,332.5 109.1,334.3 109.2,335.6 104.2,340.0 105.0,343.2 107.6,343.5 111.6,341.4 115.3,346.6 121.3,343.2 120.5,339.8 117.6,337.8ZM136.9,332.7 143.7,333.3 143.6,338.1 140.5,339.7 135.7,336.9ZM151.8,338.9 152.0,334.5 146.1,331.3 143.7,333.3 143.6,338.1 145.6,339.9ZM368.5,336.5 371.3,331.9 370.9,329.6 365.3,330.3 361.5,334.9 364.0,337.2ZM396.6,335.9 400.3,333.4 404.5,334.0 405.0,339.8 399.7,340.2ZM105.0,343.2 104.2,340.0 102.6,338.5 98.6,340.5 95.8,334.9 92.0,341.0 92.1,343.7 88.4,344.4 84.4,343.6 81.5,345.2 81.7,347.5 86.9,352.5 88.2,351.8 94.0,351.1 99.5,351.4 101.7,350.2 101.4,345.8ZM140.5,339.7 137.6,344.5 138.1,346.1 137.0,350.3 139.9,352.7 140.1,358.4 143.3,358.8 146.9,355.8 145.7,351.9 146.2,351.2 145.3,345.9 146.1,344.6 152.9,345.5 154.5,344.9 154.4,341.6 151.8,338.9 145.6,339.9 143.6,338.1ZM172.2,346.8 172.9,349.0 175.0,351.5 178.6,350.7 180.9,351.6 182.4,355.0 186.0,356.9 186.3,359.7 190.3,362.9 194.3,362.1 196.9,363.8 201.4,358.1 196.8,356.0 196.7,352.0 198.9,351.0 201.1,344.6 195.6,342.7 193.2,345.7 187.6,344.7 185.9,347.3 182.7,345.5 181.7,340.1 176.9,339.9 176.3,341.7ZM193.2,345.7 195.6,342.7 193.8,338.3 192.3,336.9 187.2,339.1 186.3,338.7 181.7,340.1 182.7,345.5 185.9,347.3 187.6,344.7ZM267.8,339.6 265.3,341.2 265.1,346.0 257.0,357.2 262.4,358.7 265.2,354.3 270.0,359.4 273.7,354.2 272.7,352.1 272.9,351.1 275.6,348.2 274.8,343.5 272.7,341.1ZM67.3,349.3 70.4,350.8 73.9,357.8 86.4,354.2 86.9,352.5 81.7,347.5 81.5,345.2 79.6,344.5 76.3,345.1 72.2,341.9ZM107.6,343.5 105.0,343.2 101.4,345.8 101.7,350.2 104.0,351.5 104.8,357.4 109.4,357.8 112.6,352.6 116.7,356.8 119.7,355.4 120.6,351.3 124.8,349.6 123.8,344.8 121.3,343.2 115.3,346.6 111.6,341.4ZM145.3,345.9 146.2,351.2 145.7,351.9 146.9,355.8 143.3,358.8 147.3,364.0 147.4,365.6 151.6,369.4 157.5,362.9 155.6,356.1 154.5,355.3 154.2,354.2 156.8,346.8 154.5,344.9 152.9,345.5 146.1,344.6ZM19.0,349.1 16.1,350.2 14.4,356.3 11.9,357.5 13.0,362.9 14.4,365.5 19.3,369.3 21.1,368.8 25.2,371.4 29.8,369.9 29.3,365.1 31.9,361.9 29.1,357.0 24.6,357.5 23.2,356.6 21.6,350.5ZM43.3,350.1 44.9,356.7 39.4,359.3 36.6,354.0 37.3,351.1 39.1,349.4ZM50.4,354.3 47.1,357.3 48.8,360.4 52.9,363.0 56.3,363.9 54.2,372.8 56.1,374.2 61.2,372.6 62.0,368.3 63.5,367.7 64.7,363.0 65.8,362.3 66.2,358.9 73.1,357.2 70.4,350.8 67.4,349.6 65.7,351.3 56.6,350.9 54.0,349.4 51.6,350.3ZM104.8,357.4 104.0,351.5 101.7,350.2 99.5,351.4 94.0,351.1 88.2,351.8 86.9,352.5 86.4,354.2 79.3,356.6 83.3,362.9 85.6,362.3 91.6,364.4 91.5,368.5 96.0,370.6 98.7,369.2 99.9,363.9 101.9,362.6 102.2,360.4ZM126.1,350.8 124.8,349.6 120.6,351.3 119.7,355.4 116.7,356.8 116.6,360.2 119.4,363.7 121.8,362.3 127.1,364.5 130.5,359.8 130.4,359.0 126.3,357.0ZM201.4,358.1 197.3,363.5 206.0,361.7 204.3,357.3 204.5,354.0 198.9,351.0 196.7,352.0 196.8,356.0ZM245.2,355.0 241.3,358.5 241.1,360.0 247.9,362.1 255.1,368.6 260.2,368.6 259.6,363.4 263.8,361.7 262.4,358.7 257.0,357.2 262.1,349.9 254.4,349.6 252.1,354.8 251.3,354.9 247.5,348.9 242.5,349.0 242.0,349.7ZM281.1,354.1 281.9,350.6 281.1,348.9 275.6,348.2 272.9,351.1 272.7,352.1 273.7,354.2 278.1,356.3ZM44.9,356.7 39.4,359.3 35.4,362.6 31.9,361.9 29.3,365.1 29.8,369.9 31.2,370.7 32.1,372.8 39.8,374.9 41.4,382.0 44.5,381.7 49.0,377.9 49.2,376.3 54.2,373.3 56.5,364.7 56.3,363.9 52.9,363.0 48.8,360.4 47.1,357.3ZM65.8,362.3 64.7,363.0 63.5,367.7 68.1,369.1 68.5,370.2 78.6,374.6 80.6,373.5 80.6,372.1 78.0,366.3 83.3,362.9 79.3,356.6 73.9,357.8 73.1,357.2 66.2,358.9ZM109.4,357.8 104.8,357.4 102.2,360.4 101.9,362.6 99.9,363.9 98.7,369.2 101.0,370.7 107.3,368.2 108.5,370.0 115.5,368.1 119.2,364.8 119.4,363.7 116.6,360.2 116.7,356.8 112.6,352.6ZM143.3,358.8 140.1,358.4 139.2,359.3 132.5,357.5 130.4,359.0 130.5,359.8 127.1,364.5 121.8,362.3 119.4,363.7 119.2,364.8 123.6,369.8 128.0,369.7 129.4,370.4 130.1,375.3 131.8,375.9 139.7,375.1 142.1,372.7 142.4,369.0 147.4,365.6 147.3,364.0ZM220.4,361.2 221.9,356.8 222.6,356.2 225.4,356.6 229.8,362.6 225.2,365.9ZM278.3,360.3 278.1,356.3 273.7,354.2 270.0,359.4 265.2,354.3 262.4,358.7 263.8,361.7 259.6,363.4 260.2,368.6 263.6,370.2 266.2,368.2 266.4,363.6 269.8,361.1 273.4,362.5ZM270.6,370.0 271.3,375.2 273.4,377.6 277.5,375.6 275.6,368.7 274.7,368.4ZM91.5,368.5 91.6,364.4 85.6,362.3 83.3,362.9 78.0,366.3 80.6,372.1 80.6,373.5 84.3,375.1 88.4,372.2 88.9,370.4ZM159.6,363.6 157.4,362.9 151.6,369.4 147.4,365.6 142.4,369.0 142.1,372.7 148.3,374.3 146.9,380.2 153.5,381.2 152.8,385.6 154.5,387.3 161.6,386.7 157.1,381.8 161.9,377.5 161.9,376.1 159.5,374.3 159.0,372.3 160.3,369.2ZM186.3,359.7 181.8,362.9 178.4,362.6 176.6,366.6 179.3,370.1 179.1,373.6 175.2,375.9 175.5,379.0 178.6,382.3 182.8,381.2 184.3,382.0 190.5,379.6 193.1,382.6 193.2,384.3 198.7,387.4 202.0,379.4 198.8,373.3 201.5,369.4 197.6,366.1 196.9,363.8 194.3,362.1 190.3,362.9ZM211.7,361.4 206.0,361.7 196.9,363.8 197.6,366.1 201.5,369.4 198.8,373.3 202.0,379.4 199.0,387.8 205.2,388.2 207.1,386.1 207.2,384.6 203.5,379.4 205.4,376.5 204.6,369.6 205.4,369.0 212.3,369.5 216.6,367.8 221.1,370.3 219.3,376.2 223.8,376.9 228.4,373.9 226.9,370.2 225.0,368.2 225.2,365.9 220.4,361.2 218.3,362.0 212.8,360.5ZM19.3,369.3 16.6,375.1 21.2,377.6 21.6,380.7 25.6,382.5 29.7,380.0 30.9,380.8 34.1,379.7 40.6,382.8 41.4,382.0 39.8,374.9 39.2,374.5 38.1,374.7 32.1,372.8 31.2,370.7 29.8,369.9 25.2,371.4 21.1,368.8ZM107.3,368.2 101.0,370.7 98.7,369.2 96.0,370.6 91.5,368.5 88.9,370.4 88.4,372.2 92.7,376.8 90.6,380.4 92.7,382.9 99.4,380.8 100.1,381.6 107.0,380.4 105.5,375.1 108.5,372.4 108.5,370.0ZM119.2,364.8 115.5,368.1 108.5,370.0 108.5,372.4 105.5,375.1 107.0,380.4 107.6,381.0 111.7,380.0 115.3,382.5 113.9,388.0 118.7,389.5 122.4,387.5 121.4,381.5 125.0,379.5 126.5,379.3 130.1,375.3 129.4,370.4 128.0,369.7 123.6,369.8ZM245.5,375.7 242.0,368.5 250.5,369.0 248.6,374.8ZM56.1,374.2 54.2,373.3 49.2,376.3 49.0,377.9 44.5,381.7 48.6,387.6 51.2,387.2 56.4,389.9 59.8,386.6 59.8,381.4 64.3,379.5 64.5,374.9 61.2,372.6ZM71.2,376.4 71.5,379.9 66.1,380.6 64.3,379.5 59.8,381.4 59.8,386.6 65.9,388.5 66.8,387.9 71.3,388.0 72.6,390.3 76.6,392.6 78.3,391.9 79.4,381.9 77.3,378.8 78.6,374.6 73.0,372.4ZM88.4,372.2 84.3,375.1 80.6,373.5 78.6,374.6 77.3,378.8 79.4,381.9 78.3,391.9 81.9,392.5 83.3,399.4 87.1,397.7 89.5,394.0 93.9,393.9 97.0,391.1 98.6,388.0 100.3,387.1 100.1,381.6 99.4,380.8 92.7,382.9 90.6,380.4 92.7,376.8ZM148.3,374.3 142.1,372.7 139.7,375.1 131.8,375.9 130.1,375.3 126.5,379.3 128.9,382.5 135.7,383.4 135.7,387.0 141.8,389.8 142.5,392.5 143.3,393.1 148.5,392.3 149.2,392.8 154.6,391.8 154.5,387.3 152.8,385.6 153.5,381.2 146.9,380.2ZM231.4,375.5 228.4,373.9 223.8,376.9 225.9,381.8 226.8,382.5 226.9,386.9 231.3,389.3 235.5,385.6 234.9,381.9 231.9,379.5ZM278.6,375.7 273.4,377.6 268.9,382.3 269.9,385.6 275.3,387.6 284.0,386.1 285.0,386.6 286.8,392.5 288.9,392.5 292.8,390.8 294.4,387.2 297.0,386.0 297.8,383.5 293.3,378.3 289.9,380.2 286.1,378.0 283.1,379.9 281.8,379.4ZM30.9,380.8 32.5,385.7 37.5,387.8 36.3,392.7 39.1,397.4 42.7,401.4 47.6,399.3 47.7,396.1 49.5,395.0 50.2,387.5 48.6,387.6 44.5,381.7 41.4,382.0 40.6,382.8 34.1,379.7ZM113.9,388.0 115.3,382.5 111.7,380.0 100.1,381.6 100.3,387.1 98.6,388.0 97.0,391.1 103.2,395.2 106.0,392.3 108.7,392.9 111.4,392.0ZM121.4,381.5 122.4,387.5 126.8,390.2 127.3,392.6 130.9,394.0 133.8,393.7 135.7,387.0 135.7,383.4 128.9,382.5 126.5,379.3 125.0,379.5ZM247.5,388.9 247.3,393.7 243.8,395.0 242.7,399.6 240.0,400.0 237.3,406.3 242.2,406.8 245.1,405.6 249.1,408.6 252.7,403.8 252.3,399.7 254.1,398.7 255.1,393.0 253.7,391.3 253.2,388.8 255.5,385.6 254.7,383.0 253.6,382.3 249.9,382.6 244.9,378.5 243.3,380.3 243.0,386.7 246.2,387.5ZM307.6,385.4 302.0,380.7 297.8,383.5 297.0,386.0 301.4,390.3 305.0,392.6 309.0,391.4ZM292.0,406.0 294.3,404.7 295.5,399.6 292.9,398.8 287.7,400.1 288.0,404.1ZM154.5,387.3 154.6,391.8 149.2,392.8 151.0,398.7 154.3,400.3 154.8,403.2 158.5,405.8 160.9,404.6 166.3,406.4 168.1,404.9 168.2,400.6 171.5,400.1 173.5,394.4 169.4,393.0 168.9,389.0 161.6,386.7ZM197.4,392.2 199.0,387.8 193.2,384.3 190.8,387.8 185.5,387.2 183.6,389.2 177.2,388.2 176.3,393.7 179.9,397.8 183.5,398.8 185.3,398.5 189.9,400.3 191.8,399.2 192.4,392.5ZM197.4,392.2 199.5,394.9 198.5,399.0 203.2,400.9 203.2,406.0 206.7,408.5 206.9,409.8 209.7,411.7 216.1,408.7 218.4,411.1 223.9,405.9 217.4,402.1 215.4,399.4 216.0,395.4 219.7,392.9 220.2,391.8 218.5,388.8 216.1,387.6 212.5,389.1 207.1,386.1 205.2,388.2 199.0,387.8ZM220.2,391.8 219.7,392.9 216.0,395.4 215.4,399.4 217.4,402.1 223.9,405.9 226.2,405.9 230.9,403.9 231.3,402.1 235.9,397.0 235.6,395.3 231.6,392.3 231.3,389.3 226.9,386.9 223.2,391.3ZM255.5,385.6 253.2,388.8 253.7,391.3 255.1,393.0 254.1,398.7 252.3,399.7 252.7,403.8 256.2,405.4 255.5,412.0 257.8,412.0 261.1,410.0 265.4,414.2 269.1,409.5 268.9,405.5 275.5,404.5 274.6,397.6 276.5,396.1 274.7,390.1 275.3,387.6 269.9,385.6 266.7,388.6 266.4,391.5 262.1,394.4 260.3,392.8 259.2,387.0ZM75.4,399.3 83.3,399.4 81.9,392.5 78.3,391.9 76.6,392.6ZM103.2,395.2 97.0,391.1 93.9,393.9 89.5,394.0 87.1,397.7 92.0,401.4 94.9,396.3 100.7,399.3 101.7,398.8ZM141.0,401.8 144.0,406.1 142.2,409.8 140.0,411.3 139.6,413.9 145.6,418.1 146.9,417.4 147.5,413.3 151.0,411.3 152.9,412.6 159.0,411.1 158.5,405.8 154.8,403.2 154.3,400.3 151.0,398.7 149.2,392.8 148.5,392.3 143.3,393.1 143.7,398.0ZM192.4,392.5 191.8,399.2 189.9,400.3 189.5,405.9 185.5,407.4 184.2,411.4 181.7,413.0 182.0,416.3 193.4,418.7 195.2,416.1 199.8,417.0 203.3,415.9 203.7,413.2 206.9,409.8 206.7,408.5 203.2,406.0 203.2,400.9 198.5,399.0 199.5,394.9 197.4,392.2ZM60.0,404.6 54.6,399.5 48.9,400.3 47.6,399.3 42.7,401.4 40.1,405.1 40.7,410.8 41.9,411.4 43.0,417.2 47.6,419.6 50.0,418.0 50.9,414.1 56.5,411.7 58.7,409.2ZM171.5,400.1 168.2,400.6 168.1,404.9 166.3,406.4 166.1,409.5 171.3,411.9 169.6,416.9 172.3,419.2 175.4,418.6 179.8,420.1 182.0,416.3 181.7,413.0 184.2,411.4 185.5,407.4 189.5,405.9 189.9,400.3 185.3,398.5 183.5,398.8 179.9,397.8 176.3,402.6ZM235.9,397.0 231.3,402.1 230.9,403.9 226.2,405.9 223.9,405.9 218.4,411.1 218.5,411.8 224.9,414.5 221.8,419.8 222.2,423.1 229.0,423.3 229.6,422.6 233.7,422.0 237.8,426.4 242.8,422.0 241.1,418.0 239.7,417.0 239.7,413.9 242.4,411.8 247.0,411.4 249.1,408.9 245.1,405.6 242.2,406.8 237.3,406.3 240.0,400.0ZM300.8,399.4 297.4,398.3 295.5,399.6 294.3,404.7 292.0,406.0 290.3,411.7 286.4,412.7 285.2,417.6 286.2,420.9 291.2,421.6 294.5,423.9 296.8,422.4 300.6,423.0 303.4,421.5 303.9,417.5 302.4,414.3 303.3,411.6 299.1,408.4 301.6,403.9ZM169.6,416.9 171.3,411.9 166.1,409.5 166.3,406.4 160.9,404.6 158.5,405.8 159.0,411.1 152.9,412.6 152.7,417.3 159.1,418.6 160.1,423.1 165.1,421.7 168.3,417.1ZM252.7,403.8 247.0,411.4 242.4,411.8 239.7,413.9 239.7,417.0 241.1,418.0 242.8,422.0 243.9,422.5 246.4,428.1 248.9,429.9 250.6,428.7 257.0,429.5 259.4,425.1 263.4,423.8 263.4,418.2 265.5,416.1 265.4,414.2 261.1,410.0 257.8,412.0 255.5,412.0 256.2,405.4ZM290.3,411.7 292.0,406.0 288.0,404.1 283.1,406.8 280.3,404.7 276.9,405.2 275.5,404.5 268.9,405.5 269.1,409.5 265.4,414.2 265.5,416.1 271.9,418.1 274.2,416.7 277.9,418.4 285.2,417.6 286.4,412.7ZM50.9,414.1 50.0,418.0 47.6,419.6 47.3,422.3 52.0,428.4 55.7,428.2 55.9,423.4 58.1,421.6 59.2,416.0 56.5,411.7ZM65.1,411.6 64.9,410.8 58.7,409.2 56.6,411.3 59.2,416.0 58.1,421.6 65.4,423.3 66.1,419.8 61.1,416.1ZM152.9,412.6 151.0,411.3 147.5,413.3 146.9,417.4 145.6,418.1 144.3,421.8 147.0,424.5 145.1,430.4 151.1,430.8 154.1,425.6 159.9,423.0 159.1,418.6 152.7,417.3ZM209.7,411.7 206.9,409.8 203.7,413.2 203.3,415.9 199.8,417.0 199.7,423.6 203.4,423.6 203.7,428.6 207.2,432.5 209.7,429.4 210.1,426.1 215.3,423.9 217.5,425.0 222.2,423.1 221.8,419.8 224.9,414.5 218.5,411.8 216.1,408.7ZM102.6,416.6 98.7,416.2 96.2,417.4 95.6,421.3 90.9,423.8 87.9,422.5 86.8,417.5 79.4,418.7 77.9,423.4 85.9,424.0 84.6,429.2 83.3,430.1 82.8,432.8 85.6,435.6 90.4,435.4 92.1,436.9 95.8,435.2 99.2,435.9 103.2,434.4 103.0,430.1 105.9,425.1 102.6,422.1 103.6,418.3ZM169.6,416.9 168.3,417.1 165.1,421.7 159.9,423.0 154.1,425.6 154.0,426.6 157.8,432.0 157.4,435.0 161.2,436.6 159.9,442.5 166.6,440.4 167.7,442.8 170.6,444.3 174.8,439.2 176.6,439.1 179.5,435.1 176.6,430.7 177.3,428.8 182.7,426.2 182.9,424.2 179.8,420.1 175.4,418.6 172.3,419.2ZM182.7,426.2 177.3,428.8 176.6,430.7 179.5,435.1 182.8,434.9 186.0,431.8 188.7,433.9 194.4,433.9 196.1,436.0 200.4,435.7 202.2,436.4 207.1,433.0 203.7,428.6 203.4,423.6 199.7,423.6 199.8,417.0 195.2,416.1 193.4,418.7 182.0,416.3 179.8,420.1 182.9,424.2ZM265.5,416.1 263.4,418.2 263.4,423.8 259.4,425.1 257.0,429.5 257.5,433.3 263.1,435.6 264.4,435.1 266.9,436.0 269.4,435.4 270.3,428.6 272.1,427.7 272.9,424.6 271.2,421.7 271.9,418.1ZM76.1,428.3 75.7,434.9 77.5,435.6 81.3,441.5 86.5,443.8 92.0,438.5 92.1,436.9 90.4,435.4 85.6,435.6 82.8,432.8 83.3,430.1 84.6,429.2 85.9,424.0 77.9,423.4ZM209.7,429.4 207.1,433.0 202.2,436.4 203.0,440.2 206.6,443.3 210.3,441.9 213.2,443.4 218.9,441.9 220.6,443.1 225.5,439.4 224.5,434.2 229.0,431.8 229.2,430.2 223.5,428.3 222.2,423.1 217.5,425.0 215.3,423.9 210.1,426.1ZM229.6,422.6 229.0,423.3 222.6,423.3 223.5,428.3 229.2,430.2 229.9,428.8 237.6,428.6 240.7,434.1 248.5,434.1 248.9,429.9 246.4,428.1 243.9,422.5 242.8,422.0 237.8,426.4 233.7,422.0ZM229.0,431.8 224.5,434.2 225.5,439.4 227.6,439.8 229.0,446.6 232.6,447.1 233.7,443.9 231.1,438.6 232.5,435.8ZM296.8,422.4 294.5,423.9 293.8,427.3 297.1,431.3 303.1,429.7 300.6,423.0ZM287.5,436.4 287.5,437.5 283.2,444.7 283.5,445.4 288.3,446.6 288.7,453.4 291.4,454.8 296.1,447.7 298.3,446.6 298.1,442.9 296.4,441.2 294.9,437.0ZM305.6,430.6 303.1,429.7 300.6,423.0 303.4,421.5 308.7,423.6 308.8,428.2ZM157.8,432.0 154.0,426.6 151.1,430.8 145.1,430.4 144.1,431.1 144.6,436.5 146.1,437.8 148.0,438.0 152.6,435.6 154.8,436.3 155.2,440.0 159.7,442.8 161.2,436.6 157.4,435.0ZM248.9,429.9 248.8,434.8 243.4,442.9 242.6,446.3 245.8,451.6 250.5,454.0 255.7,447.9 258.1,449.7 260.0,454.3 265.2,452.4 266.7,447.0 268.2,445.5 266.6,439.8 266.9,436.0 264.4,435.1 263.1,435.6 257.5,433.3 257.0,429.5 250.6,428.7ZM95.8,435.2 92.1,436.9 92.0,438.5 95.5,443.3 99.7,440.3 99.2,435.9ZM105.0,460.9 108.4,459.0 108.6,456.4 104.2,451.6 100.6,454.9ZM179.5,435.1 176.6,439.1 178.6,441.8 184.9,442.6 185.2,447.8 190.2,449.2 190.5,450.5 194.7,455.8 197.3,453.9 203.8,452.6 203.5,450.3 206.2,445.3 206.6,443.3 203.0,440.2 202.2,436.4 200.4,435.7 196.1,436.0 194.4,433.9 188.7,433.9 186.0,431.8 182.8,434.9ZM166.6,440.4 159.9,442.5 159.9,446.5 161.1,447.8 170.3,448.5 171.6,447.2 170.6,444.3 167.7,442.8ZM178.6,441.8 177.6,446.0 173.7,448.1 176.1,452.8 177.6,453.7 177.0,457.3 181.9,462.4 179.4,463.9 178.2,471.7 182.4,473.4 185.0,471.0 185.4,469.3 191.4,465.5 186.1,458.6 194.2,457.1 194.7,455.8 190.5,450.5 190.2,449.2 185.2,447.8 184.9,442.6ZM210.3,441.9 206.6,443.3 206.2,445.3 203.5,450.3 203.8,452.6 206.3,454.2 210.9,452.8 213.0,449.1 216.5,449.3 221.2,444.9 220.6,443.1 218.9,441.9 213.2,443.4ZM225.5,439.4 220.6,443.1 221.2,444.9 224.0,447.8 229.0,446.6 227.6,439.8ZM232.3,461.3 232.6,464.5 234.0,466.9 239.0,465.7 242.7,468.5 244.7,466.6 244.2,460.6 241.4,458.4 240.0,459.1 234.4,459.5ZM313.7,440.8 307.0,442.1 302.9,439.8 298.1,442.9 298.3,446.6 300.5,448.4 301.6,453.8 302.7,454.6 303.2,459.7 307.9,462.9 309.2,462.8 311.0,460.7 317.5,462.5 320.3,457.7 318.6,454.4 317.3,453.7 317.0,447.5 312.9,445.9ZM109.1,447.0 104.1,447.5 104.2,451.6 108.6,456.4 108.4,459.0 111.8,461.0 115.2,458.8 115.9,455.7 118.9,453.9 118.7,450.4ZM288.7,453.4 287.1,453.8 284.0,458.1 279.0,457.3 272.6,459.2 272.9,463.4 279.3,465.1 277.5,472.0 280.5,473.5 282.4,476.8 286.5,476.3 287.2,473.2 291.1,469.4 294.9,472.4 299.5,469.9 299.2,462.5 303.2,459.7 302.7,454.6 301.6,453.8 300.5,448.4 298.3,446.6 296.1,447.7 291.4,454.8ZM341.2,447.3 336.6,449.6 332.8,447.2 329.1,448.4 328.1,451.0 326.2,452.1 322.5,452.0 318.6,454.4 320.3,457.7 325.3,459.5 328.2,460.3 331.6,458.4 334.9,459.5 338.3,458.4 342.2,462.0 348.1,458.7 347.5,454.3 345.4,453.6ZM43.7,462.9 48.5,459.6 45.3,453.2 43.5,452.5 40.8,454.3 39.7,459.5ZM50.7,460.2 48.5,459.6 45.3,453.2 51.5,451.5 53.6,453.1 53.1,458.4ZM197.3,453.9 194.7,455.8 194.2,457.1 186.1,458.6 191.4,465.5 185.4,469.3 185.0,471.0 182.4,473.4 182.6,477.7 186.2,480.7 191.2,477.3 193.4,478.8 198.2,476.8 201.0,479.5 204.2,476.3 209.7,476.4 210.7,475.5 211.3,471.6 209.8,471.0 206.3,467.0 208.9,461.6 207.5,460.4 202.6,462.8 199.3,461.3 202.7,453.2ZM227.7,459.8 225.9,460.6 224.5,463.3 220.3,466.0 218.2,465.2 213.8,467.0 208.9,461.6 206.3,467.0 209.8,471.0 211.3,471.6 210.7,475.5 209.7,476.4 204.2,476.3 201.0,479.5 201.0,480.7 203.1,482.6 208.0,482.6 210.7,486.0 221.6,483.2 221.2,478.3 224.3,475.8 224.2,472.0 226.3,470.8 227.6,467.0 232.6,464.5 232.3,461.3ZM248.3,460.3 244.2,460.6 244.7,466.6 242.7,468.5 239.0,465.7 234.0,466.9 234.1,469.4 238.9,473.0 238.3,477.5 235.3,479.7 234.7,481.9 237.3,484.6 238.5,488.2 241.6,489.3 244.7,487.2 247.6,490.4 252.4,488.9 255.8,490.7 257.0,489.4 262.7,488.6 265.1,486.6 262.8,482.5 263.0,480.8 258.7,477.8 260.6,473.7 254.6,471.3 255.8,467.9 251.5,464.3 251.6,462.4ZM270.2,456.6 265.1,459.8 261.8,459.8 260.0,462.5 254.2,460.5 251.6,462.4 251.5,464.3 255.8,467.9 254.6,471.3 260.6,473.7 258.7,477.8 263.0,480.8 266.2,477.9 270.0,479.2 273.0,477.2 276.6,480.3 281.6,479.1 282.4,476.8 280.5,473.5 277.5,472.0 279.3,465.1 272.9,463.4 272.6,459.2ZM303.2,459.7 299.2,462.5 299.5,469.9 302.7,471.3 304.4,470.5 309.9,471.1 312.0,468.7 318.0,472.1 319.4,471.4 321.0,466.5 317.9,464.0 317.5,462.5 311.0,460.7 309.2,462.8 307.9,462.9ZM317.9,464.0 321.0,466.5 319.4,471.4 323.1,473.0 326.8,470.1 330.3,473.8 329.8,475.8 330.9,477.6 331.1,484.0 331.8,484.4 337.4,483.9 338.8,483.0 340.1,478.0 344.1,477.0 346.9,469.2 342.2,465.6 342.2,462.0 338.3,458.4 334.9,459.5 331.6,458.4 328.2,460.3 320.3,457.7 317.5,462.5ZM342.2,465.6 350.4,471.7 354.3,470.9 357.0,474.8 362.0,471.3 359.7,468.3 365.3,462.8 365.2,461.1 364.2,460.1 358.3,460.7 356.4,459.8 351.2,461.2 348.1,458.7 342.2,462.0ZM232.6,464.5 227.6,467.0 226.3,470.8 224.2,472.0 224.3,475.8 221.2,478.3 221.6,483.2 223.4,484.9 222.3,489.1 223.4,491.3 226.3,492.1 230.4,487.4 234.6,492.2 238.5,488.2 237.3,484.6 234.7,481.9 235.3,479.7 238.3,477.5 238.9,473.0 234.1,469.4 234.0,466.9ZM38.3,468.9 33.7,471.9 35.4,477.4 38.5,478.0 40.8,476.5 40.6,471.2 39.4,469.2ZM52.6,471.1 56.2,472.3 56.4,476.1 50.9,476.9 49.2,475.6 49.3,474.7ZM294.5,476.4 294.9,472.4 291.1,469.4 287.2,473.2 286.5,476.3 282.4,476.8 281.6,479.1 283.0,482.4 286.8,484.8 291.0,481.3 291.3,479.4ZM346.9,469.2 344.1,477.0 340.1,478.0 338.8,483.0 337.4,483.9 331.8,484.4 331.4,490.6 332.3,491.5 333.4,496.5 336.9,498.2 337.7,500.8 340.9,503.0 345.4,501.4 345.5,494.5 346.9,492.6 352.7,495.5 353.7,495.0 355.2,491.3 351.2,488.9 352.4,485.2 355.1,484.2 353.0,477.6 351.1,477.0 350.4,471.7ZM362.0,471.3 357.0,474.8 354.3,470.9 350.4,471.7 351.1,477.0 353.0,477.6 355.1,484.2 352.4,485.2 351.2,488.9 355.2,491.3 357.2,489.9 359.8,491.4 360.2,494.8 365.9,497.0 371.2,496.8 374.1,494.6 370.2,488.9 371.4,485.9 377.3,485.3 378.0,484.1 371.9,476.5 371.5,474.6 365.1,471.3ZM201.0,479.5 198.2,476.8 193.4,478.8 191.2,477.3 186.2,480.7 182.6,477.7 178.2,480.4 177.4,483.2 175.5,485.5 176.4,487.8 179.2,490.8 183.3,488.5 187.3,490.5 186.4,495.2 188.6,497.2 188.3,502.0 193.3,504.4 195.8,500.1 196.2,497.5 199.2,495.7 200.4,491.0 202.5,490.1 203.1,482.6 201.0,480.7ZM276.3,483.0 276.6,480.3 273.0,477.2 270.0,479.2 266.2,477.9 263.0,480.8 262.8,482.5 265.1,486.6 266.9,486.8 269.0,491.8 276.1,489.0 274.6,486.2ZM214.5,484.6 210.7,486.0 208.0,482.6 203.1,482.6 202.5,490.1 200.4,491.0 199.2,495.7 208.4,503.4 211.2,501.2 214.3,504.0 217.5,503.6 218.1,496.3 219.5,496.1 223.4,491.3 222.3,489.1 223.4,484.9 221.6,483.2 215.8,485.1ZM377.3,485.3 371.4,485.9 370.2,488.9 374.1,494.6 371.2,496.8 372.1,500.7 369.2,505.4 373.5,507.6 375.4,502.5 378.7,500.9 378.7,498.2 375.0,494.6 378.6,490.0ZM395.2,494.8 394.6,492.8 390.1,491.0 387.9,496.2 386.1,497.4 386.5,501.4 381.2,504.0 380.9,507.6 385.9,508.8 389.1,507.2 390.4,507.5 394.1,505.0 394.4,501.7 393.6,498.0ZM151.6,489.4 153.3,488.9 158.5,491.2 158.4,492.8 153.8,497.4 151.8,496.0ZM223.4,491.3 219.5,496.1 224.0,498.9 224.9,500.9 221.2,506.2 221.6,507.8 229.1,507.8 230.8,508.7 233.3,507.0 237.2,508.7 240.5,507.1 240.3,503.9 238.3,501.0 238.4,497.5 242.1,496.1 241.6,489.3 238.5,488.2 234.6,492.2 230.4,487.4 226.3,492.1ZM261.0,500.7 261.0,495.8 255.8,491.9 255.8,490.7 252.4,488.9 247.6,490.4 244.7,487.2 241.6,489.3 242.1,496.1 238.4,497.5 238.3,501.0 240.3,503.9 240.5,507.1 245.4,510.3 247.9,514.1 253.9,514.2 254.1,510.1 256.9,506.6 256.2,503.1ZM299.1,494.0 295.5,488.8 289.9,490.5 290.5,495.8 287.0,498.4 286.8,499.4 291.0,504.4 295.9,501.3 298.8,503.7 299.2,507.8 302.5,509.8 305.4,506.7 306.8,503.0 308.7,502.5 309.1,497.0 311.4,494.7 309.3,491.3 306.3,492.2 303.1,487.6ZM345.5,494.5 345.4,501.4 346.2,501.7 347.4,508.6 350.3,510.3 350.1,513.9 349.2,514.5 347.5,520.3 351.3,523.4 353.7,521.1 358.6,521.0 360.0,520.3 360.2,515.0 365.7,513.4 365.8,507.4 369.2,505.4 372.1,500.7 371.2,496.8 365.9,497.0 360.2,494.8 359.8,491.4 357.2,489.9 355.2,491.3 353.7,495.0 352.7,495.5 347.8,492.6 346.9,492.6ZM394.6,492.8 395.2,494.8 393.6,498.0 394.4,501.7 400.8,500.5 400.8,496.4 402.6,494.4 401.6,489.3 399.3,487.5ZM114.4,495.6 109.3,494.4 105.3,499.0 109.6,502.7 113.6,499.5ZM120.6,496.0 116.3,494.4 114.4,495.6 113.6,499.5 109.6,502.7 110.0,506.9 111.0,507.4 113.4,512.8 116.2,514.0 118.3,512.7 118.7,506.8 116.8,505.6 116.8,502.5 120.5,499.9ZM196.2,497.5 195.8,500.1 193.3,504.4 188.3,502.0 184.8,507.1 188.8,508.8 189.9,514.6 192.2,515.1 195.7,511.1 200.7,514.3 200.7,517.5 204.9,519.6 207.6,514.7 210.1,512.9 209.0,509.4 206.8,507.6 208.4,503.4 199.2,495.7ZM217.5,503.6 214.3,504.0 211.2,501.2 208.4,503.4 206.8,507.6 209.0,509.4 210.1,512.9 207.6,514.7 204.9,519.6 205.6,521.7 211.9,521.7 214.3,519.3 216.9,520.5 221.6,520.0 222.1,517.0 225.8,514.4 227.2,514.7 230.8,511.8 230.8,508.7 229.1,507.8 221.6,507.8 221.2,506.2 224.9,500.9 224.0,498.9 219.5,496.1 218.1,496.3ZM316.9,496.0 311.4,494.7 309.1,497.0 308.7,502.5 306.8,503.0 305.4,506.7 302.5,509.8 303.7,513.4 306.1,514.3 312.8,514.3 314.3,513.4 319.2,514.9 321.5,513.0 326.6,513.4 328.2,511.9 329.3,508.0 325.0,505.6 322.0,509.3 318.2,506.9 314.4,508.2 312.3,503.7 316.4,499.7ZM330.8,497.6 329.7,500.7 325.2,501.5 324.3,503.7 325.0,505.6 329.3,508.0 328.2,511.9 326.6,513.4 328.9,521.1 329.3,526.6 331.3,527.3 337.7,525.2 337.3,521.1 340.1,518.2 344.2,521.2 347.5,520.3 349.2,514.5 350.1,513.9 350.3,510.3 347.4,508.6 346.2,501.7 345.4,501.4 340.9,503.0 337.7,500.8 336.9,498.2 333.4,496.5ZM104.4,499.0 105.3,499.0 109.6,502.7 110.0,506.9 105.5,509.0 102.7,506.6 102.2,503.5ZM295.9,501.3 291.0,504.4 290.6,506.4 294.4,510.2 293.7,514.5 291.5,516.4 291.4,517.3 285.0,521.4 287.6,526.0 289.2,526.3 293.1,522.7 296.8,525.2 300.9,524.2 303.4,527.9 308.2,526.2 309.2,522.7 306.3,520.8 306.1,514.3 303.7,513.4 302.5,509.8 299.2,507.8 298.8,503.7ZM394.4,501.7 394.1,505.0 390.4,507.5 392.3,513.0 397.8,513.9 396.7,518.6 399.7,524.7 404.4,518.1 404.2,516.9 399.2,513.1 400.4,509.3 404.0,508.9 409.7,505.9 409.5,505.1 406.2,501.5 402.2,502.0 400.8,500.5ZM111.0,507.4 110.0,506.9 105.5,509.0 104.3,513.0 96.7,512.4 95.0,514.7 95.3,516.6 98.2,518.8 103.1,518.7 105.5,522.6 110.3,520.0 116.6,517.9 116.2,514.0 113.4,512.8ZM134.4,508.6 130.0,507.5 126.5,509.7 125.7,512.4 130.6,517.7 135.2,511.8ZM230.8,508.7 230.8,511.8 227.2,514.7 225.8,514.4 222.1,517.0 221.6,520.0 223.1,521.5 223.1,525.1 221.8,527.7 221.9,529.8 225.4,531.6 232.6,534.1 233.6,531.5 241.4,531.5 241.4,529.7 245.1,526.5 249.9,526.8 250.6,521.7 254.9,519.7 253.9,514.2 247.9,514.1 245.4,510.3 240.5,507.1 237.2,508.7 233.3,507.0ZM369.0,515.2 368.8,519.7 370.8,522.1 377.8,522.6 378.3,526.0 382.9,528.6 387.2,525.8 390.1,526.2 391.6,525.7 391.1,520.6 396.7,518.6 397.8,513.9 392.3,513.0 390.4,507.5 389.1,507.2 385.9,508.8 380.9,507.6 373.5,507.6 368.9,505.4 365.8,507.4 365.7,513.4ZM130.6,517.7 132.9,520.7 139.1,520.6 143.0,518.5 143.6,515.8 140.8,513.3 135.2,511.8ZM314.3,513.4 312.8,514.3 306.1,514.3 306.3,520.8 309.2,522.7 308.2,526.2 311.6,530.0 311.5,532.4 316.8,534.9 319.6,540.5 323.8,540.0 327.0,542.8 330.1,537.9 330.2,535.6 325.8,532.0 326.8,529.2 329.3,526.6 328.9,521.1 326.6,513.4 321.5,513.0 319.2,514.9ZM360.2,515.0 360.0,520.3 358.6,521.0 353.7,521.1 351.3,523.4 351.4,526.7 354.5,527.8 356.0,531.4 357.8,533.5 361.8,531.9 364.4,534.2 363.7,538.7 366.7,541.3 370.8,538.3 373.4,539.8 378.1,536.5 377.6,534.3 383.8,531.5 382.9,528.6 378.3,526.0 378.1,522.8 370.8,522.1 368.8,519.7 369.0,515.2 365.7,513.4ZM98.2,518.8 97.6,526.1 96.4,526.3 90.9,523.7 90.5,521.9 95.3,516.6ZM103.1,518.7 98.2,518.8 97.6,526.1 96.4,526.3 90.9,523.7 87.2,528.5 87.0,531.5 90.4,532.8 94.9,539.0 94.9,540.5 98.4,545.8 101.6,544.5 102.7,539.9 107.4,539.1 106.5,532.3 108.4,528.3ZM151.4,527.8 148.5,525.7 148.1,523.2 150.7,520.5 157.1,519.3 157.4,520.3 154.6,527.0ZM161.6,526.6 159.1,529.0 154.6,527.0 157.4,520.3 160.0,521.8ZM274.6,522.8 270.2,522.0 267.2,523.2 263.6,518.3 262.3,518.2 258.1,521.1 254.9,519.7 250.6,521.7 249.9,526.8 250.4,531.7 252.1,533.1 256.7,533.1 259.0,526.6 262.8,527.3 263.8,532.7 267.6,533.7 267.9,538.1 271.0,540.0 273.3,539.0 274.5,533.2 275.5,532.8 277.0,526.8 275.5,525.5ZM274.6,522.8 275.5,525.5 277.0,526.8 275.5,532.8 274.5,533.2 273.3,539.0 278.0,540.4 279.5,543.4 281.3,544.9 279.0,550.7 284.4,553.8 286.9,549.2 292.4,552.1 295.2,547.2 295.0,545.3 297.4,542.8 297.3,539.7 293.8,536.3 293.6,532.3 295.8,531.2 296.8,525.2 293.1,522.7 289.2,526.3 287.6,526.0 285.0,521.4 282.7,520.5 282.0,519.5 276.8,518.7ZM337.7,525.2 331.3,527.3 329.3,526.6 326.8,529.2 325.8,532.0 330.2,535.6 330.1,537.9 335.0,540.6 337.3,540.1 335.5,534.0 336.1,532.9 340.0,531.1 341.7,531.8 342.7,539.2 339.4,541.5 339.5,543.1 343.9,548.0 346.3,544.1 346.9,539.6 350.2,538.3 349.4,534.4 356.0,531.4 354.5,527.8 351.4,526.7 351.3,523.4 347.5,520.3 344.2,521.2 340.1,518.2 337.3,521.1ZM245.1,526.5 241.4,529.7 241.4,531.5 233.6,531.5 232.6,534.1 233.0,537.4 235.2,539.5 234.7,542.9 239.5,547.2 240.2,549.7 243.8,549.1 248.8,550.8 252.5,547.3 252.4,546.0 256.2,539.5 259.3,537.5 258.9,535.8 256.7,533.1 252.1,533.1 250.4,531.7 249.9,526.8ZM296.8,525.2 295.8,531.2 293.6,532.3 293.8,536.3 297.3,539.7 297.4,542.8 295.0,545.3 295.2,547.2 297.6,548.9 301.9,549.9 304.8,553.3 308.2,550.4 310.6,550.7 314.3,548.7 315.3,544.3 317.6,543.8 319.6,540.5 316.8,534.9 311.5,532.4 311.6,530.0 308.2,526.2 303.4,527.9 300.9,524.2ZM87.0,531.5 85.7,532.5 84.2,538.4 81.0,539.9 80.1,542.2 86.1,546.8 85.3,549.2 87.9,552.9 93.3,549.3 91.4,545.6 94.9,540.5 94.9,539.0 90.4,532.8ZM218.6,532.2 213.9,531.3 210.9,538.5 214.7,539.9 219.7,539.4 221.3,540.6 225.8,538.2 225.4,531.6 221.9,529.8ZM225.8,538.2 233.0,537.4 232.6,534.1 225.4,531.6ZM234.7,542.9 233.1,544.2 231.0,551.0 228.0,551.5 226.8,557.9 230.0,559.2 234.1,557.2 236.5,558.7 241.4,555.0 239.5,547.2ZM364.4,534.2 361.8,531.9 357.8,533.5 356.0,531.4 349.4,534.4 350.2,538.3 346.9,539.6 346.3,544.1 343.9,548.0 344.5,550.3 346.1,551.0 358.2,550.5 360.0,552.8 366.4,550.2 364.3,545.8 366.7,542.8 366.7,541.3 363.7,538.7ZM381.1,538.7 378.1,536.5 377.6,534.3 383.8,531.5 386.2,534.0 386.2,536.2ZM185.0,543.7 189.4,547.0 189.6,548.1 186.4,553.3 186.6,555.1 190.0,557.8 193.7,556.8 196.4,551.2 198.4,549.5 197.2,544.0 192.6,543.6 191.3,540.0 188.4,538.4 187.3,539.2ZM261.9,541.5 267.1,545.6 264.7,550.5 261.5,549.7 257.1,551.6 256.7,555.2 260.3,558.2 261.0,561.6 262.2,562.9 266.8,562.0 268.4,556.6 274.3,558.3 276.1,556.2 276.2,552.1 279.0,550.7 281.3,544.9 279.5,543.4 278.0,540.4 273.3,539.0 271.0,540.0 267.9,538.1 261.9,540.1ZM323.8,540.0 319.6,540.5 317.6,543.8 315.3,544.3 314.3,548.7 319.3,552.7 321.1,549.8 328.8,550.8 327.8,544.2ZM94.9,540.5 91.4,545.6 93.3,549.3 95.0,549.8 97.6,548.7 101.3,551.1 106.2,549.5 105.8,547.6 101.6,544.5 98.4,545.8ZM117.4,557.1 114.5,552.5 110.6,551.4 109.4,551.9 108.4,556.1 112.8,559.2ZM119.2,545.4 118.3,550.2 121.4,553.4 121.9,556.9 123.7,557.6 127.4,555.8 130.0,550.8 125.0,548.2 122.9,545.1ZM185.0,543.7 182.7,544.1 181.5,549.7 186.4,553.3 189.6,548.1 189.4,547.0ZM177.1,555.6 178.1,550.8 174.5,547.5 170.5,550.1 169.7,551.4 173.8,555.9ZM121.4,553.4 118.3,550.2 114.5,552.5 117.4,557.1 112.8,559.2 108.4,556.1 106.1,558.2 105.9,561.2 111.1,564.6 109.1,569.2 111.9,570.9 116.5,569.0 119.8,570.5 120.4,572.5 122.8,573.6 128.5,572.2 128.4,568.9 130.0,567.5 132.5,562.6 132.3,559.9 127.4,555.8 123.7,557.6 121.9,556.9ZM169.7,551.4 165.8,552.9 165.4,555.3 160.2,558.8 160.0,562.5 157.0,567.5 156.5,574.1 163.4,573.5 164.4,570.9 170.3,571.1 170.7,570.6 169.3,561.2 173.8,555.9ZM181.5,549.7 178.1,550.8 177.1,555.6 173.8,555.9 169.3,561.2 170.7,570.6 177.5,569.7 179.3,567.9 184.0,569.9 187.2,568.8 194.8,567.7 194.0,564.7 189.7,560.5 190.0,557.8 186.6,555.1 186.4,553.3ZM198.4,549.5 196.4,551.2 193.7,556.8 195.7,558.2 202.0,557.7 202.2,563.1 208.5,563.2 209.6,569.0 214.9,569.6 216.9,562.8 209.3,561.8 209.2,557.2 206.2,555.4 206.6,550.6 204.3,547.8ZM248.8,550.8 248.0,556.4 245.4,557.6 244.3,562.4 237.0,561.8 235.7,564.0 235.5,568.3 240.4,568.5 244.9,572.8 245.3,575.9 249.8,578.1 250.8,581.2 257.8,580.5 256.2,576.5 257.5,572.7 257.1,570.4 261.6,568.1 262.2,562.9 261.0,561.6 260.3,558.2 256.7,555.2 257.1,551.6 252.5,547.3ZM284.4,553.8 279.0,550.7 276.2,552.1 276.1,556.2 282.2,558.7 282.2,560.0 283.3,561.6 282.0,573.9 284.4,574.9 288.1,573.5 292.7,574.8 293.6,574.3 294.4,569.9 298.3,567.1 298.5,565.7 301.8,561.1 301.1,557.7 304.8,553.3 301.9,549.9 297.6,548.9 295.2,547.2 292.4,552.1 286.9,549.2ZM341.7,559.9 342.2,561.6 348.8,562.5 350.0,561.8 353.2,557.9 351.4,550.3 346.1,551.0 344.5,550.3 340.2,552.7 339.4,556.8ZM189.7,560.5 194.0,564.7 194.8,567.7 187.2,568.8 184.0,569.9 183.8,573.6 186.8,579.2 186.6,580.1 190.4,583.3 193.8,581.3 194.0,575.6 195.1,575.1 196.6,568.5 199.9,567.8 203.1,570.7 202.8,574.8 207.8,578.0 209.3,576.9 214.9,577.3 217.5,574.7 214.9,569.6 209.6,569.0 208.5,563.2 202.2,563.1 202.0,557.7 195.7,558.2 193.7,556.8 190.0,557.8ZM236.5,558.7 234.1,557.2 230.0,559.2 226.8,557.9 220.2,562.2 217.9,561.9 216.9,562.8 214.9,569.6 217.5,574.7 224.6,572.6 227.4,576.7 232.8,575.9 236.1,579.2 239.2,574.5 244.8,573.6 244.9,572.8 240.4,568.5 235.5,568.3 235.7,564.0 237.0,561.8ZM282.2,558.7 276.1,556.2 274.3,558.3 274.3,559.9 277.4,563.9 277.4,565.8 273.3,569.4 274.8,573.1 278.7,575.2 282.0,573.9 283.3,561.6 282.2,560.0ZM102.6,567.3 106.8,569.7 109.1,569.2 111.1,564.6 105.9,561.2 102.8,564.9ZM102.5,581.4 98.9,584.8 98.9,586.1 103.0,588.4 106.9,584.9 107.6,582.5ZM137.4,567.2 137.1,564.5 132.5,562.6 130.0,567.5 128.4,568.9 128.5,572.2 133.0,573.1 134.7,569.2ZM152.1,568.3 148.4,571.6 148.6,573.5 145.0,576.5 145.6,581.6 140.0,583.0 140.2,588.1 142.8,588.3 146.6,592.8 147.8,593.0 151.1,590.1 154.3,591.6 156.5,591.5 160.0,587.9 164.3,587.6 161.0,580.4 157.3,580.1 155.7,575.1 156.5,574.1 157.0,567.5ZM186.6,580.1 186.8,579.2 183.8,573.6 184.0,569.9 179.3,567.9 177.5,569.7 170.3,571.1 164.4,570.9 163.4,573.5 156.5,574.1 155.7,575.1 157.3,580.1 161.0,580.4 164.3,587.6 164.1,593.6 167.5,595.2 173.1,593.8 172.2,589.4 167.8,586.3 170.1,580.8 176.6,581.1 177.2,585.6 179.8,587.5 183.2,586.6 184.8,581.0ZM294.4,569.9 291.5,579.9 293.5,582.9 297.9,581.2 301.6,584.0 306.4,580.4 308.9,581.9 308.6,584.6 312.4,590.2 314.9,584.2 312.9,581.4 316.5,574.5 316.0,571.1 312.9,567.9 308.2,570.4 306.0,569.9 302.8,571.4 298.3,567.1ZM316.0,571.1 316.5,574.5 312.9,581.4 314.9,584.2 319.6,586.4 321.8,585.8 322.7,581.7 328.7,575.0 329.4,571.3 325.1,567.1 322.4,568.9 319.3,568.9ZM218.0,574.8 224.6,572.6 227.4,576.7 226.1,580.5 221.3,580.3ZM239.2,574.5 236.1,579.2 236.4,580.0 242.8,579.9 244.7,583.6 244.5,585.2 240.9,587.2 240.4,588.5 242.0,591.3 238.8,598.2 243.4,598.1 248.6,602.4 251.9,598.0 251.2,594.7 247.8,592.6 248.2,588.5 251.7,586.3 249.8,578.1 245.3,575.9 244.8,573.6ZM288.1,573.5 284.4,574.9 286.0,580.8 279.1,582.4 279.9,585.4 277.5,589.2 278.0,592.8 273.2,594.6 272.7,596.0 274.8,601.9 279.5,598.2 283.3,600.3 285.8,596.0 290.7,591.7 290.3,588.8 293.0,586.2 293.5,582.9 291.5,579.9 292.7,574.8ZM93.0,580.3 89.7,579.3 85.6,581.7 82.0,579.1 78.4,584.8 79.1,587.3 72.7,589.6 70.6,593.6 81.1,593.2 81.8,593.8 88.8,591.6 85.7,586.3 86.4,585.4 90.5,585.0ZM103.0,588.4 98.9,586.1 98.9,584.8 94.1,579.9 93.0,580.3 90.5,585.0 86.4,585.4 85.7,586.3 88.8,591.6 81.8,593.8 83.5,597.6 89.5,599.6 93.9,600.2 98.5,595.9 102.6,601.0 104.2,599.4 106.3,593.1 105.1,592.5ZM116.9,579.3 113.0,581.6 110.6,580.6 107.6,582.5 106.9,584.9 103.0,588.4 105.1,592.5 106.3,593.1 104.2,599.4 111.0,600.1 111.6,599.0 117.6,600.7 126.4,597.6 126.5,593.5 123.5,590.8 123.3,589.1 118.5,587.6 121.3,581.3ZM124.1,581.2 121.3,581.3 118.5,587.6 123.3,589.1 125.9,586.2ZM136.7,590.5 136.5,591.5 140.2,595.2 146.6,592.8 142.8,588.3 140.2,588.1 140.0,583.0 135.5,580.2 134.0,581.3 132.9,584.7ZM190.4,583.3 186.6,580.1 184.8,581.0 183.2,586.6 187.0,589.6 186.6,591.1 190.7,596.0 190.2,597.6 192.6,601.3 198.2,597.4 194.0,593.7 194.5,592.1 192.1,587.7 190.9,587.1ZM198.6,582.6 193.8,581.3 190.4,583.3 190.9,587.1 192.1,587.7 194.5,592.1 194.0,593.7 198.2,597.4 202.2,598.2 202.8,592.6 199.4,590.5 198.9,587.2 197.9,585.5ZM257.8,580.5 250.8,581.2 251.7,586.3 248.2,588.5 247.8,592.6 251.2,594.7 251.9,598.0 256.4,600.0 254.4,606.4 260.9,606.9 262.0,605.8 264.5,605.9 268.3,602.3 267.6,599.1 265.6,594.9 260.9,594.0 263.8,588.9 259.7,583.4 259.9,582.2ZM306.4,580.4 301.6,584.0 297.9,581.2 293.5,582.9 293.0,586.2 290.3,588.8 290.7,591.7 285.8,596.0 283.3,600.3 283.7,604.5 285.8,605.2 290.3,604.0 292.2,600.6 293.5,599.7 298.4,601.5 302.0,596.6 304.8,598.0 309.4,597.3 309.3,592.0 312.4,590.2 308.6,584.6 308.9,581.9ZM319.6,586.4 314.9,584.2 312.4,590.7 309.3,592.0 309.4,597.3 312.6,599.9 314.0,598.5 321.4,597.6 321.2,594.7 316.7,591.9ZM325.9,590.1 321.2,594.7 316.7,591.9 319.6,586.4 321.8,585.8ZM74.6,599.6 81.4,600.7 83.5,597.6 81.8,593.8 81.1,593.2 70.6,593.6 71.6,598.6 73.1,600.1ZM140.2,600.0 140.2,595.2 146.6,592.8 147.8,593.0 148.8,599.2 143.9,602.5ZM210.3,599.2 207.0,600.8 210.3,611.1 216.6,610.3 218.1,605.3 216.0,603.6 214.6,600.8ZM240.3,603.5 238.8,598.2 233.6,600.3 225.5,597.7 223.0,599.9 218.1,597.7 214.6,600.8 216.0,603.6 218.1,605.3 216.6,610.3 224.9,617.4 225.2,619.3 232.3,618.6 233.7,616.9 232.5,613.5 236.7,609.7 240.2,611.6 243.3,609.8 244.3,606.5ZM244.3,606.5 243.3,609.8 247.8,613.4 252.4,609.8 254.9,612.7 260.8,613.0 260.9,606.9 254.4,606.4 256.4,600.0 251.9,598.0 248.6,602.4 243.4,598.1 239.4,598.6 240.3,603.5ZM267.6,599.1 268.3,602.3 264.5,605.9 262.0,605.8 260.9,606.9 260.8,613.0 262.1,614.5 263.6,614.4 268.1,619.3 271.7,616.1 275.2,617.4 277.6,615.4 278.2,611.6 279.8,610.0 280.9,606.3 283.7,604.5 283.3,600.3 279.5,598.2 274.8,601.9 272.7,596.0ZM216.6,610.3 210.3,611.1 207.5,615.9 211.2,620.0 211.8,623.6 219.0,623.4 224.3,622.2 225.2,619.3 224.9,617.4ZM262.1,614.5 260.0,620.3 260.1,622.0 263.1,624.2 267.6,622.3 272.1,624.2 275.3,621.9 275.2,617.4 271.7,616.1 268.1,619.3 263.6,614.4ZM218.9,631.4 224.2,631.2 226.9,626.1 224.3,622.2 219.0,623.4Z"/>
<path id="py" d="M130.2,45.1 130.0,44.1 135.2,39.6 138.2,42.1 138.8,46.5 133.7,47.8ZM171.9,72.2 169.1,72.2 164.9,70.3 160.2,73.5 160.7,76.3 156.1,79.4 153.3,79.2 150.9,81.2 150.4,82.7 152.0,84.3 160.3,85.1 162.4,83.9 166.9,85.8 167.4,89.6 164.9,93.9 165.1,95.7 167.5,97.1 173.1,96.1 172.8,91.3 175.4,89.1 179.7,89.7 181.6,87.2 181.7,85.0 177.6,81.1 177.1,78.7 181.5,75.0 177.2,69.6ZM166.9,85.8 162.4,83.9 160.3,85.1 152.0,84.3 153.8,89.7 149.6,93.1 149.7,95.9 153.4,97.4 159.5,107.3 164.4,106.4 168.6,101.9 173.3,103.2 174.4,102.5 173.5,96.4 167.5,97.1 165.1,95.7 164.9,93.9 167.4,89.6ZM364.5,97.4 364.2,98.2 366.7,104.8 364.2,107.6 366.0,113.2 367.0,118.8 371.2,120.6 373.9,119.4 379.0,123.1 382.5,117.7 382.9,115.0 384.8,114.1 386.8,110.2 387.4,103.4 384.4,102.0 380.1,103.8 378.0,102.5 374.2,102.9 372.4,101.8 371.5,98.1 367.8,96.5ZM168.6,101.9 164.4,106.4 167.7,109.3 172.0,108.7 173.3,103.2ZM180.8,114.1 175.6,112.1 172.1,116.8 171.7,120.0 176.5,122.3 180.3,119.0ZM217.1,125.0 216.7,120.9 214.9,119.6 204.0,123.3 203.8,124.4 200.9,127.2 200.0,131.5 203.6,133.7 204.7,137.3 212.0,137.6 210.8,132.2 214.5,129.8 214.9,127.9ZM316.7,134.9 317.0,136.0 320.1,138.8 320.4,144.1 326.5,143.6 327.3,138.5 328.9,137.6 334.7,139.5 337.1,137.9 338.2,138.4 343.1,137.1 345.1,138.6 350.2,136.1 350.3,135.0 346.0,130.8 346.2,128.4 343.8,126.4 343.2,122.5 340.6,121.1 336.1,123.3 332.5,118.4 329.6,120.3 327.2,120.2 323.9,122.3 318.6,118.2 315.0,120.9 315.1,125.6 316.9,126.7 318.7,132.4ZM309.8,133.2 316.7,134.9 318.7,132.4 316.9,126.7 315.1,125.6 313.5,126.7ZM320.1,138.8 317.0,136.0 313.7,141.3 315.9,145.6 320.2,144.0ZM346.0,130.8 346.2,128.4 350.9,125.9 353.8,128.6 354.3,132.6 350.3,135.0ZM203.6,133.7 200.0,131.5 195.7,132.4 197.9,140.3 204.1,136.7ZM205.7,143.6 207.8,144.4 212.5,141.4 213.5,138.9 212.0,137.6 204.7,137.3ZM212.0,137.6 210.8,132.2 214.5,129.8 217.6,133.5 215.5,138.4 213.5,138.9ZM350.2,136.1 345.1,138.6 345.9,143.6 351.9,142.8 352.0,139.6ZM147.3,160.1 147.8,158.7 151.0,157.3 153.6,158.5 155.0,162.7 151.9,166.9ZM149.0,169.1 151.7,166.9 147.3,160.1 144.4,162.2 139.2,160.6 136.7,165.5 136.9,166.3 141.6,169.0 144.5,167.7ZM182.3,170.6 182.3,171.6 187.9,175.1 191.0,168.4 187.8,166.5ZM180.7,173.9 181.0,180.3 175.4,181.4 174.7,185.5 172.8,187.4 173.1,190.3 182.0,196.8 183.1,196.7 188.6,200.1 191.0,199.5 191.7,192.8 193.3,192.0 192.5,186.9 190.9,185.6 190.6,183.2 193.4,181.5 192.1,176.4 188.4,175.9 182.3,171.6ZM311.7,189.4 311.2,193.2 314.4,195.2 320.6,191.8 319.6,188.1 317.4,186.6ZM314.7,196.9 312.9,200.7 313.8,204.9 309.0,207.7 314.0,213.6 318.8,210.8 315.4,205.3 321.0,201.2ZM320.6,191.8 314.4,195.2 314.7,196.9 321.0,201.2 315.4,205.3 318.8,210.8 323.3,210.0 324.6,211.4 331.3,210.7 332.3,205.2 331.8,204.5 332.2,199.6 329.8,197.5 329.4,195.8 325.2,192.3 322.1,192.7ZM400.4,210.5 402.2,207.2 404.0,206.2 405.7,206.3 407.4,212.1 402.3,213.2ZM82.5,214.0 76.7,217.8 74.2,216.3 73.2,211.7 77.4,208.8ZM321.9,218.8 320.1,218.7 318.2,211.6 318.8,210.8 323.3,210.0 324.6,211.4 325.5,217.4ZM402.2,217.8 402.3,213.2 400.4,210.5 394.9,210.8 394.4,210.2 388.5,210.8 387.3,210.3 382.2,214.6 382.3,216.8 380.2,217.9 377.8,223.7 374.4,224.8 374.4,230.0 379.2,231.2 380.1,234.7 383.1,235.6 385.5,234.4 383.4,227.6 388.9,228.1 391.1,223.7 396.3,225.4 397.2,224.3 398.1,219.3ZM408.1,212.5 402.3,213.2 402.2,217.8 405.0,219.5 406.1,222.2 410.6,224.7 412.3,223.0 420.9,222.3 420.6,218.1 416.0,214.9 413.1,208.9ZM405.0,219.5 402.2,217.8 398.1,219.3 397.2,224.3 396.3,225.4 391.1,223.7 388.9,228.1 383.4,227.6 385.5,234.4 383.1,235.6 380.1,234.7 375.4,238.1 379.7,242.9 382.5,241.4 385.5,241.9 387.4,248.0 391.3,246.4 391.4,243.5 387.2,241.0 389.8,235.4 392.0,234.7 392.5,233.3 396.4,229.8 403.3,228.3 403.1,225.1 406.1,222.2ZM67.8,223.8 69.4,228.2 63.5,230.8 61.1,227.2 61.2,225.1 64.2,222.9ZM81.0,240.4 84.8,242.9 85.1,247.9 81.7,248.6 77.9,247.0 78.4,241.9ZM100.0,244.6 95.0,240.7 92.7,242.0 91.2,248.1 94.9,249.5 100.4,246.0ZM200.1,237.7 195.6,243.8 192.5,242.5 186.9,246.8 194.6,249.1 194.2,252.0 195.8,253.0 198.0,260.2 202.3,257.7 202.5,255.4 206.8,252.2 204.1,246.7 203.8,242.2ZM382.5,241.4 379.7,242.9 378.8,246.8 381.3,249.6 387.4,248.0 385.5,241.9ZM391.0,259.8 388.3,260.9 388.6,263.5 391.5,266.5 394.1,266.5 397.7,260.0ZM373.6,267.0 371.1,271.3 373.5,272.5 379.6,271.5 378.8,267.2ZM189.0,256.2 189.1,254.5 194.2,252.0 195.8,253.0 197.6,260.1 193.3,260.7ZM212.5,253.0 210.5,253.7 206.8,252.2 202.5,255.4 202.3,257.7 207.3,260.9 206.9,263.8 210.2,267.0 210.8,271.9 212.1,272.7 212.6,276.7 215.6,279.4 221.4,276.3 223.7,277.9 227.4,276.0 228.4,274.4 223.4,268.7 218.5,266.5 217.9,265.0 220.2,260.5 216.5,257.1 215.6,253.9ZM79.9,260.4 76.6,258.5 73.7,259.7 72.6,264.5 76.9,268.2 81.0,266.1 84.3,271.8 87.7,271.6 91.1,267.9 91.0,266.5 87.5,264.0 87.9,258.9 85.5,256.6ZM92.6,258.5 87.9,258.9 87.5,264.0 91.0,266.5 93.6,263.7 94.9,260.4ZM142.1,259.2 137.5,260.3 137.8,263.4 139.7,268.5 146.7,265.8 147.8,266.2 149.9,264.7 151.8,259.9 149.3,256.8 142.7,258.4ZM297.8,261.8 296.3,260.5 291.2,261.2 288.4,265.0 288.5,272.3 284.1,273.4 283.0,278.0 288.5,280.7 292.5,277.7 291.7,273.8 295.5,270.8 294.7,267.1ZM324.9,260.5 322.8,259.3 319.0,258.9 317.5,264.1 315.5,265.1 315.7,270.4 319.3,271.9 322.4,270.3 326.7,271.4 329.1,270.1 329.8,268.7 324.7,262.5ZM407.2,270.9 407.2,266.7 402.7,265.0 401.5,261.4 398.0,259.8 394.1,266.5 391.5,266.5 389.8,271.6 385.3,271.8 381.9,275.0 381.5,277.1 387.4,279.7 393.5,279.8 395.1,283.1 396.4,284.2 400.2,281.6 403.4,283.4 405.9,282.6 407.1,278.5 403.9,275.6 403.6,274.5ZM76.9,268.2 74.7,272.4 73.9,278.3 76.8,280.3 82.0,277.9 81.8,275.3 84.3,271.8 81.0,266.1ZM132.4,268.4 137.8,263.4 139.7,268.5 138.6,270.8 132.6,269.2ZM156.8,270.4 155.3,266.5 149.9,264.7 147.8,266.2 146.7,265.8 139.7,268.5 138.6,270.8 139.0,271.9 135.9,276.7 142.0,280.1 142.1,282.7 147.2,282.7 149.9,285.4 154.9,279.9 157.7,277.9 155.9,271.6ZM223.4,268.7 228.4,274.4 231.5,272.5 231.3,268.8 226.4,266.0ZM234.4,289.5 234.5,284.8 231.9,282.2 228.6,283.8 228.8,288.8 233.6,290.1ZM129.1,273.7 129.5,276.2 134.0,277.8 135.9,276.7 139.0,271.9 138.6,270.8 132.6,269.2ZM315.7,270.4 319.3,271.9 319.2,276.9 316.2,278.1 313.6,277.4 312.8,271.9ZM332.6,278.8 332.6,273.7 329.1,270.1 326.7,271.4 322.4,270.3 319.3,271.9 319.2,276.9 323.0,279.7 326.0,277.5 330.4,279.3ZM381.9,275.0 379.6,271.5 373.5,272.5 371.1,271.3 368.5,272.7 368.1,277.1 370.4,279.3 377.3,276.8 380.9,277.6ZM142.0,280.1 135.9,276.7 134.0,277.8 134.7,281.4 136.9,283.9 135.2,287.8 141.5,291.7 143.1,289.9 148.8,289.8 150.1,288.7 149.9,285.4 147.2,282.7 142.1,282.7ZM109.4,288.4 109.0,285.5 106.0,283.6 101.8,284.7 101.4,288.2 105.3,294.1ZM154.9,280.4 149.9,285.4 150.1,288.7 154.7,289.7 158.3,287.0ZM69.7,295.9 68.8,294.6 69.7,289.8 75.6,289.8 75.7,293.1 72.3,295.8ZM140.9,293.6 142.7,296.0 143.4,301.5 149.0,301.4 151.0,298.4 156.0,294.0 154.7,289.7 150.1,288.7 148.8,289.8 143.1,289.9 141.5,291.7ZM434.5,291.5 438.1,296.7 438.4,301.0 443.1,303.4 444.6,302.1 449.2,301.4 451.8,297.9 451.9,297.1 449.8,295.7 448.7,291.9 444.0,290.2 442.5,291.1 437.9,287.0ZM358.8,305.3 358.7,303.3 356.1,302.2 351.2,303.6 350.9,306.6 354.8,309.3ZM362.4,301.2 358.7,303.3 358.8,305.3 354.8,309.3 356.7,315.2 359.9,313.8 365.2,314.7 367.3,312.2 368.9,308.4 373.5,309.1 377.8,306.5 377.5,304.3 374.0,300.0 370.2,302.5 366.4,300.0ZM435.5,304.8 439.9,309.8 444.0,306.4 443.1,303.4 438.4,301.0ZM444.6,302.1 443.1,303.4 444.0,306.4 447.7,308.6 448.9,308.6 449.8,307.8 449.2,301.4ZM99.2,308.0 96.0,311.5 98.6,316.0 98.6,318.4 103.0,321.8 106.2,318.9 105.8,315.1 102.9,313.7ZM128.9,313.0 129.2,308.7 128.1,308.0 123.4,310.7 122.5,312.6 119.6,314.9 116.6,313.2 114.1,313.9 111.9,318.5 115.6,322.8 120.0,316.7 124.8,320.2 128.1,320.3 127.6,315.3ZM136.9,313.6 136.5,310.7 134.3,309.0 129.2,308.7 128.9,313.0 127.6,315.3 128.1,320.3 130.7,321.4 134.2,315.9ZM401.6,311.4 398.4,317.6 402.5,320.7 402.9,325.0 405.9,326.8 410.2,325.3 413.6,326.3 415.7,325.3 418.6,326.6 423.3,325.0 421.9,320.0 419.4,318.6 418.9,316.0 416.0,313.7 416.4,309.0 413.9,306.2 407.7,309.6 405.7,308.5ZM91.8,319.8 98.6,318.4 98.6,316.0 96.0,311.5 90.9,316.2ZM253.0,316.6 248.4,322.8 248.3,324.0 252.9,325.8 255.9,323.0ZM263.6,326.9 264.3,323.1 259.6,321.5 255.9,323.0 255.6,323.8 259.7,327.8 257.2,331.4 261.8,334.5 265.6,332.0ZM203.4,327.7 196.2,326.3 196.0,331.6 199.7,333.0 201.7,337.3 204.2,338.7 206.3,337.7 207.4,332.5 204.2,329.8ZM245.1,326.8 247.8,331.8 247.3,337.3 251.7,339.7 252.6,343.9 257.3,343.3 261.0,338.9 261.8,334.5 257.2,331.4 259.7,327.8 255.6,323.8 252.9,325.8 248.3,324.0ZM425.0,330.8 425.7,326.2 423.3,325.0 418.6,326.6 420.0,331.2ZM189.4,331.2 183.5,330.5 182.7,331.6 186.3,338.7 187.2,339.1 192.3,336.9 193.8,338.3 195.6,342.7 201.1,344.6 204.2,338.7 201.7,337.3 199.7,333.0 196.0,331.6 192.6,335.5ZM345.4,332.2 345.3,336.8 343.1,340.4 343.6,343.3 346.5,344.7 348.0,349.9 355.1,348.9 356.1,344.9 357.2,344.1 356.6,340.0 360.6,334.7 357.7,331.9 352.9,331.8 350.8,330.1ZM19.1,347.5 19.0,349.1 21.6,350.5 24.9,349.0 29.3,351.0 31.4,349.1 37.3,351.1 39.1,349.4 38.0,344.7 35.5,341.9 31.0,344.1 27.0,343.6 23.6,342.4ZM37.3,351.1 31.4,349.1 29.3,351.0 24.9,349.0 21.6,350.5 23.2,356.6 24.6,357.5 29.1,357.0 31.9,361.9 35.4,362.6 39.4,359.3 36.6,354.0ZM290.7,347.6 289.0,350.3 281.9,350.6 281.1,354.1 278.1,356.3 278.3,360.3 279.0,360.9 285.0,361.7 287.2,365.1 291.6,363.1 292.3,361.6 292.6,357.3 291.9,356.5 296.1,350.4ZM301.6,354.1 301.2,351.9 299.7,350.6 296.1,350.4 291.9,356.5 292.6,357.3 298.9,356.7ZM309.3,363.0 305.1,362.8 301.2,365.6 300.5,368.1 298.3,369.6 298.1,373.8 302.1,378.3 306.5,375.4 310.2,375.4 311.5,374.1 311.5,370.4 310.5,369.3ZM362.1,358.0 357.1,354.7 353.2,357.2 347.4,359.4 347.0,360.4 351.2,365.0 351.2,367.8 346.7,369.0 345.4,372.6 350.9,377.2 354.4,375.0 356.4,375.2 360.4,372.4 360.8,369.5 365.0,367.4 364.8,364.4 362.0,360.1ZM68.1,369.1 63.5,367.7 62.0,368.3 61.2,372.6 64.5,374.9 65.6,374.3 71.2,376.4 73.0,372.4 68.5,370.2ZM250.5,369.0 248.6,374.8 245.5,375.7 244.9,378.5 249.9,382.6 253.6,382.3 252.0,376.1 255.5,374.2 255.1,368.6 252.8,366.6ZM71.2,376.4 65.6,374.3 64.5,374.9 64.3,379.5 66.1,380.6 71.5,379.9ZM235.7,372.4 231.4,375.5 231.9,379.5 234.9,381.9 235.5,385.6 240.7,387.9 243.0,386.7 243.3,380.3 244.9,378.5 245.3,376.0 238.3,375.2ZM302.1,378.3 306.5,375.4 310.2,375.4 310.2,378.8 306.1,383.6 302.0,380.7ZM354.4,375.0 356.4,375.2 358.3,380.2 353.7,381.6 350.4,379.5 350.9,377.2ZM235.5,385.6 231.3,389.3 231.6,392.3 235.6,395.3 235.9,397.0 240.0,400.0 242.7,399.6 243.8,395.0 247.3,393.7 247.5,388.9 246.2,387.5 243.0,386.7 240.7,387.9ZM301.4,390.3 297.0,386.0 294.4,387.2 292.8,390.8 288.9,392.5 286.5,392.8 285.7,398.4 287.7,400.1 292.9,398.8 295.5,399.6 297.4,398.3 297.4,395.6ZM274.3,436.3 273.4,436.8 269.4,435.4 266.9,436.0 266.6,439.8 268.2,445.5 266.7,447.0 265.2,452.4 272.6,459.2 279.0,457.3 282.6,451.9 287.1,453.8 288.7,453.4 288.3,446.6 283.5,445.4 280.5,442.3 280.4,438.0ZM287.5,436.4 284.3,435.5 280.4,438.0 280.5,442.3 283.2,444.7 287.5,437.5ZM135.6,458.8 136.9,453.0 133.9,450.6 128.6,454.2 131.2,458.8 133.3,459.4ZM265.2,452.4 260.0,454.3 261.8,459.8 265.1,459.8 269.6,456.6ZM279.0,456.6 282.6,451.9 287.1,453.8 284.0,458.1 279.4,457.8ZM30.1,463.1 24.6,467.3 25.4,469.5 27.4,471.5 30.6,471.0 33.7,471.9 38.3,468.9 35.1,464.5ZM266.9,486.8 265.1,486.6 262.7,488.6 257.0,489.4 255.8,490.7 255.8,491.9 261.0,495.8 261.0,500.7 265.1,502.0 267.5,500.7 271.6,500.8 275.5,496.6 276.8,496.2 276.5,489.3 269.0,491.8ZM265.1,502.0 261.0,500.7 256.2,503.1 256.9,506.6 254.1,510.1 253.9,514.2 254.9,519.7 258.1,521.1 262.3,518.2 263.6,518.3 267.2,523.2 270.2,522.0 274.6,522.8 276.8,518.7 274.6,514.8 275.8,508.1 275.5,505.7 271.6,500.8 267.5,500.7ZM165.4,520.6 160.0,521.8 161.6,526.6 159.1,529.0 160.2,533.9 164.9,539.5 168.7,538.2 168.9,533.5 170.8,532.2 176.2,535.9 179.6,528.4 174.5,526.2 171.4,528.5 166.4,525.6 166.6,521.5ZM258.9,535.8 259.3,537.5 261.9,540.1 267.9,538.1 267.6,533.7 263.8,532.7 262.8,527.3 258.8,526.9 256.7,533.1ZM176.6,536.9 176.2,535.9 170.8,532.2 168.9,533.5 168.7,538.2 164.9,539.5 163.8,544.2 163.1,544.6 163.9,551.2 165.8,552.9 169.7,551.4 170.5,550.1 174.5,547.5 174.7,545.2 172.9,541.7ZM342.7,539.2 341.7,531.8 340.0,531.1 336.1,532.9 335.5,534.0 337.3,540.1 339.4,541.5ZM327.0,542.8 327.8,544.2 331.3,544.0 335.0,540.6 330.1,537.9ZM161.1,534.6 158.1,540.1 160.7,544.1 163.1,544.6 163.8,544.2 164.9,539.5ZM261.9,540.1 259.3,537.5 256.2,539.5 252.4,546.0 252.5,547.3 257.1,551.6 261.5,549.7 264.7,550.5 267.1,545.6 261.9,541.5ZM331.3,544.0 327.8,544.2 328.8,550.8 331.9,551.9 332.6,555.9 330.0,560.7 333.5,563.1 331.6,569.9 337.3,570.9 340.1,566.6 344.7,569.3 346.8,568.6 348.8,562.5 342.2,561.6 341.7,559.9 339.4,556.8 340.2,552.7 344.5,550.3 343.9,548.0 339.5,543.1 339.4,541.5 337.3,540.1 335.0,540.6ZM143.5,555.5 142.2,551.0 139.4,549.4 135.0,552.0 130.0,550.8 127.4,555.8 132.3,559.9 132.5,562.6 137.1,564.5 139.4,562.6 139.3,558.2ZM268.4,556.6 266.8,562.0 262.2,562.9 261.6,568.1 265.9,570.7 265.4,575.8 270.4,577.7 274.8,573.1 273.3,569.4 277.4,565.8 277.4,563.9 274.3,559.9 274.3,558.3ZM364.1,574.2 364.9,568.1 361.9,567.5 357.1,571.8 354.0,565.5 350.0,561.8 348.8,562.5 346.8,568.6 344.7,569.3 343.5,574.5 348.2,576.2 349.0,579.8 354.2,580.7 356.0,582.7 361.4,580.6 360.7,575.5ZM343.5,574.5 344.7,569.3 340.1,566.6 337.3,570.9 331.6,569.9 329.4,571.3 328.7,575.0 332.7,576.8 334.1,582.2 337.2,583.0 340.3,579.9 340.0,576.2ZM278.7,575.2 278.1,581.5 274.5,582.3 271.2,580.8 270.4,577.7 274.8,573.1ZM343.5,574.5 340.0,576.2 340.3,579.9 337.2,583.0 337.7,586.7 339.7,590.1 345.1,587.2 348.8,593.1 352.6,591.9 353.5,588.0 356.1,586.0 356.0,582.7 354.2,580.7 349.0,579.8 348.2,576.2ZM170.1,580.8 167.8,586.3 172.2,589.4 177.2,585.6 176.6,581.1ZM236.4,580.0 233.5,583.7 233.3,587.6 235.3,590.4 235.0,592.1 231.7,593.7 230.9,599.0 233.6,600.3 238.8,598.2 242.0,591.3 240.4,588.5 240.9,587.2 244.5,585.2 244.7,583.6 242.8,579.9ZM361.4,580.6 362.7,581.3 364.7,587.2 361.0,589.2 356.1,586.0 356.0,582.7ZM187.0,589.6 183.2,586.6 179.8,587.5 177.2,585.6 172.2,589.4 173.1,593.8 174.7,595.1 179.7,599.0 184.5,599.3 190.2,597.6 190.7,596.0 186.6,591.1ZM174.7,595.1 172.3,601.9 167.5,600.5 167.5,595.2 173.1,593.8Z"/>
<g id="fc"><circle r="4.1" fill="#ffe9e4" stroke="#f7a57e" stroke-width="0.8"/><circle cx="-1.35" cy="-0.6" r="0.7" fill="#d8708e"/><circle cx="1.35" cy="-0.6" r="0.7" fill="#d8708e"/><path d="M-1.9,1.1 Q0,2.7 1.9,1.1" fill="none" stroke="#e88a78" stroke-width="0.6"/></g>
<linearGradient id="bg" x1="0" y1="0" x2="0" y2="1"><stop offset="0" stop-color="#2f86c0"/><stop offset="0.45" stop-color="#1b4f8f"/><stop offset="1" stop-color="#0e2458"/></linearGradient>
<g id="bq"><rect x="-4.4" y="-4.4" width="8.8" height="8.8" fill="url(#bg)"/><path d="M-2.6,2.6 L2.2,-2" stroke="#eaf6ff" stroke-width="1.7" stroke-linecap="round"/></g>
</defs>
<!-- left map -->
<g id="mapL" transform="translate(0 160)" stroke-linejoin="round">
<use href="#pw" fill="#ffffff" stroke="#d43a50" stroke-width="0.6"/>
<use href="#po" fill="#ff7b10" stroke="#ee5a06" stroke-width="0.7"/>
<use href="#py" fill="#f8f10c" stroke="#e0c000" stroke-width="0.6"/>
<use href="#pl" fill="none" stroke="#c8283c" stroke-width="0.75"/>
<use href="#fc" x="222.3" y="478.5"/><use href="#fc" x="364.3" y="540.1"/><use href="#fc" x="165.4" y="210.4"/><use href="#fc" x="192.8" y="559.7"/><use href="#fc" x="192.2" y="236.6"/><use href="#fc" x="387.2" y="504.6"/><use href="#fc" x="313.3" y="535.2"/><use href="#fc" x="217.3" y="411.1"/><use href="#fc" x="176.5" y="111.6"/><use href="#fc" x="352.4" y="577.7"/><use href="#fc" x="311.1" y="459.4"/><use href="#fc" x="153.1" y="375.1"/><use href="#fc" x="152.7" y="143.9"/><use href="#fc" x="301.0" y="544.9"/><use href="#fc" x="256.2" y="601.3"/><use href="#fc" x="238.8" y="428.2"/><use href="#fc" x="214.9" y="363.4"/><use href="#fc" x="242.6" y="90.1"/><use href="#fc" x="171.7" y="30.3"/><use href="#fc" x="265.9" y="486.0"/><use href="#fc" x="368.3" y="299.8"/><use href="#fc" x="229.6" y="604.2"/><use href="#fc" x="173.1" y="163.0"/><use href="#fc" x="82.0" y="197.4"/><use href="#fc" x="31.4" y="379.3"/><use href="#fc" x="289.8" y="395.8"/><use href="#fc" x="179.7" y="441.0"/><use href="#fc" x="199.3" y="274.4"/><use href="#fc" x="364.3" y="286.4"/><use href="#fc" x="211.6" y="165.2"/><use href="#fc" x="158.6" y="424.3"/><use href="#fc" x="136.3" y="228.5"/><use href="#fc" x="241.0" y="514.1"/><use href="#fc" x="362.5" y="367.6"/><use href="#fc" x="151.0" y="587.7"/><use href="#fc" x="270.0" y="575.9"/><use href="#fc" x="134.3" y="159.1"/><use href="#fc" x="193.0" y="463.0"/><use href="#fc" x="139.8" y="260.1"/><use href="#fc" x="154.3" y="111.2"/><use href="#fc" x="47.3" y="414.7"/><use href="#fc" x="251.4" y="304.1"/><use href="#fc" x="110.7" y="196.4"/><use href="#fc" x="195.4" y="378.5"/><use href="#fc" x="75.7" y="588.4"/><use href="#fc" x="55.3" y="361.1"/><use href="#fc" x="299.8" y="576.1"/><use href="#fc" x="225.0" y="286.4"/><use href="#fc" x="321.1" y="260.9"/><use href="#fc" x="355.3" y="297.6"/><use href="#fc" x="192.9" y="392.8"/><use href="#fc" x="247.8" y="565.8"/><use href="#fc" x="276.8" y="535.6"/><use href="#fc" x="177.5" y="123.9"/><use href="#fc" x="174.8" y="419.4"/><use href="#fc" x="338.8" y="496.6"/><use href="#fc" x="133.4" y="240.3"/><use href="#fc" x="183.1" y="549.8"/><use href="#fc" x="62.9" y="232.6"/><use href="#fc" x="264.4" y="507.8"/><use href="#fc" x="313.9" y="524.0"/><use href="#fc" x="23.9" y="344.9"/><use href="#fc" x="96.9" y="537.7"/><use href="#fc" x="115.3" y="179.5"/><use href="#fc" x="206.1" y="565.5"/><use href="#fc" x="96.0" y="332.9"/><use href="#fc" x="318.4" y="134.7"/><use href="#fc" x="306.4" y="505.0"/><use href="#fc" x="220.1" y="302.2"/><use href="#fc" x="120.2" y="125.2"/><use href="#fc" x="265.7" y="132.9"/><use href="#fc" x="370.6" y="89.4"/><use href="#fc" x="237.8" y="498.8"/><use href="#fc" x="162.0" y="396.7"/><use href="#fc" x="341.3" y="271.9"/><use href="#fc" x="147.2" y="437.3"/><use href="#fc" x="420.2" y="317.1"/><use href="#fc" x="405.1" y="278.6"/><use href="#fc" x="94.1" y="587.7"/><use href="#fc" x="100.8" y="220.8"/><use href="#fc" x="377.4" y="280.8"/><use href="#fc" x="237.2" y="409.7"/><use href="#fc" x="215.4" y="447.1"/><use href="#fc" x="166.1" y="447.4"/><use href="#fc" x="223.5" y="423.1"/><use href="#fc" x="294.1" y="357.1"/><use href="#fc" x="223.1" y="236.8"/><use href="#fc" x="171.2" y="550.4"/><use href="#fc" x="353.1" y="549.8"/><use href="#fc" x="300.6" y="297.1"/><use href="#fc" x="282.5" y="598.5"/><use href="#fc" x="220.2" y="140.9"/><use href="#fc" x="335.5" y="578.0"/><use href="#fc" x="373.6" y="513.3"/><use href="#fc" x="221.0" y="498.3"/><use href="#fc" x="173.0" y="220.7"/><use href="#fc" x="364.2" y="521.2"/><use href="#fc" x="208.7" y="208.1"/><use href="#fc" x="289.7" y="555.8"/><use href="#fc" x="238.0" y="587.5"/><use href="#fc" x="235.3" y="249.7"/><use href="#fc" x="249.4" y="409.9"/><use href="#fc" x="254.6" y="332.5"/><use href="#fc" x="152.5" y="82.4"/><use href="#fc" x="209.6" y="123.9"/><use href="#fc" x="196.1" y="180.4"/><use href="#fc" x="113.8" y="227.0"/><use href="#fc" x="148.0" y="399.6"/><use href="#fc" x="61.7" y="370.4"/><use href="#fc" x="119.0" y="258.4"/><use href="#fc" x="42.9" y="377.7"/><use href="#fc" x="157.4" y="219.7"/><use href="#fc" x="282.5" y="354.5"/><use href="#fc" x="156.0" y="270.2"/><use href="#fc" x="192.8" y="264.9"/><use href="#fc" x="404.1" y="513.9"/><use href="#fc" x="337.0" y="261.6"/><use href="#fc" x="373.4" y="483.0"/><use href="#fc" x="45.2" y="276.6"/><use href="#fc" x="213.7" y="511.7"/><use href="#fc" x="308.3" y="386.1"/><use href="#fc" x="178.9" y="80.0"/><use href="#fc" x="244.3" y="382.3"/><use href="#fc" x="346.1" y="524.7"/><use href="#fc" x="114.1" y="372.3"/><use href="#fc" x="49.6" y="389.4"/><use href="#fc" x="291.6" y="170.2"/><use href="#fc" x="219.6" y="263.5"/><use href="#fc" x="186.5" y="278.6"/><use href="#fc" x="300.0" y="464.3"/><use href="#fc" x="79.3" y="219.8"/><use href="#fc" x="195.5" y="364.8"/><use href="#fc" x="208.8" y="420.8"/><use href="#fc" x="417.0" y="217.2"/><use href="#fc" x="264.2" y="410.2"/><use href="#fc" x="249.3" y="196.3"/><use href="#fc" x="212.0" y="288.2"/><use href="#fc" x="196.4" y="440.2"/><use href="#fc" x="391.1" y="210.3"/><use href="#fc" x="178.1" y="569.8"/><use href="#fc" x="157.1" y="527.5"/><use href="#fc" x="357.7" y="498.0"/><use href="#fc" x="402.5" y="297.9"/><use href="#fc" x="186.8" y="46.8"/><use href="#fc" x="122.7" y="234.0"/><use href="#fc" x="178.5" y="197.3"/><use href="#fc" x="336.5" y="228.0"/><use href="#fc" x="254.3" y="467.5"/><use href="#fc" x="89.6" y="124.2"/><use href="#fc" x="433.2" y="320.9"/><use href="#fc" x="183.6" y="362.7"/><use href="#fc" x="304.7" y="593.8"/><use href="#fc" x="229.5" y="120.7"/><use href="#fc" x="274.4" y="376.2"/><use href="#fc" x="281.1" y="104.8"/><use href="#fc" x="122.9" y="382.1"/><use href="#fc" x="233.7" y="177.5"/><use href="#fc" x="318.2" y="579.7"/><use href="#fc" x="210.5" y="225.8"/><use href="#fc" x="85.0" y="371.0"/><use href="#fc" x="237.2" y="313.9"/><use href="#fc" x="188.4" y="208.9"/><use href="#fc" x="228.5" y="552.2"/><use href="#fc" x="199.2" y="336.8"/><use href="#fc" x="109.6" y="143.8"/><use href="#fc" x="239.2" y="598.5"/><use href="#fc" x="223.3" y="99.8"/><use href="#fc" x="376.0" y="526.1"/><use href="#fc" x="134.0" y="520.3"/><use href="#fc" x="157.8" y="244.0"/><use href="#fc" x="247.0" y="293.5"/><use href="#fc" x="222.9" y="533.8"/><use href="#fc" x="321.1" y="305.9"/><use href="#fc" x="303.0" y="373.3"/><use href="#fc" x="381.0" y="107.5"/><use href="#fc" x="285.5" y="407.8"/><use href="#fc" x="127.2" y="564.2"/><use href="#fc" x="432.0" y="308.4"/><use href="#fc" x="189.5" y="413.8"/><use href="#fc" x="167.3" y="410.7"/><use href="#fc" x="301.1" y="421.1"/><use href="#fc" x="211.9" y="254.2"/><use href="#fc" x="189.9" y="477.2"/><use href="#fc" x="286.0" y="460.7"/><use href="#fc" x="286.3" y="122.2"/><use href="#fc" x="334.8" y="544.9"/><use href="#fc" x="181.2" y="343.7"/><use href="#fc" x="179.4" y="65.6"/><use href="#fc" x="188.1" y="190.9"/><use href="#fc" x="387.1" y="288.4"/><use href="#fc" x="78.0" y="237.6"/><use href="#fc" x="383.9" y="221.7"/><use href="#fc" x="238.6" y="396.4"/><use href="#fc" x="374.1" y="233.8"/><use href="#fc" x="253.1" y="524.4"/><use href="#fc" x="421.1" y="254.1"/><use href="#fc" x="191.7" y="139.7"/><use href="#fc" x="142.9" y="338.2"/><use href="#fc" x="275.6" y="620.0"/><use href="#fc" x="198.2" y="286.7"/><use href="#fc" x="258.6" y="420.5"/><use href="#fc" x="159.6" y="438.2"/><use href="#fc" x="440.0" y="298.3"/><use href="#fc" x="164.2" y="52.0"/><use href="#fc" x="159.8" y="171.2"/><use href="#fc" x="82.7" y="269.7"/><use href="#fc" x="279.1" y="162.9"/><use href="#fc" x="239.7" y="159.9"/><use href="#fc" x="249.7" y="493.6"/><use href="#fc" x="109.8" y="598.0"/><use href="#fc" x="259.7" y="389.2"/><use href="#fc" x="114.8" y="500.5"/><use href="#fc" x="167.6" y="590.5"/><use href="#fc" x="59.0" y="336.5"/><use href="#fc" x="280.3" y="477.4"/><use href="#fc" x="186.6" y="152.7"/><use href="#fc" x="209.3" y="402.5"/><use href="#fc" x="92.0" y="423.9"/><use href="#fc" x="260.3" y="356.4"/><use href="#fc" x="353.1" y="514.6"/><use href="#fc" x="330.0" y="516.6"/><use href="#fc" x="207.5" y="265.7"/><use href="#fc" x="81.2" y="354.6"/><use href="#fc" x="159.2" y="194.2"/><use href="#fc" x="312.4" y="322.6"/><use href="#fc" x="243.6" y="263.8"/><use href="#fc" x="326.6" y="220.0"/><use href="#fc" x="63.7" y="255.1"/><use href="#fc" x="61.2" y="385.7"/><use href="#fc" x="309.1" y="448.2"/><use href="#fc" x="260.1" y="184.7"/><use href="#fc" x="169.0" y="268.9"/><use href="#fc" x="50.5" y="454.8"/><use href="#fc" x="332.9" y="528.2"/><use href="#fc" x="154.3" y="98.1"/><use href="#fc" x="116.7" y="568.1"/><use href="#fc" x="336.3" y="469.4"/><use href="#fc" x="320.2" y="546.9"/><use href="#fc" x="175.3" y="533.9"/><use href="#fc" x="142.7" y="279.6"/><use href="#fc" x="220.8" y="565.6"/><use href="#fc" x="94.8" y="237.2"/><use href="#fc" x="143.1" y="409.7"/><use href="#fc" x="276.2" y="343.2"/><use href="#fc" x="83.9" y="145.9"/><use href="#fc" x="235.7" y="484.0"/><use href="#fc" x="288.6" y="572.9"/><use href="#fc" x="181.8" y="466.3"/><use href="#fc" x="319.3" y="194.1"/><use href="#fc" x="253.3" y="442.8"/><use href="#fc" x="345.4" y="588.0"/><use href="#fc" x="347.6" y="482.0"/><use href="#fc" x="255.5" y="371.2"/><use href="#fc" x="78.1" y="329.8"/><use href="#fc" x="27.3" y="362.9"/><use href="#fc" x="349.3" y="561.6"/><use href="#fc" x="195.1" y="251.0"/><use href="#fc" x="107.1" y="283.0"/><use href="#fc" x="194.4" y="128.8"/><use href="#fc" x="265.3" y="613.2"/><use href="#fc" x="104.1" y="524.1"/><use href="#fc" x="166.5" y="84.2"/><use href="#fc" x="269.9" y="447.6"/><use href="#fc" x="295.8" y="509.7"/><use href="#fc" x="121.3" y="361.1"/><use href="#fc" x="155.8" y="125.2"/><use href="#fc" x="248.0" y="182.7"/><use href="#fc" x="200.4" y="168.3"/><use href="#fc" x="225.2" y="151.0"/><use href="#fc" x="90.2" y="322.7"/><use href="#fc" x="52.0" y="240.9"/><use href="#fc" x="203.3" y="135.8"/><use href="#fc" x="235.1" y="472.7"/><use href="#fc" x="95.8" y="399.7"/><use href="#fc" x="250.2" y="544.4"/><use href="#fc" x="51.0" y="427.1"/><use href="#fc" x="415.5" y="266.8"/><use href="#fc" x="382.3" y="321.8"/><use href="#fc" x="155.9" y="562.0"/><use href="#fc" x="333.5" y="204.3"/><use href="#fc" x="81.4" y="156.8"/><use href="#fc" x="142.3" y="140.0"/><use href="#fc" x="73.1" y="261.4"/><use href="#fc" x="71.0" y="176.9"/><use href="#fc" x="203.3" y="493.2"/><use href="#fc" x="274.0" y="397.5"/><use href="#fc" x="122.8" y="588.4"/><use href="#fc" x="207.4" y="89.1"/><use href="#fc" x="204.8" y="476.5"/><use href="#fc" x="176.8" y="174.7"/><use href="#fc" x="206.2" y="596.8"/><use href="#fc" x="330.2" y="337.3"/><use href="#fc" x="367.6" y="112.5"/><use href="#fc" x="238.2" y="275.5"/><use href="#fc" x="229.9" y="190.3"/><use href="#fc" x="70.5" y="295.3"/><use href="#fc" x="47.1" y="208.5"/><use href="#fc" x="218.3" y="314.5"/><use href="#fc" x="205.7" y="388.8"/><use href="#fc" x="120.3" y="316.9"/><use href="#fc" x="235.5" y="374.9"/><use href="#fc" x="125.8" y="347.6"/><use href="#fc" x="133.8" y="389.7"/><use href="#fc" x="325.4" y="570.5"/><use href="#fc" x="73.6" y="425.6"/><use href="#fc" x="32.8" y="333.5"/><use href="#fc" x="20.3" y="309.9"/><use href="#fc" x="71.1" y="309.9"/><use href="#fc" x="47.6" y="306.3"/><use href="#fc" x="47.1" y="314.2"/><use href="#fc" x="84.6" y="260.4"/><use href="#fc" x="97.4" y="299.6"/><use href="#fc" x="35.2" y="283.1"/><use href="#fc" x="82.9" y="318.3"/><use href="#fc" x="80.9" y="298.6"/><use href="#fc" x="56.7" y="314.6"/><use href="#fc" x="96.9" y="280.2"/><use href="#fc" x="66.7" y="287.0"/><use href="#fc" x="71.6" y="324.8"/><use href="#fc" x="30.9" y="300.8"/><use href="#fc" x="55.7" y="296.1"/><use href="#fc" x="54.4" y="286.4"/><use href="#fc" x="36.5" y="261.5"/><use href="#fc" x="23.8" y="334.6"/><use href="#fc" x="86.0" y="332.0"/><use href="#fc" x="51.8" y="273.0"/><use href="#fc" x="22.3" y="260.1"/><use href="#fc" x="84.3" y="305.7"/><use href="#fc" x="22.0" y="273.7"/><use href="#fc" x="55.5" y="263.5"/><use href="#fc" x="20.0" y="283.7"/><use href="#fc" x="28.0" y="291.7"/><use href="#fc" x="49.8" y="338.6"/><use href="#fc" x="33.6" y="321.8"/><use href="#fc" x="46.1" y="323.4"/><use href="#fc" x="89.0" y="279.4"/><use href="#fc" x="27.2" y="266.5"/><use href="#fc" x="74.9" y="275.9"/><use href="#fc" x="92.9" y="314.9"/><use href="#fc" x="41.5" y="267.6"/><use href="#fc" x="28.4" y="280.0"/><use href="#fc" x="37.4" y="312.8"/><use href="#fc" x="64.7" y="303.6"/><use href="#fc" x="94.3" y="267.8"/><use href="#fc" x="40.0" y="339.8"/><use href="#fc" x="42.3" y="285.6"/><use href="#fc" x="98.2" y="255.5"/><use href="#fc" x="87.7" y="287.4"/><use href="#fc" x="35.6" y="272.4"/><use href="#fc" x="68.9" y="334.8"/><use href="#fc" x="78.2" y="380.6"/><use href="#fc" x="49.1" y="405.6"/><use href="#fc" x="73.8" y="396.6"/><use href="#fc" x="97.3" y="349.5"/><use href="#fc" x="65.0" y="414.7"/><use href="#fc" x="67.8" y="344.1"/><use href="#fc" x="97.4" y="386.4"/><use href="#fc" x="45.0" y="359.5"/><use href="#fc" x="115.4" y="404.9"/><use href="#fc" x="90.5" y="411.6"/><use href="#fc" x="33.1" y="418.4"/><use href="#fc" x="21.6" y="378.0"/><use href="#fc" x="66.0" y="358.4"/><use href="#fc" x="106.0" y="419.7"/><use href="#fc" x="115.5" y="350.9"/><use href="#fc" x="64.8" y="402.9"/><use href="#fc" x="98.1" y="365.6"/><use href="#fc" x="25.5" y="410.5"/><use href="#fc" x="54.1" y="377.2"/><use href="#fc" x="83.8" y="400.5"/><use href="#fc" x="119.9" y="331.9"/><use href="#fc" x="37.9" y="398.4"/><use href="#fc" x="35.2" y="351.7"/><use href="#fc" x="87.0" y="385.3"/><use href="#fc" x="53.4" y="350.8"/><use href="#fc" x="138.3" y="293.9"/><use href="#fc" x="210.5" y="143.5"/><use href="#fc" x="149.3" y="157.8"/><use href="#fc" x="173.2" y="235.1"/><use href="#fc" x="105.9" y="173.0"/><use href="#fc" x="152.6" y="202.2"/><use href="#fc" x="172.5" y="280.7"/><use href="#fc" x="150.4" y="306.7"/><use href="#fc" x="177.6" y="301.8"/><use href="#fc" x="228.1" y="324.3"/><use href="#fc" x="115.4" y="248.0"/><use href="#fc" x="110.9" y="210.7"/><use href="#fc" x="106.1" y="266.1"/><use href="#fc" x="172.1" y="316.0"/><use href="#fc" x="105.3" y="443.1"/><use href="#fc" x="130.1" y="401.9"/><use href="#fc" x="94.8" y="486.8"/><use href="#fc" x="165.2" y="461.5"/><use href="#fc" x="116.9" y="472.5"/><use href="#fc" x="130.9" y="496.9"/><use href="#fc" x="124.0" y="416.9"/><use href="#fc" x="197.4" y="428.1"/><use href="#fc" x="188.8" y="510.5"/><use href="#fc" x="66.1" y="437.9"/><use href="#fc" x="155.5" y="473.7"/><use href="#fc" x="138.2" y="427.2"/><use href="#fc" x="176.4" y="390.8"/><use href="#fc" x="144.3" y="506.4"/><use href="#fc" x="154.7" y="489.7"/><use href="#fc" x="160.8" y="501.8"/><use href="#fc" x="122.3" y="445.0"/><use href="#fc" x="52.6" y="472.0"/><use href="#fc" x="76.4" y="460.7"/><use href="#fc" x="34.0" y="439.4"/>
</g>
<!-- right map -->
<g id="mapR" stroke-linejoin="round">
<g transform="translate(1099.7 165.4) scale(0.9874 0.9927)">
<use href="#pw" fill="#ffffff" stroke="#d43a50" stroke-width="0.6"/>
<use href="#po" fill="#ff7f08" stroke="#ee5a06" stroke-width="0.7"/>
<use href="#py" fill="#ff7f08" stroke="#ee5a06" stroke-width="0.7"/>
<use href="#pl" fill="none" stroke="#c8283c" stroke-width="0.75"/>
</g>
<use href="#bq" x="1240.8" y="207.1"/><use href="#bq" x="1297.2" y="226.3"/><use href="#bq" x="1341.7" y="254.5"/><use href="#bq" x="1315.6" y="265.5"/><use href="#bq" x="1278.8" y="278.2"/><use href="#bq" x="1305.2" y="282.7"/><use href="#bq" x="1303.1" y="291.6"/><use href="#bq" x="1417.9" y="300.5"/><use href="#bq" x="1222.5" y="324.8"/><use href="#bq" x="1254.2" y="330.1"/><use href="#bq" x="1331.3" y="340.5"/><use href="#bq" x="1285.3" y="350.0"/><use href="#bq" x="1360.3" y="350.3"/><use href="#bq" x="1436.5" y="343.5"/><use href="#bq" x="1175.0" y="353.8"/><use href="#bq" x="1416.7" y="370.1"/><use href="#bq" x="1178.6" y="374.6"/><use href="#bq" x="1165.8" y="382.0"/><use href="#bq" x="1172.6" y="390.9"/><use href="#bq" x="1304.6" y="382.0"/><use href="#bq" x="1330.7" y="382.0"/><use href="#bq" x="1195.5" y="394.8"/><use href="#bq" x="1163.8" y="398.3"/><use href="#bq" x="1177.7" y="404.2"/><use href="#bq" x="1243.8" y="399.8"/><use href="#bq" x="1161.7" y="408.7"/><use href="#bq" x="1322.4" y="405.7"/><use href="#bq" x="1168.8" y="420.0"/><use href="#bq" x="1297.2" y="419.1"/><use href="#bq" x="1325.4" y="423.5"/><use href="#bq" x="1478.9" y="391.8"/><use href="#bq" x="1495.3" y="422.9"/><use href="#bq" x="1389.1" y="429.5"/><use href="#bq" x="1203.8" y="434.8"/><use href="#bq" x="1190.4" y="442.2"/><use href="#bq" x="1200.8" y="443.1"/><use href="#bq" x="1203.8" y="451.1"/><use href="#bq" x="1245.3" y="437.2"/><use href="#bq" x="1276.4" y="433.9"/><use href="#bq" x="1304.6" y="442.2"/><use href="#bq" x="1318.5" y="440.2"/><use href="#bq" x="1390.0" y="433.3"/><use href="#bq" x="1153.4" y="452.0"/><use href="#bq" x="1167.6" y="456.2"/><use href="#bq" x="1183.0" y="466.0"/><use href="#bq" x="1175.6" y="468.0"/><use href="#bq" x="1200.8" y="475.7"/><use href="#bq" x="1344.6" y="457.7"/><use href="#bq" x="1320.9" y="466.0"/><use href="#bq" x="1328.3" y="480.2"/><use href="#bq" x="1449.9" y="449.7"/><use href="#bq" x="1476.0" y="455.6"/><use href="#bq" x="1513.0" y="456.2"/><use href="#bq" x="1529.9" y="449.1"/><use href="#bq" x="1457.3" y="468.9"/><use href="#bq" x="1540.9" y="466.0"/><use href="#bq" x="1521.1" y="475.7"/><use href="#bq" x="1531.4" y="490.3"/><use href="#bq" x="1516.0" y="492.1"/><use href="#bq" x="1498.2" y="494.7"/><use href="#bq" x="1484.9" y="491.2"/><use href="#bq" x="1470.6" y="499.5"/><use href="#bq" x="1426.2" y="493.2"/><use href="#bq" x="1452.9" y="508.1"/><use href="#bq" x="1455.2" y="525.3"/><use href="#bq" x="1419.6" y="524.4"/><use href="#bq" x="1152.8" y="485.8"/><use href="#bq" x="1156.9" y="491.2"/><use href="#bq" x="1155.7" y="496.5"/><use href="#bq" x="1173.5" y="503.9"/><use href="#bq" x="1131.1" y="508.4"/><use href="#bq" x="1212.1" y="515.5"/><use href="#bq" x="1171.2" y="532.1"/><use href="#bq" x="1206.7" y="541.6"/><use href="#bq" x="1292.1" y="506.9"/><use href="#bq" x="1355.0" y="494.1"/><use href="#bq" x="1356.5" y="499.5"/><use href="#bq" x="1351.4" y="521.7"/><use href="#bq" x="1372.2" y="517.3"/><use href="#bq" x="1340.8" y="541.6"/><use href="#bq" x="1354.1" y="553.4"/><use href="#bq" x="1394.4" y="558.8"/><use href="#bq" x="1386.1" y="576.3"/><use href="#bq" x="1234.0" y="574.2"/><use href="#bq" x="1251.2" y="584.6"/><use href="#bq" x="1317.9" y="572.7"/><use href="#bq" x="1323.0" y="582.5"/><use href="#bq" x="1304.6" y="591.1"/><use href="#bq" x="1280.0" y="591.4"/><use href="#bq" x="1254.8" y="598.8"/><use href="#bq" x="1280.9" y="600.9"/><use href="#bq" x="1133.5" y="592.9"/><use href="#bq" x="1222.2" y="614.2"/><use href="#bq" x="1229.6" y="616.6"/><use href="#bq" x="1140.6" y="625.5"/><use href="#bq" x="1149.8" y="624.0"/><use href="#bq" x="1169.7" y="624.6"/><use href="#bq" x="1360.3" y="615.7"/><use href="#bq" x="1370.4" y="613.6"/><use href="#bq" x="1357.4" y="627.0"/><use href="#bq" x="1378.7" y="629.9"/><use href="#bq" x="1398.0" y="617.2"/><use href="#bq" x="1414.3" y="626.7"/><use href="#bq" x="1441.0" y="634.1"/><use href="#bq" x="1466.6" y="651.2"/><use href="#bq" x="1457.7" y="662.1"/><use href="#bq" x="1491.6" y="669.4"/><use href="#bq" x="1482.7" y="682.1"/><use href="#bq" x="1402.4" y="658.3"/><use href="#bq" x="1395.9" y="666.5"/><use href="#bq" x="1312.0" y="656.2"/><use href="#bq" x="1310.5" y="665.0"/><use href="#bq" x="1330.5" y="664.1"/><use href="#bq" x="1214.2" y="662.1"/><use href="#bq" x="1253.1" y="676.8"/><use href="#bq" x="1345.8" y="675.3"/><use href="#bq" x="1367.0" y="674.4"/><use href="#bq" x="1206.0" y="680.6"/><use href="#bq" x="1198.6" y="690.6"/><use href="#bq" x="1268.4" y="688.6"/><use href="#bq" x="1320.8" y="695.4"/><use href="#bq" x="1383.5" y="687.7"/><use href="#bq" x="1417.1" y="686.2"/><use href="#bq" x="1434.2" y="679.7"/><use href="#bq" x="1458.6" y="695.4"/><use href="#bq" x="1447.4" y="709.8"/><use href="#bq" x="1430.6" y="712.7"/><use href="#bq" x="1291.4" y="708.3"/><use href="#bq" x="1231.6" y="717.1"/><use href="#bq" x="1225.1" y="725.4"/><use href="#bq" x="1373.2" y="720.1"/><use href="#bq" x="1375.9" y="729.8"/><use href="#bq" x="1441.5" y="731.3"/><use href="#bq" x="1279.0" y="729.2"/><use href="#bq" x="1292.0" y="738.0"/><use href="#bq" x="1395.3" y="739.5"/><use href="#bq" x="1261.9" y="748.9"/><use href="#bq" x="1277.5" y="758.4"/><use href="#bq" x="1342.9" y="763.7"/><use href="#bq" x="1189.8" y="757.2"/><use href="#bq" x="1181.0" y="760.1"/>
</g>
<!-- circles -->
<g id="circles">
<defs><g id="rings">
<circle class="ring" cx="686" cy="350" r="124"/>
<circle class="ring2" cx="684.5" cy="358" r="116.5"/>
<circle class="ring" cx="579" cy="540.5" r="118.5"/>
<circle class="ring2" cx="583.3" cy="533" r="113"/>
<circle class="ring" cx="858" cy="486" r="137"/>
<circle class="ring2" cx="854" cy="484" r="131"/>
<circle class="ring" cx="971" cy="334" r="93"/>
<circle class="ring2" cx="971.4" cy="337" r="88.6"/>
<circle class="ring2" cx="1017" cy="605" r="82"/>
<circle class="ring" cx="815" cy="662" r="87"/>
<circle class="ring2" cx="816" cy="659" r="82"/>
<circle class="ring" cx="889" cy="718" r="76.5"/>
<circle class="ring2" cx="887" cy="716" r="71"/>
</g></defs>
<use href="#rings"/>
<circle class="of" cx="590" cy="526.2" r="107.4"/>
<circle class="of" cx="966.7" cy="339.5" r="79.6"/>
<circle class="of" cx="1020" cy="602.5" r="75"/>
<circle class="of" cx="818" cy="656" r="77.5"/>
<use href="#rings" opacity="0.4"/>

<text class="b" x="596" y="318" font-size="28" textLength="174" lengthAdjust="spacingAndGlyphs">2.077 MIO. €</text>
<text class="i" x="594" y="341.7" font-size="19" textLength="159" lengthAdjust="spacingAndGlyphs">INNENUMSATZ ZU</text>
<text class="i" x="593" y="361.6" font-size="19" textLength="101" lengthAdjust="spacingAndGlyphs">INDUSTRIE-</text>
<text class="i" x="594" y="381.4" font-size="19" textLength="151" lengthAdjust="spacingAndGlyphs">ABGABEPREISEN</text>
<text class="i" x="594" y="401" font-size="19" textLength="115" lengthAdjust="spacingAndGlyphs">OHNE MWST.</text>

<text class="b" x="496.5" y="505" font-size="28" textLength="87" lengthAdjust="spacingAndGlyphs">34,1 %</text>
<text class="i" x="496.5" y="531.6" font-size="19" textLength="132" lengthAdjust="spacingAndGlyphs">EIGENKAPITAL-</text>
<text class="i" x="496.5" y="554" font-size="19" textLength="189" lengthAdjust="spacingAndGlyphs">QUOTE DER expert SE</text>

<text class="b" x="733" y="494.5" font-size="28.5" textLength="137.7" lengthAdjust="spacingAndGlyphs">448.000 m</text>
<text class="b" x="872.3" y="484.5" font-size="16">2</text>
<text class="i" x="733" y="517" font-size="16.5" textLength="242" lengthAdjust="spacingAndGlyphs">GESAMTVERKAUFSFLÄCHE</text>

<text class="b" x="1032.5" y="321" font-size="30.5" text-anchor="end" textLength="56" lengthAdjust="spacingAndGlyphs">277</text>
<text class="i" x="1032" y="347.4" font-size="19.5" text-anchor="end" textLength="137" lengthAdjust="spacingAndGlyphs">FACHMÄRKTE</text>

<text class="b" x="1067.6" y="585.3" font-size="31" text-anchor="end" textLength="49" lengthAdjust="spacingAndGlyphs">211</text>
<text class="i" x="1067.6" y="611.6" font-size="19" text-anchor="end" textLength="83" lengthAdjust="spacingAndGlyphs">GESELL-</text>
<text class="i" x="1067.6" y="637.5" font-size="19.5" text-anchor="end" textLength="105" lengthAdjust="spacingAndGlyphs">SCHAFTER</text>

<text class="b" x="757" y="656.4" font-size="30" textLength="57.6" lengthAdjust="spacingAndGlyphs">409</text>
<text class="i" x="757" y="683.2" font-size="20" textLength="122.6" lengthAdjust="spacingAndGlyphs">STANDORTE</text>

<text class="b" x="943" y="719.7" font-size="24.7" text-anchor="end" textLength="45.7" lengthAdjust="spacingAndGlyphs">145</text>
<text class="i" x="942.4" y="735.4" font-size="10" text-anchor="end" textLength="48.5" lengthAdjust="spacingAndGlyphs">davon mit</text>
<text class="i" x="941.8" y="757.3" font-size="20.6" text-anchor="end" textLength="85" lengthAdjust="spacingAndGlyphs">Werkstatt</text>
</g>
<!-- footer -->
<g id="footer">
<rect x="0" y="828.5" width="1559" height="4.5" fill="#dc6b1c"/>
<text x="9" y="857" font-size="19" font-weight="bold" fill="#1c1c1c" stroke="#1c1c1c" stroke-width="0.5" textLength="86" lengthAdjust="spacingAndGlyphs" style="font-family:'DejaVu Sans','Liberation Sans',sans-serif;">expert</text>
<g transform="translate(116 851)">
<circle r="14.5" fill="#fffaf6" stroke="#eeb08a" stroke-width="1.3"/>
<path d="M-11,-5 L-3,-5 L-5,0 L-3,5 L-11,5 L-8,0 Z" fill="#f08a50"/>
<path d="M11,-5 L3,-5 L5,0 L3,5 L11,5 L8,0 Z" fill="#f08a50"/>
<path d="M-3,-7 L3,-7 L0,-10 Z" fill="#f08a50"/>
<path d="M-3,6 L3,6 L0,11 Z" fill="#f08a50"/>
</g>
<text x="778" y="861" font-size="22" fill="#7f7f7f" text-anchor="middle" textLength="345" lengthAdjust="spacingAndGlyphs">Bilanzpressekonferenz / 09.07.2020</text>
<text x="1520" y="861" font-size="22" font-weight="bold" fill="#7f7f7f" text-anchor="middle">4</text>
</g>
</svg>
</body>
</html>
